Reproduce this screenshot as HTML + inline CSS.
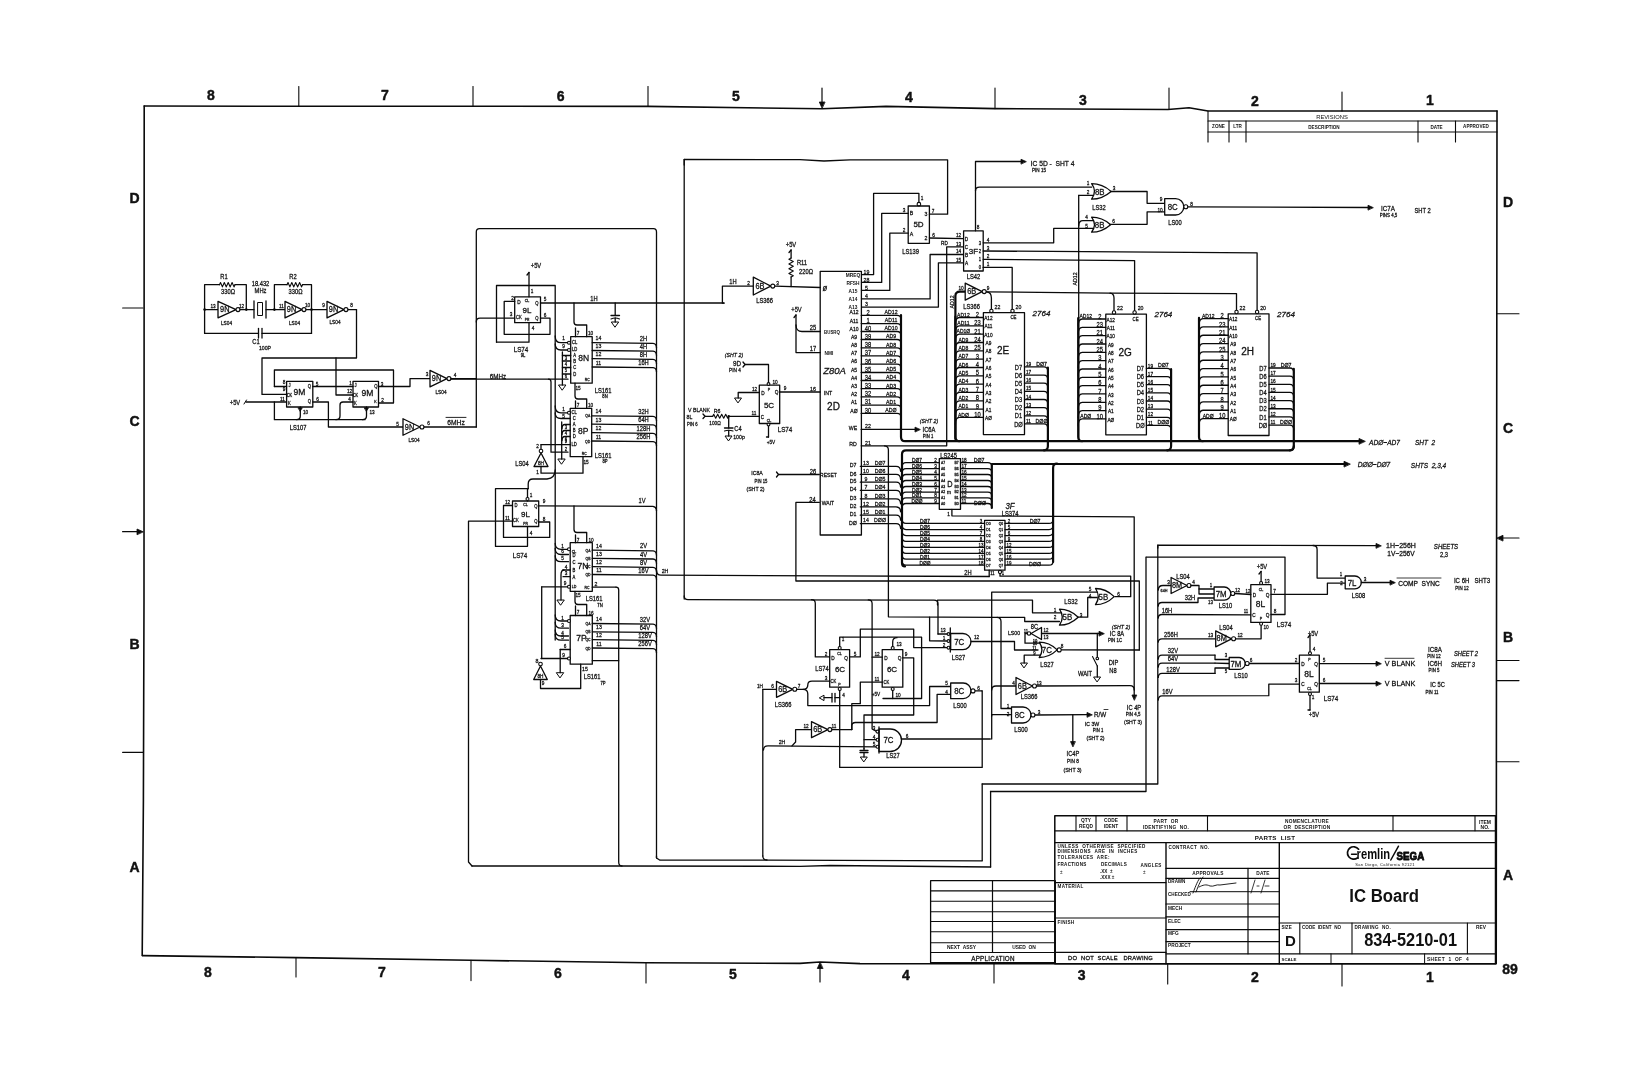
<!DOCTYPE html>
<html><head><meta charset="utf-8"><style>
html,body{margin:0;padding:0;background:#fff;}
body{width:1650px;height:1067px;overflow:hidden;}
svg{display:block;filter:grayscale(1);}
text{font-family:"Liberation Sans",sans-serif;white-space:pre;}
</style></head><body>
<svg width="1650" height="1067" viewBox="0 0 1650 1067" stroke-linecap="round" stroke-linejoin="round">
<rect x="0" y="0" width="1650" height="1067" fill="#fff"/>
<polyline points="144.2,106.0 298.8,106.3 473.0,106.2 648.0,106.4 822.0,108.8 886.0,106.4 995.0,108.6 1168.0,109.5 1189.0,107.8 1208.0,111.0 1497.0,111.0" fill="none" stroke="#0a0a0a" stroke-width="1.6"/>
<polyline points="144.2,106.0 144.0,600.0 143.4,800.0 142.2,955.6" fill="none" stroke="#0a0a0a" stroke-width="1.6"/>
<polyline points="142.5,955.6 296.0,957.6 471.0,960.3 646.0,962.7 800.0,963.4 820.0,962.0 860.0,963.6 930.6,963.8 1055.0,963.8 1495.6,963.8" fill="none" stroke="#0a0a0a" stroke-width="1.6"/>
<polyline points="1497.0,111.0 1496.2,963.8" fill="none" stroke="#0a0a0a" stroke-width="1.6"/>
<polyline points="298.8,86.5 298.8,106.3" fill="none" stroke="#0a0a0a" stroke-width="1.1"/>
<polyline points="473.0,86.5 473.0,106.2" fill="none" stroke="#0a0a0a" stroke-width="1.1"/>
<polyline points="648.0,86.5 648.0,106.4" fill="none" stroke="#0a0a0a" stroke-width="1.1"/>
<polyline points="995.0,88.0 995.0,108.6" fill="none" stroke="#0a0a0a" stroke-width="1.1"/>
<polyline points="1169.0,88.0 1169.0,109.5" fill="none" stroke="#0a0a0a" stroke-width="1.1"/>
<polyline points="1342.0,92.0 1342.0,111.0" fill="none" stroke="#0a0a0a" stroke-width="1.1"/>
<polyline points="822.0,88.0 822.0,104.0" fill="none" stroke="#0a0a0a" stroke-width="1.2"/>
<path d="M822,108 L819.3,102 L824.7,102 Z" fill="#0a0a0a" stroke="#0a0a0a" stroke-width="0.8"/>
<text x="210.8" y="95.0" font-family="Liberation Sans" font-size="14" text-anchor="middle" font-weight="bold" fill="#111" stroke="#111" stroke-width="0.45" dominant-baseline="central">8</text>
<text x="385.0" y="95.0" font-family="Liberation Sans" font-size="14" text-anchor="middle" font-weight="bold" fill="#111" stroke="#111" stroke-width="0.45" dominant-baseline="central">7</text>
<text x="560.6" y="95.5" font-family="Liberation Sans" font-size="14" text-anchor="middle" font-weight="bold" fill="#111" stroke="#111" stroke-width="0.45" dominant-baseline="central">6</text>
<text x="736.0" y="96.0" font-family="Liberation Sans" font-size="14" text-anchor="middle" font-weight="bold" fill="#111" stroke="#111" stroke-width="0.45" dominant-baseline="central">5</text>
<text x="909.0" y="96.5" font-family="Liberation Sans" font-size="14" text-anchor="middle" font-weight="bold" fill="#111" stroke="#111" stroke-width="0.45" dominant-baseline="central">4</text>
<text x="1083.0" y="100.0" font-family="Liberation Sans" font-size="14" text-anchor="middle" font-weight="bold" fill="#111" stroke="#111" stroke-width="0.45" dominant-baseline="central">3</text>
<text x="1255.0" y="100.5" font-family="Liberation Sans" font-size="14" text-anchor="middle" font-weight="bold" fill="#111" stroke="#111" stroke-width="0.45" dominant-baseline="central">2</text>
<text x="1430.0" y="99.5" font-family="Liberation Sans" font-size="14" text-anchor="middle" font-weight="bold" fill="#111" stroke="#111" stroke-width="0.45" dominant-baseline="central">1</text>
<polyline points="296.0,957.6 296.0,977.0" fill="none" stroke="#0a0a0a" stroke-width="1.1"/>
<polyline points="471.0,960.3 471.0,980.6" fill="none" stroke="#0a0a0a" stroke-width="1.1"/>
<polyline points="646.0,962.7 646.0,983.0" fill="none" stroke="#0a0a0a" stroke-width="1.1"/>
<polyline points="994.0,964.0 994.0,983.0" fill="none" stroke="#0a0a0a" stroke-width="1.1"/>
<polyline points="1167.7,964.0 1167.7,984.0" fill="none" stroke="#0a0a0a" stroke-width="1.1"/>
<polyline points="1342.0,964.0 1342.0,986.0" fill="none" stroke="#0a0a0a" stroke-width="1.1"/>
<polyline points="820.0,966.0 820.0,982.0" fill="none" stroke="#0a0a0a" stroke-width="1.2"/>
<path d="M820,962.5 L817.3,968.5 L822.7,968.5 Z" fill="#0a0a0a" stroke="#0a0a0a" stroke-width="0.8"/>
<text x="208.0" y="971.6" font-family="Liberation Sans" font-size="14" text-anchor="middle" font-weight="bold" fill="#111" stroke="#111" stroke-width="0.45" dominant-baseline="central">8</text>
<text x="382.0" y="971.5" font-family="Liberation Sans" font-size="14" text-anchor="middle" font-weight="bold" fill="#111" stroke="#111" stroke-width="0.45" dominant-baseline="central">7</text>
<text x="558.0" y="972.5" font-family="Liberation Sans" font-size="14" text-anchor="middle" font-weight="bold" fill="#111" stroke="#111" stroke-width="0.45" dominant-baseline="central">6</text>
<text x="733.0" y="974.0" font-family="Liberation Sans" font-size="14" text-anchor="middle" font-weight="bold" fill="#111" stroke="#111" stroke-width="0.45" dominant-baseline="central">5</text>
<text x="906.0" y="975.0" font-family="Liberation Sans" font-size="14" text-anchor="middle" font-weight="bold" fill="#111" stroke="#111" stroke-width="0.45" dominant-baseline="central">4</text>
<text x="1081.7" y="975.0" font-family="Liberation Sans" font-size="14" text-anchor="middle" font-weight="bold" fill="#111" stroke="#111" stroke-width="0.45" dominant-baseline="central">3</text>
<text x="1255.0" y="977.0" font-family="Liberation Sans" font-size="14" text-anchor="middle" font-weight="bold" fill="#111" stroke="#111" stroke-width="0.45" dominant-baseline="central">2</text>
<text x="1430.0" y="977.0" font-family="Liberation Sans" font-size="14" text-anchor="middle" font-weight="bold" fill="#111" stroke="#111" stroke-width="0.45" dominant-baseline="central">1</text>
<text x="1510.0" y="969.0" font-family="Liberation Sans" font-size="14" text-anchor="middle" font-weight="bold" fill="#111" stroke="#111" stroke-width="0.45" dominant-baseline="central">89</text>
<polyline points="122.6,308.0 143.0,308.0" fill="none" stroke="#0a0a0a" stroke-width="1.1"/>
<polyline points="122.6,752.4 143.0,752.4" fill="none" stroke="#0a0a0a" stroke-width="1.1"/>
<polyline points="122.6,531.7 137.0,531.7" fill="none" stroke="#0a0a0a" stroke-width="1.2"/>
<path d="M143,531.7 L137,529.0 L137,534.4000000000001 Z" fill="#0a0a0a" stroke="#0a0a0a" stroke-width="0.8"/>
<text x="134.6" y="197.8" font-family="Liberation Sans" font-size="14" text-anchor="middle" font-weight="bold" fill="#111" stroke="#111" stroke-width="0.45" dominant-baseline="central">D</text>
<text x="134.6" y="420.6" font-family="Liberation Sans" font-size="14" text-anchor="middle" font-weight="bold" fill="#111" stroke="#111" stroke-width="0.45" dominant-baseline="central">C</text>
<text x="134.6" y="644.0" font-family="Liberation Sans" font-size="14" text-anchor="middle" font-weight="bold" fill="#111" stroke="#111" stroke-width="0.45" dominant-baseline="central">B</text>
<text x="134.6" y="867.0" font-family="Liberation Sans" font-size="14" text-anchor="middle" font-weight="bold" fill="#111" stroke="#111" stroke-width="0.45" dominant-baseline="central">A</text>
<polyline points="1496.5,313.7 1519.0,313.7" fill="none" stroke="#0a0a0a" stroke-width="1.1"/>
<polyline points="1496.5,761.7 1519.0,761.7" fill="none" stroke="#0a0a0a" stroke-width="1.1"/>
<polyline points="1496.5,660.5 1519.0,660.5" fill="none" stroke="#0a0a0a" stroke-width="1.1"/>
<polyline points="1496.5,680.6 1519.0,680.6" fill="none" stroke="#0a0a0a" stroke-width="1.1"/>
<polyline points="1502.0,538.0 1519.0,538.0" fill="none" stroke="#0a0a0a" stroke-width="1.2"/>
<path d="M1497,538 L1503,535.3 L1503,540.7 Z" fill="#0a0a0a" stroke="#0a0a0a" stroke-width="0.8"/>
<text x="1508.0" y="202.0" font-family="Liberation Sans" font-size="14" text-anchor="middle" font-weight="bold" fill="#111" stroke="#111" stroke-width="0.45" dominant-baseline="central">D</text>
<text x="1508.0" y="428.0" font-family="Liberation Sans" font-size="14" text-anchor="middle" font-weight="bold" fill="#111" stroke="#111" stroke-width="0.45" dominant-baseline="central">C</text>
<text x="1508.0" y="637.0" font-family="Liberation Sans" font-size="14" text-anchor="middle" font-weight="bold" fill="#111" stroke="#111" stroke-width="0.45" dominant-baseline="central">B</text>
<text x="1508.0" y="875.0" font-family="Liberation Sans" font-size="14" text-anchor="middle" font-weight="bold" fill="#111" stroke="#111" stroke-width="0.45" dominant-baseline="central">A</text>
<polyline points="1208.0,121.0 1497.0,121.0" fill="none" stroke="#0a0a0a" stroke-width="1.1"/>
<polyline points="1208.0,132.0 1497.0,132.0" fill="none" stroke="#0a0a0a" stroke-width="1.1"/>
<polyline points="1208.0,111.0 1208.0,142.0" fill="none" stroke="#0a0a0a" stroke-width="1.1"/>
<polyline points="1229.0,121.0 1229.0,142.0" fill="none" stroke="#0a0a0a" stroke-width="1.1"/>
<polyline points="1246.0,121.0 1246.0,142.0" fill="none" stroke="#0a0a0a" stroke-width="1.1"/>
<polyline points="1418.0,121.0 1418.0,142.0" fill="none" stroke="#0a0a0a" stroke-width="1.1"/>
<polyline points="1455.5,121.0 1455.5,142.0" fill="none" stroke="#0a0a0a" stroke-width="1.1"/>
<text x="1332.0" y="116.8" font-family="Liberation Sans" font-size="5.8" text-anchor="middle" font-weight="normal" fill="#111" dominant-baseline="central">REVISIONS</text>
<text x="1218.5" y="126.5" font-family="Liberation Sans" font-size="4.6" text-anchor="middle" font-weight="bold" fill="#111" dominant-baseline="central">ZONE</text>
<text x="1237.5" y="126.5" font-family="Liberation Sans" font-size="4.6" text-anchor="middle" font-weight="bold" fill="#111" dominant-baseline="central">LTR</text>
<text x="1324.0" y="127.5" font-family="Liberation Sans" font-size="4.6" text-anchor="middle" font-weight="bold" fill="#111" dominant-baseline="central">DESCRIPTION</text>
<text x="1436.5" y="127.0" font-family="Liberation Sans" font-size="4.6" text-anchor="middle" font-weight="bold" fill="#111" dominant-baseline="central">DATE</text>
<text x="1476.0" y="126.5" font-family="Liberation Sans" font-size="4.6" text-anchor="middle" font-weight="bold" fill="#111" dominant-baseline="central">APPROVED</text>
<rect x="1054.8" y="815.7" width="440.7" height="148.1" fill="none" stroke="#0a0a0a" stroke-width="1.5"/>
<polyline points="1054.8,830.8 1495.5,830.8" fill="none" stroke="#0a0a0a" stroke-width="1.2"/>
<polyline points="1054.8,842.7 1495.5,842.7" fill="none" stroke="#0a0a0a" stroke-width="1.2"/>
<polyline points="1076.0,815.7 1076.0,830.8" fill="none" stroke="#0a0a0a" stroke-width="1.1"/>
<polyline points="1096.0,815.7 1096.0,830.8" fill="none" stroke="#0a0a0a" stroke-width="1.1"/>
<polyline points="1127.0,815.7 1127.0,830.8" fill="none" stroke="#0a0a0a" stroke-width="1.1"/>
<polyline points="1207.5,815.7 1207.5,830.8" fill="none" stroke="#0a0a0a" stroke-width="1.1"/>
<polyline points="1393.0,815.7 1393.0,830.8" fill="none" stroke="#0a0a0a" stroke-width="1.1"/>
<polyline points="1475.0,815.7 1475.0,830.8" fill="none" stroke="#0a0a0a" stroke-width="1.1"/>
<text x="1086.0" y="820.5" font-family="Liberation Sans" font-size="4.8" text-anchor="middle" font-weight="bold" fill="#111" dominant-baseline="central">QTY</text>
<text x="1086.0" y="826.0" font-family="Liberation Sans" font-size="4.8" text-anchor="middle" font-weight="bold" fill="#111" dominant-baseline="central">REQD</text>
<text x="1111.0" y="820.5" font-family="Liberation Sans" font-size="4.8" text-anchor="middle" font-weight="bold" fill="#111" dominant-baseline="central">CODE</text>
<text x="1111.0" y="826.0" font-family="Liberation Sans" font-size="4.8" text-anchor="middle" font-weight="bold" fill="#111" dominant-baseline="central">IDENT</text>
<text x="1166.0" y="821.5" font-family="Liberation Sans" font-size="4.8" text-anchor="middle" font-weight="bold" letter-spacing="0.3" fill="#111" dominant-baseline="central">PART  OR</text>
<text x="1166.0" y="827.3" font-family="Liberation Sans" font-size="4.8" text-anchor="middle" font-weight="bold" letter-spacing="0.3" fill="#111" dominant-baseline="central">IDENTIFYING  NO.</text>
<text x="1307.0" y="821.5" font-family="Liberation Sans" font-size="4.8" text-anchor="middle" font-weight="bold" letter-spacing="0.3" fill="#111" dominant-baseline="central">NOMENCLATURE</text>
<text x="1307.0" y="827.3" font-family="Liberation Sans" font-size="4.8" text-anchor="middle" font-weight="bold" letter-spacing="0.3" fill="#111" dominant-baseline="central">OR  DESCRIPTION</text>
<text x="1485.0" y="821.5" font-family="Liberation Sans" font-size="5" text-anchor="middle" font-weight="bold" fill="#111" dominant-baseline="central">ITEM</text>
<text x="1485.0" y="827.3" font-family="Liberation Sans" font-size="5" text-anchor="middle" font-weight="bold" fill="#111" dominant-baseline="central">NO.</text>
<text x="1275.0" y="837.5" font-family="Liberation Sans" font-size="6.2" text-anchor="middle" font-weight="bold" letter-spacing="0.3" fill="#111" dominant-baseline="central">PARTS  LIST</text>
<polyline points="1166.0,842.7 1166.0,963.8" fill="none" stroke="#0a0a0a" stroke-width="1.4"/>
<polyline points="1279.3,842.7 1279.3,963.8" fill="none" stroke="#0a0a0a" stroke-width="1.4"/>
<text x="1057.5" y="846.2" font-family="Liberation Sans" font-size="4.6" text-anchor="start" font-weight="bold" letter-spacing="0.45" fill="#111" dominant-baseline="central">UNLESS  OTHERWISE  SPECIFIED</text>
<text x="1057.5" y="851.8" font-family="Liberation Sans" font-size="4.6" text-anchor="start" font-weight="bold" letter-spacing="0.45" fill="#111" dominant-baseline="central">DIMENSIONS  ARE  IN  INCHES</text>
<text x="1057.5" y="857.4" font-family="Liberation Sans" font-size="4.6" text-anchor="start" font-weight="bold" letter-spacing="0.45" fill="#111" dominant-baseline="central">TOLERANCES  ARE:</text>
<text x="1057.5" y="864.5" font-family="Liberation Sans" font-size="4.6" text-anchor="start" font-weight="bold" letter-spacing="0.25" fill="#111" dominant-baseline="central">FRACTIONS</text>
<text x="1101.0" y="864.8" font-family="Liberation Sans" font-size="4.6" text-anchor="start" font-weight="bold" letter-spacing="0.25" fill="#111" dominant-baseline="central">DECIMALS</text>
<text x="1140.5" y="865.2" font-family="Liberation Sans" font-size="4.6" text-anchor="start" font-weight="bold" letter-spacing="0.35" fill="#111" dominant-baseline="central">ANGLES</text>
<text x="1060.0" y="872.0" font-family="Liberation Sans" font-size="4.6" text-anchor="start" font-weight="normal" fill="#111" dominant-baseline="central">±</text>
<text x="1100.0" y="871.0" font-family="Liberation Sans" font-size="4.6" text-anchor="start" font-weight="bold" fill="#111" dominant-baseline="central">.XX  ±</text>
<text x="1100.0" y="877.0" font-family="Liberation Sans" font-size="4.6" text-anchor="start" font-weight="bold" fill="#111" dominant-baseline="central">.XXX ±</text>
<text x="1143.0" y="872.0" font-family="Liberation Sans" font-size="4.6" text-anchor="start" font-weight="normal" fill="#111" dominant-baseline="central">±</text>
<polyline points="1054.8,882.6 1166.0,882.6" fill="none" stroke="#0a0a0a" stroke-width="1.2"/>
<text x="1057.5" y="886.5" font-family="Liberation Sans" font-size="4.6" text-anchor="start" font-weight="bold" letter-spacing="0.35" fill="#111" dominant-baseline="central">MATERIAL</text>
<polyline points="1054.8,918.0 1166.0,918.0" fill="none" stroke="#0a0a0a" stroke-width="1.2"/>
<text x="1057.5" y="922.0" font-family="Liberation Sans" font-size="4.6" text-anchor="start" font-weight="bold" letter-spacing="0.3" fill="#111" dominant-baseline="central">FINISH</text>
<polyline points="1054.8,952.4 1166.0,952.4" fill="none" stroke="#0a0a0a" stroke-width="1.2"/>
<text x="1110.5" y="957.8" font-family="Liberation Sans" font-size="5.8" text-anchor="middle" font-weight="normal" letter-spacing="0.25" fill="#111" stroke="#111" stroke-width="0.28" dominant-baseline="central">DO  NOT  SCALE   DRAWING</text>
<text x="1168.5" y="847.0" font-family="Liberation Sans" font-size="4.6" text-anchor="start" font-weight="bold" letter-spacing="0.35" fill="#111" dominant-baseline="central">CONTRACT  NO.</text>
<polyline points="1166.0,868.4 1279.3,868.4" fill="none" stroke="#0a0a0a" stroke-width="1.2"/>
<text x="1208.0" y="873.0" font-family="Liberation Sans" font-size="4.8" text-anchor="middle" font-weight="bold" letter-spacing="0.2" fill="#111" dominant-baseline="central">APPROVALS</text>
<text x="1263.0" y="873.0" font-family="Liberation Sans" font-size="4.8" text-anchor="middle" font-weight="bold" letter-spacing="0.2" fill="#111" dominant-baseline="central">DATE</text>
<polyline points="1248.0,868.4 1248.0,953.8" fill="none" stroke="#0a0a0a" stroke-width="1.2"/>
<polyline points="1166.0,878.3 1279.3,878.3" fill="none" stroke="#0a0a0a" stroke-width="1.2"/>
<polyline points="1190.0,891.7 1279.3,891.7" fill="none" stroke="#0a0a0a" stroke-width="1.0"/>
<polyline points="1166.0,904.0 1279.3,904.0" fill="none" stroke="#0a0a0a" stroke-width="1.2"/>
<polyline points="1166.0,916.8 1279.3,916.8" fill="none" stroke="#0a0a0a" stroke-width="1.2"/>
<polyline points="1166.0,929.6 1279.3,929.6" fill="none" stroke="#0a0a0a" stroke-width="1.2"/>
<polyline points="1166.0,941.6 1279.3,941.6" fill="none" stroke="#0a0a0a" stroke-width="1.2"/>
<polyline points="1166.0,953.8 1279.3,953.8" fill="none" stroke="#0a0a0a" stroke-width="1.2"/>
<text x="1168.0" y="881.5" font-family="Liberation Sans" font-size="4.6" text-anchor="start" font-weight="bold" fill="#111" dominant-baseline="central">DRAWN</text>
<text x="1168.0" y="894.5" font-family="Liberation Sans" font-size="4.6" text-anchor="start" font-weight="bold" fill="#111" dominant-baseline="central">CHECKED</text>
<text x="1168.0" y="908.5" font-family="Liberation Sans" font-size="4.8" text-anchor="start" font-weight="bold" fill="#111" dominant-baseline="central">MECH</text>
<text x="1168.0" y="921.3" font-family="Liberation Sans" font-size="4.8" text-anchor="start" font-weight="bold" fill="#111" dominant-baseline="central">ELEC</text>
<text x="1168.0" y="933.5" font-family="Liberation Sans" font-size="4.8" text-anchor="start" font-weight="bold" fill="#111" dominant-baseline="central">MFG</text>
<text x="1168.0" y="945.5" font-family="Liberation Sans" font-size="4.8" text-anchor="start" font-weight="bold" fill="#111" dominant-baseline="central">PROJECT</text>
<path d="M1193,893 C1196,885 1198,880 1200,878 M1196,892 C1199,884 1201,880 1203,877 M1199,887 C1203,885 1206,884 1210,886 C1214,887 1216,884 1220,885 L1236,883" fill="none" stroke="#0a0a0a" stroke-width="0.9"/>
<path d="M1251,893 L1255,880 M1257,886 L1259,886 M1261,893 L1265,880 M1265,886 L1269,886" fill="none" stroke="#0a0a0a" stroke-width="0.8"/>
<polyline points="1279.3,868.4 1495.5,868.4" fill="none" stroke="#0a0a0a" stroke-width="1.2"/>
<path d="M1358.6,849.2 A6.2,6.2 0 1 0 1357.5,857.8" fill="none" stroke="#0a0a0a" stroke-width="1.7"/>
<polyline points="1351.5,854.3 1356.5,854.3" fill="none" stroke="#0a0a0a" stroke-width="1.4"/>
<text transform="translate(1356.6,859.3) scale(0.8,1)" font-family="Liberation Sans" font-size="14" font-weight="bold" fill="#0a0a0a">remlin</text>
<polyline points="1398.5,846.2 1390.8,860.0" fill="none" stroke="#0a0a0a" stroke-width="1.5"/>
<text transform="translate(1396.6,859.6) scale(0.84,1)" font-family="Liberation Sans" font-size="11.6" font-weight="bold" fill="#0a0a0a" stroke="#0a0a0a" stroke-width="0.9">SEGA</text>
<text x="1385.0" y="864.5" font-family="Liberation Sans" font-size="4.0" text-anchor="middle" font-weight="normal" letter-spacing="0.35" fill="#111" dominant-baseline="central">San Diego, California 92121</text>
<text transform="translate(1384.2,896.0) scale(0.9,1)" font-family="Liberation Sans" font-size="18.6" text-anchor="middle" font-weight="bold" fill="#111" dominant-baseline="central">IC Board</text>
<polyline points="1279.3,923.0 1495.5,923.0" fill="none" stroke="#0a0a0a" stroke-width="1.2"/>
<polyline points="1299.8,923.0 1299.8,953.8" fill="none" stroke="#0a0a0a" stroke-width="1.1"/>
<polyline points="1352.0,923.0 1352.0,953.8" fill="none" stroke="#0a0a0a" stroke-width="1.1"/>
<polyline points="1467.4,923.0 1467.4,953.8" fill="none" stroke="#0a0a0a" stroke-width="1.1"/>
<text x="1281.5" y="927.5" font-family="Liberation Sans" font-size="4.6" text-anchor="start" font-weight="bold" fill="#111" dominant-baseline="central">SIZE</text>
<text x="1302.0" y="927.5" font-family="Liberation Sans" font-size="4.6" text-anchor="start" font-weight="bold" fill="#111" dominant-baseline="central">CODE  IDENT  NO</text>
<text x="1354.5" y="927.5" font-family="Liberation Sans" font-size="4.6" text-anchor="start" font-weight="bold" letter-spacing="0.3" fill="#111" dominant-baseline="central">DRAWING  NO.</text>
<text x="1481.0" y="927.5" font-family="Liberation Sans" font-size="4.8" text-anchor="middle" font-weight="bold" fill="#111" dominant-baseline="central">REV</text>
<text x="1290.5" y="940.5" font-family="Liberation Sans" font-size="15" text-anchor="middle" font-weight="bold" fill="#111" dominant-baseline="central">D</text>
<text transform="translate(1410.6,940.0) scale(0.93,1)" font-family="Liberation Sans" font-size="17.6" text-anchor="middle" font-weight="bold" fill="#111" dominant-baseline="central">834-5210-01</text>
<polyline points="1279.3,953.8 1495.5,953.8" fill="none" stroke="#0a0a0a" stroke-width="1.2"/>
<polyline points="1331.0,953.8 1331.0,963.8" fill="none" stroke="#0a0a0a" stroke-width="1.0"/>
<polyline points="1424.6,953.8 1424.6,963.8" fill="none" stroke="#0a0a0a" stroke-width="1.0"/>
<text x="1281.5" y="959.5" font-family="Liberation Sans" font-size="4.4" text-anchor="start" font-weight="bold" fill="#111" dominant-baseline="central">SCALE</text>
<text x="1427.0" y="959.5" font-family="Liberation Sans" font-size="4.8" text-anchor="start" font-weight="bold" letter-spacing="0.4" fill="#111" dominant-baseline="central">SHEET  1  OF  4</text>
<rect x="930.6" y="880.7" width="124.7" height="82.0" fill="none" stroke="#0a0a0a" stroke-width="1.3"/>
<polyline points="992.5,880.7 992.5,952.5" fill="none" stroke="#0a0a0a" stroke-width="1.2"/>
<polyline points="930.6,890.9 1055.3,890.9" fill="none" stroke="#0a0a0a" stroke-width="1.1"/>
<polyline points="930.6,901.3 1055.3,901.3" fill="none" stroke="#0a0a0a" stroke-width="1.1"/>
<polyline points="930.6,911.8 1055.3,911.8" fill="none" stroke="#0a0a0a" stroke-width="1.1"/>
<polyline points="930.6,921.5 1055.3,921.5" fill="none" stroke="#0a0a0a" stroke-width="1.1"/>
<polyline points="930.6,931.8 1055.3,931.8" fill="none" stroke="#0a0a0a" stroke-width="1.1"/>
<polyline points="930.6,942.7 1055.3,942.7" fill="none" stroke="#0a0a0a" stroke-width="1.1"/>
<polyline points="930.6,952.5 1055.3,952.5" fill="none" stroke="#0a0a0a" stroke-width="1.1"/>
<text x="961.5" y="947.5" font-family="Liberation Sans" font-size="4.9" text-anchor="middle" font-weight="bold" fill="#111" dominant-baseline="central">NEXT  ASSY</text>
<text x="1024.0" y="947.3" font-family="Liberation Sans" font-size="4.9" text-anchor="middle" font-weight="bold" fill="#111" dominant-baseline="central">USED  ON</text>
<text x="993.0" y="958.0" font-family="Liberation Sans" font-size="6.3" text-anchor="middle" font-weight="normal" letter-spacing="0.2" fill="#111" stroke="#111" stroke-width="0.28" dominant-baseline="central">APPLICATION</text>
<polyline points="204.6,309.6 218.0,309.6" fill="none" stroke="#0a0a0a" stroke-width="1.3"/>
<path d="M218,301.35 L236,309.6 L218,317.85 Z" fill="white" stroke="#0a0a0a" stroke-width="1.3"/>
<circle cx="238.0" cy="309.6" r="2.0" fill="white" stroke="#0a0a0a" stroke-width="1.1"/>
<text transform="translate(224.8,309.6) scale(0.86,1)" font-family="Liberation Sans" font-size="8.54" text-anchor="middle" font-weight="normal" fill="#111" stroke="#111" stroke-width="0.28" dominant-baseline="central">9N</text>
<polyline points="240.0,309.6 254.0,309.6" fill="none" stroke="#0a0a0a" stroke-width="1.3"/>
<text transform="translate(213.0,306.0) scale(0.86,1)" font-family="Liberation Sans" font-size="5.49" text-anchor="middle" font-weight="normal" fill="#111" stroke="#111" stroke-width="0.28" dominant-baseline="central">13</text>
<text transform="translate(241.5,305.5) scale(0.86,1)" font-family="Liberation Sans" font-size="5.49" text-anchor="middle" font-weight="normal" fill="#111" stroke="#111" stroke-width="0.28" dominant-baseline="central">12</text>
<text transform="translate(226.5,322.5) scale(0.86,1)" font-family="Liberation Sans" font-size="5.49" text-anchor="middle" font-weight="normal" fill="#111" stroke="#111" stroke-width="0.28" dominant-baseline="central">LS04</text>
<polyline points="254.0,301.0 254.0,318.0" fill="none" stroke="#0a0a0a" stroke-width="1.3"/>
<polyline points="266.0,301.0 266.0,318.0" fill="none" stroke="#0a0a0a" stroke-width="1.3"/>
<rect x="258.0" y="302.5" width="4.5" height="13.0" fill="none" stroke="#0a0a0a" stroke-width="1.0"/>
<polyline points="266.0,309.6 285.0,309.6" fill="none" stroke="#0a0a0a" stroke-width="1.3"/>
<text transform="translate(260.5,283.0) scale(0.86,1)" font-family="Liberation Sans" font-size="6.71" text-anchor="middle" font-weight="normal" fill="#111" stroke="#111" stroke-width="0.28" dominant-baseline="central">18.432</text>
<text transform="translate(260.5,290.5) scale(0.86,1)" font-family="Liberation Sans" font-size="6.71" text-anchor="middle" font-weight="normal" fill="#111" stroke="#111" stroke-width="0.28" dominant-baseline="central">MHz</text>
<path d="M285,301.35 L302,309.6 L285,317.85 Z" fill="white" stroke="#0a0a0a" stroke-width="1.3"/>
<circle cx="304.0" cy="309.6" r="2.0" fill="white" stroke="#0a0a0a" stroke-width="1.1"/>
<text transform="translate(291.5,309.6) scale(0.86,1)" font-family="Liberation Sans" font-size="8.54" text-anchor="middle" font-weight="normal" fill="#111" stroke="#111" stroke-width="0.28" dominant-baseline="central">9N</text>
<polyline points="306.0,309.6 327.0,309.6" fill="none" stroke="#0a0a0a" stroke-width="1.3"/>
<text transform="translate(281.5,305.5) scale(0.86,1)" font-family="Liberation Sans" font-size="5.49" text-anchor="middle" font-weight="normal" fill="#111" stroke="#111" stroke-width="0.28" dominant-baseline="central">11</text>
<text transform="translate(307.5,305.0) scale(0.86,1)" font-family="Liberation Sans" font-size="5.49" text-anchor="middle" font-weight="normal" fill="#111" stroke="#111" stroke-width="0.28" dominant-baseline="central">10</text>
<text transform="translate(294.5,322.5) scale(0.86,1)" font-family="Liberation Sans" font-size="5.49" text-anchor="middle" font-weight="normal" fill="#111" stroke="#111" stroke-width="0.28" dominant-baseline="central">LS04</text>
<path d="M327,301.35 L344,309.6 L327,317.85 Z" fill="white" stroke="#0a0a0a" stroke-width="1.3"/>
<circle cx="346.0" cy="309.6" r="2.0" fill="white" stroke="#0a0a0a" stroke-width="1.1"/>
<text transform="translate(333.5,309.6) scale(0.86,1)" font-family="Liberation Sans" font-size="8.54" text-anchor="middle" font-weight="normal" fill="#111" stroke="#111" stroke-width="0.28" dominant-baseline="central">9N</text>
<polyline points="348.0,309.6 356.5,309.6" fill="none" stroke="#0a0a0a" stroke-width="1.3"/>
<text transform="translate(323.5,305.0) scale(0.86,1)" font-family="Liberation Sans" font-size="5.49" text-anchor="middle" font-weight="normal" fill="#111" stroke="#111" stroke-width="0.28" dominant-baseline="central">9</text>
<text transform="translate(351.5,305.0) scale(0.86,1)" font-family="Liberation Sans" font-size="5.49" text-anchor="middle" font-weight="normal" fill="#111" stroke="#111" stroke-width="0.28" dominant-baseline="central">8</text>
<text transform="translate(335.0,321.5) scale(0.86,1)" font-family="Liberation Sans" font-size="5.49" text-anchor="middle" font-weight="normal" fill="#111" stroke="#111" stroke-width="0.28" dominant-baseline="central">LS04</text>
<polyline points="204.6,333.4 204.6,284.7 219.5,284.7" fill="none" stroke="#0a0a0a" stroke-width="1.3"/>
<polyline points="219.5,284.7 220.5,282.5 222.4,286.9 224.3,282.5 226.3,286.9 228.2,282.5 230.2,286.9 232.1,282.5 234.0,286.9 235.0,284.7" fill="none" stroke="#0a0a0a" stroke-width="1.1"/>
<polyline points="235.0,284.7 246.3,284.7 246.3,309.6" fill="none" stroke="#0a0a0a" stroke-width="1.3"/>
<text transform="translate(224.0,276.0) scale(0.86,1)" font-family="Liberation Sans" font-size="6.71" text-anchor="middle" font-weight="normal" fill="#111" stroke="#111" stroke-width="0.28" dominant-baseline="central">R1</text>
<text transform="translate(228.0,291.5) scale(0.86,1)" font-family="Liberation Sans" font-size="6.71" text-anchor="middle" font-weight="normal" fill="#111" stroke="#111" stroke-width="0.28" dominant-baseline="central">330Ω</text>
<polyline points="274.4,309.6 274.4,284.7 287.0,284.7" fill="none" stroke="#0a0a0a" stroke-width="1.3"/>
<polyline points="287.0,284.7 288.0,282.5 289.9,286.9 291.8,282.5 293.8,286.9 295.7,282.5 297.7,286.9 299.6,282.5 301.5,286.9 302.5,284.7" fill="none" stroke="#0a0a0a" stroke-width="1.1"/>
<polyline points="302.5,284.7 311.5,284.7 311.5,333.4" fill="none" stroke="#0a0a0a" stroke-width="1.3"/>
<text transform="translate(293.0,276.5) scale(0.86,1)" font-family="Liberation Sans" font-size="6.71" text-anchor="middle" font-weight="normal" fill="#111" stroke="#111" stroke-width="0.28" dominant-baseline="central">R2</text>
<text transform="translate(295.5,291.0) scale(0.86,1)" font-family="Liberation Sans" font-size="6.71" text-anchor="middle" font-weight="normal" fill="#111" stroke="#111" stroke-width="0.28" dominant-baseline="central">330Ω</text>
<polyline points="204.6,333.4 258.5,333.4" fill="none" stroke="#0a0a0a" stroke-width="1.3"/>
<polyline points="262.0,333.4 311.5,333.4" fill="none" stroke="#0a0a0a" stroke-width="1.3"/>
<polyline points="258.5,328.5 258.5,338.0" fill="none" stroke="#0a0a0a" stroke-width="1.3"/>
<polyline points="262.0,328.5 262.0,338.0" fill="none" stroke="#0a0a0a" stroke-width="1.3"/>
<text transform="translate(256.0,341.5) scale(0.86,1)" font-family="Liberation Sans" font-size="6.71" text-anchor="middle" font-weight="normal" fill="#111" stroke="#111" stroke-width="0.28" dominant-baseline="central">C1</text>
<text transform="translate(265.0,348.0) scale(0.86,1)" font-family="Liberation Sans" font-size="6.1" text-anchor="middle" font-weight="normal" fill="#111" stroke="#111" stroke-width="0.28" dominant-baseline="central">100P</text>
<circle cx="204.6" cy="309.6" r="1.3" fill="#0a0a0a"/>
<circle cx="246.3" cy="309.6" r="1.3" fill="#0a0a0a"/>
<circle cx="274.4" cy="309.6" r="1.3" fill="#0a0a0a"/>
<circle cx="311.5" cy="309.6" r="1.3" fill="#0a0a0a"/>
<polyline points="356.5,309.6 356.5,358.0 262.0,358.0 262.0,394.4 286.6,394.4" fill="none" stroke="#0a0a0a" stroke-width="1.3"/>
<polyline points="336.0,358.0 336.0,395.0 353.0,395.0" fill="none" stroke="#0a0a0a" stroke-width="1.3"/>
<rect x="286.6" y="381.3" width="26.2" height="25.7" fill="none" stroke="#0a0a0a" stroke-width="1.3"/>
<rect x="353.0" y="381.3" width="25.5" height="25.7" fill="none" stroke="#0a0a0a" stroke-width="1.3"/>
<text x="299.5" y="392.0" font-family="Liberation Sans" font-size="8.5" text-anchor="middle" font-weight="normal" fill="#111" stroke="#111" stroke-width="0.28" dominant-baseline="central">9M</text>
<text x="367.5" y="393.0" font-family="Liberation Sans" font-size="8.5" text-anchor="middle" font-weight="normal" fill="#111" stroke="#111" stroke-width="0.28" dominant-baseline="central">9M</text>
<text transform="translate(289.5,385.5) scale(0.86,1)" font-family="Liberation Sans" font-size="4.88" text-anchor="middle" font-weight="normal" fill="#111" stroke="#111" stroke-width="0.28" dominant-baseline="central">J</text>
<text transform="translate(289.5,395.5) scale(0.86,1)" font-family="Liberation Sans" font-size="4.64" text-anchor="middle" font-weight="normal" fill="#111" stroke="#111" stroke-width="0.28" dominant-baseline="central">CK</text>
<text transform="translate(289.5,403.0) scale(0.86,1)" font-family="Liberation Sans" font-size="4.88" text-anchor="middle" font-weight="normal" fill="#111" stroke="#111" stroke-width="0.28" dominant-baseline="central">K</text>
<text transform="translate(355.5,385.5) scale(0.86,1)" font-family="Liberation Sans" font-size="4.88" text-anchor="middle" font-weight="normal" fill="#111" stroke="#111" stroke-width="0.28" dominant-baseline="central">J</text>
<text transform="translate(355.5,395.5) scale(0.86,1)" font-family="Liberation Sans" font-size="4.64" text-anchor="middle" font-weight="normal" fill="#111" stroke="#111" stroke-width="0.28" dominant-baseline="central">CK</text>
<text transform="translate(355.5,403.0) scale(0.86,1)" font-family="Liberation Sans" font-size="4.88" text-anchor="middle" font-weight="normal" fill="#111" stroke="#111" stroke-width="0.28" dominant-baseline="central">K</text>
<text transform="translate(309.5,386.0) scale(0.86,1)" font-family="Liberation Sans" font-size="4.88" text-anchor="middle" font-weight="normal" fill="#111" stroke="#111" stroke-width="0.28" dominant-baseline="central">Q</text>
<text transform="translate(376.0,386.0) scale(0.86,1)" font-family="Liberation Sans" font-size="4.88" text-anchor="middle" font-weight="normal" fill="#111" stroke="#111" stroke-width="0.28" dominant-baseline="central">Q</text>
<text transform="translate(309.5,401.5) scale(0.86,1)" font-family="Liberation Sans" font-size="4.88" text-anchor="middle" font-weight="normal" fill="#111" stroke="#111" stroke-width="0.28" dominant-baseline="central">Q</text>
<text transform="translate(375.5,401.5) scale(0.86,1)" font-family="Liberation Sans" font-size="4.27" text-anchor="middle" font-weight="normal" fill="#111" stroke="#111" stroke-width="0.28" dominant-baseline="central">K</text>
<text transform="translate(284.0,382.0) scale(0.86,1)" font-family="Liberation Sans" font-size="5.49" text-anchor="middle" font-weight="normal" fill="#111" stroke="#111" stroke-width="0.28" dominant-baseline="central">8</text>
<text transform="translate(284.0,389.0) scale(0.86,1)" font-family="Liberation Sans" font-size="5.49" text-anchor="middle" font-weight="normal" fill="#111" stroke="#111" stroke-width="0.28" dominant-baseline="central">9</text>
<text transform="translate(282.5,399.0) scale(0.86,1)" font-family="Liberation Sans" font-size="5.49" text-anchor="middle" font-weight="normal" fill="#111" stroke="#111" stroke-width="0.28" dominant-baseline="central">11</text>
<text transform="translate(317.0,384.0) scale(0.86,1)" font-family="Liberation Sans" font-size="5.49" text-anchor="middle" font-weight="normal" fill="#111" stroke="#111" stroke-width="0.28" dominant-baseline="central">5</text>
<text transform="translate(317.5,399.0) scale(0.86,1)" font-family="Liberation Sans" font-size="5.49" text-anchor="middle" font-weight="normal" fill="#111" stroke="#111" stroke-width="0.28" dominant-baseline="central">6</text>
<text transform="translate(350.5,383.0) scale(0.86,1)" font-family="Liberation Sans" font-size="5.49" text-anchor="middle" font-weight="normal" fill="#111" stroke="#111" stroke-width="0.28" dominant-baseline="central">1</text>
<text transform="translate(349.5,391.0) scale(0.86,1)" font-family="Liberation Sans" font-size="5.49" text-anchor="middle" font-weight="normal" fill="#111" stroke="#111" stroke-width="0.28" dominant-baseline="central">12</text>
<text transform="translate(349.5,399.0) scale(0.86,1)" font-family="Liberation Sans" font-size="5.49" text-anchor="middle" font-weight="normal" fill="#111" stroke="#111" stroke-width="0.28" dominant-baseline="central">4</text>
<text transform="translate(382.0,383.5) scale(0.86,1)" font-family="Liberation Sans" font-size="5.49" text-anchor="middle" font-weight="normal" fill="#111" stroke="#111" stroke-width="0.28" dominant-baseline="central">3</text>
<text transform="translate(382.5,399.5) scale(0.86,1)" font-family="Liberation Sans" font-size="5.49" text-anchor="middle" font-weight="normal" fill="#111" stroke="#111" stroke-width="0.28" dominant-baseline="central">2</text>
<text transform="translate(305.5,411.5) scale(0.86,1)" font-family="Liberation Sans" font-size="5.49" text-anchor="middle" font-weight="normal" fill="#111" stroke="#111" stroke-width="0.28" dominant-baseline="central">10</text>
<text transform="translate(372.0,411.5) scale(0.86,1)" font-family="Liberation Sans" font-size="5.49" text-anchor="middle" font-weight="normal" fill="#111" stroke="#111" stroke-width="0.28" dominant-baseline="central">13</text>
<polyline points="274.4,386.5 274.4,370.0 393.5,370.0 393.5,403.0 378.5,403.0" fill="none" stroke="#0a0a0a" stroke-width="1.3"/>
<polyline points="274.4,386.5 286.6,386.5" fill="none" stroke="#0a0a0a" stroke-width="1.3"/>
<polyline points="312.8,386.5 353.0,386.5" fill="none" stroke="#0a0a0a" stroke-width="1.3"/>
<polyline points="378.5,386.5 410.0,386.5 410.0,378.6 430.0,378.6" fill="none" stroke="#0a0a0a" stroke-width="1.3"/>
<path d="M430,370.35 L447,378.6 L430,386.85 Z" fill="white" stroke="#0a0a0a" stroke-width="1.3"/>
<circle cx="449.0" cy="378.6" r="2.0" fill="white" stroke="#0a0a0a" stroke-width="1.1"/>
<text transform="translate(436.5,378.6) scale(0.86,1)" font-family="Liberation Sans" font-size="8.54" text-anchor="middle" font-weight="normal" fill="#111" stroke="#111" stroke-width="0.28" dominant-baseline="central">9N</text>
<polyline points="451.0,378.6 476.3,378.6" fill="none" stroke="#0a0a0a" stroke-width="1.3"/>
<text transform="translate(427.0,374.0) scale(0.86,1)" font-family="Liberation Sans" font-size="5.49" text-anchor="middle" font-weight="normal" fill="#111" stroke="#111" stroke-width="0.28" dominant-baseline="central">3</text>
<text transform="translate(455.0,374.5) scale(0.86,1)" font-family="Liberation Sans" font-size="5.49" text-anchor="middle" font-weight="normal" fill="#111" stroke="#111" stroke-width="0.28" dominant-baseline="central">4</text>
<text transform="translate(441.0,391.5) scale(0.86,1)" font-family="Liberation Sans" font-size="5.49" text-anchor="middle" font-weight="normal" fill="#111" stroke="#111" stroke-width="0.28" dominant-baseline="central">LS04</text>
<text transform="translate(498.0,376.0) scale(0.86,1)" font-family="Liberation Sans" font-size="7.32" text-anchor="middle" font-weight="normal" fill="#111" stroke="#111" stroke-width="0.28" dominant-baseline="central">6MHz</text>
<polyline points="246.0,402.0 286.6,402.0" fill="none" stroke="#0a0a0a" stroke-width="1.3"/>
<text transform="translate(235.0,402.0) scale(0.86,1)" font-family="Liberation Sans" font-size="6.71" text-anchor="middle" font-weight="normal" fill="#111" stroke="#111" stroke-width="0.28" dominant-baseline="central">+5V</text>
<polyline points="244.0,404.0 246.5,400.0" fill="none" stroke="#0a0a0a" stroke-width="1.0"/>
<polyline points="274.4,402.0 274.4,419.7 365.0,419.7" fill="none" stroke="#0a0a0a" stroke-width="1.3"/>
<path d="M300.3,407 L300.3,416 Q300.3,419.7 296.5,419.7" fill="none" stroke="#0a0a0a" stroke-width="1.3"/>
<path d="M366.5,407 L366.5,416 Q366.5,419.7 362.5,419.7" fill="none" stroke="#0a0a0a" stroke-width="1.3"/>
<path d="M298.3,407.8 L302.3,407.8 L300.3,411 Z" fill="#0a0a0a" stroke="#0a0a0a" stroke-width="0.8"/>
<path d="M364.5,407.8 L368.5,407.8 L366.5,411 Z" fill="#0a0a0a" stroke="#0a0a0a" stroke-width="0.8"/>
<path d="M353,402 L343,402 Q340,402 340,405 L340,416 Q340,419.7 336,419.7" fill="none" stroke="#0a0a0a" stroke-width="1.3"/>
<text transform="translate(298.0,427.5) scale(0.86,1)" font-family="Liberation Sans" font-size="6.71" text-anchor="middle" font-weight="normal" fill="#111" stroke="#111" stroke-width="0.28" dominant-baseline="central">LS107</text>
<polyline points="312.8,402.0 328.4,402.0 328.4,427.0 403.0,427.0" fill="none" stroke="#0a0a0a" stroke-width="1.3"/>
<path d="M403,418.75 L420,427 L403,435.25 Z" fill="white" stroke="#0a0a0a" stroke-width="1.3"/>
<circle cx="422.0" cy="427.0" r="2.0" fill="white" stroke="#0a0a0a" stroke-width="1.1"/>
<text transform="translate(409.5,427.0) scale(0.86,1)" font-family="Liberation Sans" font-size="8.54" text-anchor="middle" font-weight="normal" fill="#111" stroke="#111" stroke-width="0.28" dominant-baseline="central">9N</text>
<polyline points="424.0,427.0 476.3,427.0" fill="none" stroke="#0a0a0a" stroke-width="1.3"/>
<text transform="translate(397.5,423.5) scale(0.86,1)" font-family="Liberation Sans" font-size="5.49" text-anchor="middle" font-weight="normal" fill="#111" stroke="#111" stroke-width="0.28" dominant-baseline="central">5</text>
<text transform="translate(428.5,423.0) scale(0.86,1)" font-family="Liberation Sans" font-size="5.49" text-anchor="middle" font-weight="normal" fill="#111" stroke="#111" stroke-width="0.28" dominant-baseline="central">6</text>
<text transform="translate(414.0,440.0) scale(0.86,1)" font-family="Liberation Sans" font-size="5.49" text-anchor="middle" font-weight="normal" fill="#111" stroke="#111" stroke-width="0.28" dominant-baseline="central">LS04</text>
<text transform="translate(456.0,422.3) scale(0.86,1)" font-family="Liberation Sans" font-size="7.81" text-anchor="middle" font-weight="normal" fill="#111" stroke="#111" stroke-width="0.28" dominant-baseline="central">6MHz</text>
<polyline points="446.0,417.4 466.0,417.4" fill="none" stroke="#0a0a0a" stroke-width="0.9"/>
<path d="M476.3,427 L476.3,232 Q476.3,228.7 479.5,228.7 L653.5,228.7 Q656.5,228.7 656.5,232 L656.5,858" fill="none" stroke="#0a0a0a" stroke-width="1.3"/>
<polyline points="451.0,379.2 568.0,379.2" fill="none" stroke="#0a0a0a" stroke-width="1.3"/>
<path d="M548.5,379.2 Q551,379.2 551,382 L551,452.2 L568,452.2" fill="none" stroke="#0a0a0a" stroke-width="1.3"/>
<rect x="514.7" y="296.8" width="25.8" height="25.9" fill="none" stroke="#0a0a0a" stroke-width="1.3"/>
<text x="527.0" y="310.0" font-family="Liberation Sans" font-size="8" text-anchor="middle" font-weight="normal" fill="#111" stroke="#111" stroke-width="0.28" dominant-baseline="central">9L</text>
<text transform="translate(519.0,301.5) scale(0.86,1)" font-family="Liberation Sans" font-size="5.49" text-anchor="middle" font-weight="normal" fill="#111" stroke="#111" stroke-width="0.28" dominant-baseline="central">D</text>
<text transform="translate(519.0,317.5) scale(0.86,1)" font-family="Liberation Sans" font-size="4.88" text-anchor="middle" font-weight="normal" fill="#111" stroke="#111" stroke-width="0.28" dominant-baseline="central">CK</text>
<text transform="translate(537.0,303.0) scale(0.86,1)" font-family="Liberation Sans" font-size="4.88" text-anchor="middle" font-weight="normal" fill="#111" stroke="#111" stroke-width="0.28" dominant-baseline="central">Q</text>
<text transform="translate(537.0,318.0) scale(0.86,1)" font-family="Liberation Sans" font-size="4.88" text-anchor="middle" font-weight="normal" fill="#111" stroke="#111" stroke-width="0.28" dominant-baseline="central">Q</text>
<text transform="translate(527.0,300.0) scale(0.86,1)" font-family="Liberation Sans" font-size="4.27" text-anchor="middle" font-weight="normal" fill="#111" stroke="#111" stroke-width="0.28" dominant-baseline="central">CL</text>
<text transform="translate(527.0,320.0) scale(0.86,1)" font-family="Liberation Sans" font-size="3.9" text-anchor="middle" font-weight="normal" fill="#111" stroke="#111" stroke-width="0.28" dominant-baseline="central">PR</text>
<text transform="translate(512.5,298.0) scale(0.86,1)" font-family="Liberation Sans" font-size="5.49" text-anchor="middle" font-weight="normal" fill="#111" stroke="#111" stroke-width="0.28" dominant-baseline="central">2</text>
<text transform="translate(511.0,314.0) scale(0.86,1)" font-family="Liberation Sans" font-size="5.49" text-anchor="middle" font-weight="normal" fill="#111" stroke="#111" stroke-width="0.28" dominant-baseline="central">3</text>
<text transform="translate(545.0,299.0) scale(0.86,1)" font-family="Liberation Sans" font-size="5.49" text-anchor="middle" font-weight="normal" fill="#111" stroke="#111" stroke-width="0.28" dominant-baseline="central">5</text>
<text transform="translate(545.0,315.0) scale(0.86,1)" font-family="Liberation Sans" font-size="5.49" text-anchor="middle" font-weight="normal" fill="#111" stroke="#111" stroke-width="0.28" dominant-baseline="central">6</text>
<text transform="translate(532.0,290.5) scale(0.86,1)" font-family="Liberation Sans" font-size="5.49" text-anchor="middle" font-weight="normal" fill="#111" stroke="#111" stroke-width="0.28" dominant-baseline="central">1</text>
<text transform="translate(533.0,328.0) scale(0.86,1)" font-family="Liberation Sans" font-size="5.49" text-anchor="middle" font-weight="normal" fill="#111" stroke="#111" stroke-width="0.28" dominant-baseline="central">4</text>
<polyline points="496.5,342.2 496.5,285.5 555.2,285.5 555.2,640.0" fill="none" stroke="#0a0a0a" stroke-width="1.3"/>
<polyline points="529.0,322.7 529.0,342.2 496.5,342.2" fill="none" stroke="#0a0a0a" stroke-width="1.3"/>
<polyline points="529.0,272.5 529.0,296.8" fill="none" stroke="#0a0a0a" stroke-width="1.3"/>
<polyline points="527.0,275.0 529.0,272.5" fill="none" stroke="#0a0a0a" stroke-width="1.3"/>
<text transform="translate(536.0,265.5) scale(0.86,1)" font-family="Liberation Sans" font-size="6.71" text-anchor="middle" font-weight="normal" fill="#111" stroke="#111" stroke-width="0.28" dominant-baseline="central">+5V</text>
<polyline points="514.7,301.4 504.2,301.4 504.2,334.3 550.0,334.3 550.0,318.2 540.5,318.2" fill="none" stroke="#0a0a0a" stroke-width="1.3"/>
<path d="M476.3,322 Q476.3,318.2 480,318.2 L514.7,318.2" fill="none" stroke="#0a0a0a" stroke-width="1.3"/>
<text transform="translate(521.0,349.0) scale(0.86,1)" font-family="Liberation Sans" font-size="7.32" text-anchor="middle" font-weight="normal" fill="#111" stroke="#111" stroke-width="0.28" dominant-baseline="central">LS74</text>
<text transform="translate(523.0,355.5) scale(0.86,1)" font-family="Liberation Sans" font-size="4.88" text-anchor="middle" font-weight="normal" fill="#111" stroke="#111" stroke-width="0.28" dominant-baseline="central">9L</text>
<polyline points="540.5,303.0 724.0,303.0" fill="none" stroke="#0a0a0a" stroke-width="1.3"/>
<text transform="translate(594.0,298.5) scale(0.86,1)" font-family="Liberation Sans" font-size="6.71" text-anchor="middle" font-weight="normal" fill="#111" stroke="#111" stroke-width="0.28" dominant-baseline="central">1H</text>
<polyline points="615.2,303.0 615.2,315.5" fill="none" stroke="#0a0a0a" stroke-width="1.3"/>
<polyline points="611.0,315.5 619.5,315.5" fill="none" stroke="#0a0a0a" stroke-width="1.3"/>
<path d="M611,319 Q615.2,317 619.5,319" fill="none" stroke="#0a0a0a" stroke-width="1.1"/>
<polyline points="615.2,318.0 615.2,322.0" fill="none" stroke="#0a0a0a" stroke-width="1.3"/>
<path d="M611.7,322 L618.7,322 L615.2,326.9 Z" fill="none" stroke="#0a0a0a" stroke-width="1.0"/>
<polyline points="684.2,159.5 684.2,599.0" fill="none" stroke="#0a0a0a" stroke-width="1.3"/>
<rect x="570.7" y="336.7" width="21.5" height="46.5" fill="none" stroke="#0a0a0a" stroke-width="1.3"/>
<text x="583.7" y="357.9" font-family="Liberation Sans" font-size="8.5" text-anchor="middle" font-weight="normal" fill="#111" stroke="#111" stroke-width="0.28" dominant-baseline="central">8N</text>
<path d="M592.2,342.7 L653,343.3 Q656.5,343.7 656.5,347.7" fill="none" stroke="#0a0a0a" stroke-width="1.3"/>
<text transform="translate(598.5,338.2) scale(0.86,1)" font-family="Liberation Sans" font-size="6.1" text-anchor="middle" font-weight="normal" fill="#111" stroke="#111" stroke-width="0.28" dominant-baseline="central">14</text>
<text transform="translate(643.5,338.2) scale(0.86,1)" font-family="Liberation Sans" font-size="6.71" text-anchor="middle" font-weight="normal" fill="#111" stroke="#111" stroke-width="0.28" dominant-baseline="central">2H</text>
<path d="M592.2,350.5 L653,351.1 Q656.5,351.5 656.5,355.5" fill="none" stroke="#0a0a0a" stroke-width="1.3"/>
<text transform="translate(598.5,346.0) scale(0.86,1)" font-family="Liberation Sans" font-size="6.1" text-anchor="middle" font-weight="normal" fill="#111" stroke="#111" stroke-width="0.28" dominant-baseline="central">13</text>
<text transform="translate(643.5,346.0) scale(0.86,1)" font-family="Liberation Sans" font-size="6.71" text-anchor="middle" font-weight="normal" fill="#111" stroke="#111" stroke-width="0.28" dominant-baseline="central">4H</text>
<path d="M592.2,358.7 L653,359.3 Q656.5,359.7 656.5,363.7" fill="none" stroke="#0a0a0a" stroke-width="1.3"/>
<text transform="translate(598.5,354.2) scale(0.86,1)" font-family="Liberation Sans" font-size="6.1" text-anchor="middle" font-weight="normal" fill="#111" stroke="#111" stroke-width="0.28" dominant-baseline="central">12</text>
<text transform="translate(643.5,354.2) scale(0.86,1)" font-family="Liberation Sans" font-size="6.71" text-anchor="middle" font-weight="normal" fill="#111" stroke="#111" stroke-width="0.28" dominant-baseline="central">8H</text>
<path d="M592.2,367 L653,367.6 Q656.5,368 656.5,372" fill="none" stroke="#0a0a0a" stroke-width="1.3"/>
<text transform="translate(598.5,362.5) scale(0.86,1)" font-family="Liberation Sans" font-size="6.1" text-anchor="middle" font-weight="normal" fill="#111" stroke="#111" stroke-width="0.28" dominant-baseline="central">11</text>
<text transform="translate(643.5,362.5) scale(0.86,1)" font-family="Liberation Sans" font-size="6.71" text-anchor="middle" font-weight="normal" fill="#111" stroke="#111" stroke-width="0.28" dominant-baseline="central">16H</text>
<text transform="translate(574.7,342.7) scale(0.86,1)" font-family="Liberation Sans" font-size="4.88" text-anchor="middle" font-weight="normal" fill="#111" stroke="#111" stroke-width="0.28" dominant-baseline="central">CL</text>
<text transform="translate(574.7,349.5) scale(0.86,1)" font-family="Liberation Sans" font-size="4.88" text-anchor="middle" font-weight="normal" fill="#111" stroke="#111" stroke-width="0.28" dominant-baseline="central">LD</text>
<text transform="translate(574.7,355.5) scale(0.86,1)" font-family="Liberation Sans" font-size="4.88" text-anchor="middle" font-weight="normal" fill="#111" stroke="#111" stroke-width="0.28" dominant-baseline="central">A</text>
<text transform="translate(574.7,361.0) scale(0.86,1)" font-family="Liberation Sans" font-size="4.88" text-anchor="middle" font-weight="normal" fill="#111" stroke="#111" stroke-width="0.28" dominant-baseline="central">B</text>
<text transform="translate(574.7,367.5) scale(0.86,1)" font-family="Liberation Sans" font-size="4.88" text-anchor="middle" font-weight="normal" fill="#111" stroke="#111" stroke-width="0.28" dominant-baseline="central">C</text>
<text transform="translate(574.7,374.0) scale(0.86,1)" font-family="Liberation Sans" font-size="4.88" text-anchor="middle" font-weight="normal" fill="#111" stroke="#111" stroke-width="0.28" dominant-baseline="central">D</text>
<text transform="translate(587.2,380.2) scale(0.86,1)" font-family="Liberation Sans" font-size="4.03" text-anchor="middle" font-weight="normal" fill="#111" stroke="#111" stroke-width="0.28" dominant-baseline="central">RC</text>
<text transform="translate(603.0,390.0) scale(0.86,1)" font-family="Liberation Sans" font-size="6.71" text-anchor="middle" font-weight="normal" fill="#111" stroke="#111" stroke-width="0.28" dominant-baseline="central">LS161</text>
<text transform="translate(605.0,396.5) scale(0.86,1)" font-family="Liberation Sans" font-size="4.88" text-anchor="middle" font-weight="normal" fill="#111" stroke="#111" stroke-width="0.28" dominant-baseline="central">8N</text>
<path d="M574,303 L574,322 Q574,325 577,325 L586.7,325 L586.7,336.7" fill="none" stroke="#0a0a0a" stroke-width="1.3"/>
<polyline points="575.5,328.0 575.5,336.7" fill="none" stroke="#0a0a0a" stroke-width="1.3"/>
<text transform="translate(578.0,332.5) scale(0.86,1)" font-family="Liberation Sans" font-size="5.49" text-anchor="middle" font-weight="normal" fill="#111" stroke="#111" stroke-width="0.28" dominant-baseline="central">7</text>
<text transform="translate(590.5,333.0) scale(0.86,1)" font-family="Liberation Sans" font-size="5.49" text-anchor="middle" font-weight="normal" fill="#111" stroke="#111" stroke-width="0.28" dominant-baseline="central">10</text>
<path d="M555.2,336 Q555.2,342.7 561,342.7 L568.5,342.7" fill="none" stroke="#0a0a0a" stroke-width="1.3"/>
<circle cx="569.0" cy="342.7" r="1.5" fill="white" stroke="#0a0a0a" stroke-width="1.1"/>
<path d="M555.2,344 Q555.2,350 561,350 L568.5,350" fill="none" stroke="#0a0a0a" stroke-width="1.3"/>
<circle cx="569.0" cy="350.0" r="1.5" fill="white" stroke="#0a0a0a" stroke-width="1.1"/>
<text transform="translate(563.5,338.0) scale(0.86,1)" font-family="Liberation Sans" font-size="5.49" text-anchor="middle" font-weight="normal" fill="#111" stroke="#111" stroke-width="0.28" dominant-baseline="central">1</text>
<text transform="translate(563.5,346.0) scale(0.86,1)" font-family="Liberation Sans" font-size="5.49" text-anchor="middle" font-weight="normal" fill="#111" stroke="#111" stroke-width="0.28" dominant-baseline="central">9</text>
<polyline points="562.4,355.5 570.7,355.5" fill="none" stroke="#0a0a0a" stroke-width="1.3"/>
<polyline points="562.4,361.0 570.7,361.0" fill="none" stroke="#0a0a0a" stroke-width="1.3"/>
<polyline points="562.4,367.5 570.7,367.5" fill="none" stroke="#0a0a0a" stroke-width="1.3"/>
<polyline points="562.4,374.0 570.7,374.0" fill="none" stroke="#0a0a0a" stroke-width="1.3"/>
<polyline points="562.4,352.0 562.4,385.0" fill="none" stroke="#0a0a0a" stroke-width="1.3"/>
<path d="M558.9,385 L565.9,385 L562.4,389.9 Z" fill="none" stroke="#0a0a0a" stroke-width="1.0"/>
<text transform="translate(566.0,358.0) scale(0.86,1)" font-family="Liberation Sans" font-size="4.88" text-anchor="middle" font-weight="normal" fill="#111" stroke="#111" stroke-width="0.28" dominant-baseline="central">3</text>
<text transform="translate(566.0,364.0) scale(0.86,1)" font-family="Liberation Sans" font-size="4.88" text-anchor="middle" font-weight="normal" fill="#111" stroke="#111" stroke-width="0.28" dominant-baseline="central">4</text>
<text transform="translate(566.0,370.5) scale(0.86,1)" font-family="Liberation Sans" font-size="4.88" text-anchor="middle" font-weight="normal" fill="#111" stroke="#111" stroke-width="0.28" dominant-baseline="central">5</text>
<text transform="translate(566.0,376.5) scale(0.86,1)" font-family="Liberation Sans" font-size="4.88" text-anchor="middle" font-weight="normal" fill="#111" stroke="#111" stroke-width="0.28" dominant-baseline="central">6</text>
<text transform="translate(578.0,388.0) scale(0.86,1)" font-family="Liberation Sans" font-size="5.49" text-anchor="middle" font-weight="normal" fill="#111" stroke="#111" stroke-width="0.28" dominant-baseline="central">15</text>
<rect x="570.2" y="408.3" width="21.5" height="48.4" fill="none" stroke="#0a0a0a" stroke-width="1.3"/>
<text x="583.2" y="430.5" font-family="Liberation Sans" font-size="8.5" text-anchor="middle" font-weight="normal" fill="#111" stroke="#111" stroke-width="0.28" dominant-baseline="central">8P</text>
<path d="M591.7,415.8 L653,416.40000000000003 Q656.5,416.8 656.5,420.8" fill="none" stroke="#0a0a0a" stroke-width="1.3"/>
<text transform="translate(598.5,411.3) scale(0.86,1)" font-family="Liberation Sans" font-size="6.1" text-anchor="middle" font-weight="normal" fill="#111" stroke="#111" stroke-width="0.28" dominant-baseline="central">14</text>
<text transform="translate(643.5,411.3) scale(0.86,1)" font-family="Liberation Sans" font-size="6.71" text-anchor="middle" font-weight="normal" fill="#111" stroke="#111" stroke-width="0.28" dominant-baseline="central">32H</text>
<path d="M591.7,424.2 L653,424.8 Q656.5,425.2 656.5,429.2" fill="none" stroke="#0a0a0a" stroke-width="1.3"/>
<text transform="translate(598.5,419.7) scale(0.86,1)" font-family="Liberation Sans" font-size="6.1" text-anchor="middle" font-weight="normal" fill="#111" stroke="#111" stroke-width="0.28" dominant-baseline="central">13</text>
<text transform="translate(643.5,419.7) scale(0.86,1)" font-family="Liberation Sans" font-size="6.71" text-anchor="middle" font-weight="normal" fill="#111" stroke="#111" stroke-width="0.28" dominant-baseline="central">64H</text>
<path d="M591.7,432.7 L653,433.3 Q656.5,433.7 656.5,437.7" fill="none" stroke="#0a0a0a" stroke-width="1.3"/>
<text transform="translate(598.5,428.2) scale(0.86,1)" font-family="Liberation Sans" font-size="6.1" text-anchor="middle" font-weight="normal" fill="#111" stroke="#111" stroke-width="0.28" dominant-baseline="central">12</text>
<text transform="translate(643.5,428.2) scale(0.86,1)" font-family="Liberation Sans" font-size="6.71" text-anchor="middle" font-weight="normal" fill="#111" stroke="#111" stroke-width="0.28" dominant-baseline="central">128H</text>
<path d="M591.7,441 L653,441.6 Q656.5,442 656.5,446" fill="none" stroke="#0a0a0a" stroke-width="1.3"/>
<text transform="translate(598.5,436.5) scale(0.86,1)" font-family="Liberation Sans" font-size="6.1" text-anchor="middle" font-weight="normal" fill="#111" stroke="#111" stroke-width="0.28" dominant-baseline="central">11</text>
<text transform="translate(643.5,436.5) scale(0.86,1)" font-family="Liberation Sans" font-size="6.71" text-anchor="middle" font-weight="normal" fill="#111" stroke="#111" stroke-width="0.28" dominant-baseline="central">256H</text>
<text transform="translate(574.2,412.8) scale(0.86,1)" font-family="Liberation Sans" font-size="4.88" text-anchor="middle" font-weight="normal" fill="#111" stroke="#111" stroke-width="0.28" dominant-baseline="central">CL</text>
<text transform="translate(574.2,418.5) scale(0.86,1)" font-family="Liberation Sans" font-size="4.88" text-anchor="middle" font-weight="normal" fill="#111" stroke="#111" stroke-width="0.28" dominant-baseline="central">C</text>
<text transform="translate(574.2,424.5) scale(0.86,1)" font-family="Liberation Sans" font-size="4.88" text-anchor="middle" font-weight="normal" fill="#111" stroke="#111" stroke-width="0.28" dominant-baseline="central">A</text>
<text transform="translate(574.2,430.5) scale(0.86,1)" font-family="Liberation Sans" font-size="4.88" text-anchor="middle" font-weight="normal" fill="#111" stroke="#111" stroke-width="0.28" dominant-baseline="central">B</text>
<text transform="translate(574.2,436.5) scale(0.86,1)" font-family="Liberation Sans" font-size="4.88" text-anchor="middle" font-weight="normal" fill="#111" stroke="#111" stroke-width="0.28" dominant-baseline="central">D</text>
<text transform="translate(574.2,444.7) scale(0.86,1)" font-family="Liberation Sans" font-size="4.88" text-anchor="middle" font-weight="normal" fill="#111" stroke="#111" stroke-width="0.28" dominant-baseline="central">LD</text>
<text transform="translate(587.7,416.3) scale(0.86,1)" font-family="Liberation Sans" font-size="4.03" text-anchor="middle" font-weight="normal" fill="#111" stroke="#111" stroke-width="0.28" dominant-baseline="central">QA</text>
<text transform="translate(587.7,441.5) scale(0.86,1)" font-family="Liberation Sans" font-size="4.03" text-anchor="middle" font-weight="normal" fill="#111" stroke="#111" stroke-width="0.28" dominant-baseline="central">QD</text>
<text transform="translate(584.2,453.7) scale(0.86,1)" font-family="Liberation Sans" font-size="4.03" text-anchor="middle" font-weight="normal" fill="#111" stroke="#111" stroke-width="0.28" dominant-baseline="central">RC</text>
<text transform="translate(603.0,455.0) scale(0.86,1)" font-family="Liberation Sans" font-size="6.71" text-anchor="middle" font-weight="normal" fill="#111" stroke="#111" stroke-width="0.28" dominant-baseline="central">LS161</text>
<text transform="translate(605.0,461.5) scale(0.86,1)" font-family="Liberation Sans" font-size="4.88" text-anchor="middle" font-weight="normal" fill="#111" stroke="#111" stroke-width="0.28" dominant-baseline="central">8P</text>
<path d="M575,383.2 L575,396 Q575,399 578,399 L586.7,399 L586.7,408.3" fill="none" stroke="#0a0a0a" stroke-width="1.3"/>
<polyline points="575.5,401.0 575.5,408.3" fill="none" stroke="#0a0a0a" stroke-width="1.3"/>
<text transform="translate(578.0,404.5) scale(0.86,1)" font-family="Liberation Sans" font-size="5.49" text-anchor="middle" font-weight="normal" fill="#111" stroke="#111" stroke-width="0.28" dominant-baseline="central">7</text>
<text transform="translate(590.5,405.0) scale(0.86,1)" font-family="Liberation Sans" font-size="5.49" text-anchor="middle" font-weight="normal" fill="#111" stroke="#111" stroke-width="0.28" dominant-baseline="central">10</text>
<path d="M555.2,406 Q555.2,412.8 561,412.8 L568.5,412.8" fill="none" stroke="#0a0a0a" stroke-width="1.3"/>
<circle cx="569.0" cy="412.8" r="1.5" fill="white" stroke="#0a0a0a" stroke-width="1.1"/>
<path d="M555.2,413 Q555.2,418.5 561,418.5 L570.2,418.5" fill="none" stroke="#0a0a0a" stroke-width="1.3"/>
<text transform="translate(563.5,409.0) scale(0.86,1)" font-family="Liberation Sans" font-size="5.49" text-anchor="middle" font-weight="normal" fill="#111" stroke="#111" stroke-width="0.28" dominant-baseline="central">1</text>
<text transform="translate(563.5,416.0) scale(0.86,1)" font-family="Liberation Sans" font-size="5.49" text-anchor="middle" font-weight="normal" fill="#111" stroke="#111" stroke-width="0.28" dominant-baseline="central">5</text>
<path d="M562,428.5 Q562,424.5 565,424.5 L570.2,424.5" fill="none" stroke="#0a0a0a" stroke-width="1.3"/>
<path d="M562,434.5 Q562,430.5 565,430.5 L570.2,430.5" fill="none" stroke="#0a0a0a" stroke-width="1.3"/>
<path d="M562,440.5 Q562,436.5 565,436.5 L570.2,436.5" fill="none" stroke="#0a0a0a" stroke-width="1.3"/>
<polyline points="561.7,422.0 561.7,459.0" fill="none" stroke="#0a0a0a" stroke-width="1.3"/>
<path d="M558.2,459 L565.2,459 L561.7,463.9 Z" fill="none" stroke="#0a0a0a" stroke-width="1.0"/>
<text transform="translate(566.0,427.0) scale(0.86,1)" font-family="Liberation Sans" font-size="4.88" text-anchor="middle" font-weight="normal" fill="#111" stroke="#111" stroke-width="0.28" dominant-baseline="central">3</text>
<text transform="translate(566.0,433.0) scale(0.86,1)" font-family="Liberation Sans" font-size="4.88" text-anchor="middle" font-weight="normal" fill="#111" stroke="#111" stroke-width="0.28" dominant-baseline="central">4</text>
<text transform="translate(566.0,439.0) scale(0.86,1)" font-family="Liberation Sans" font-size="4.88" text-anchor="middle" font-weight="normal" fill="#111" stroke="#111" stroke-width="0.28" dominant-baseline="central">6</text>
<text transform="translate(566.0,441.5) scale(0.86,1)" font-family="Liberation Sans" font-size="4.88" text-anchor="middle" font-weight="normal" fill="#111" stroke="#111" stroke-width="0.28" dominant-baseline="central">9</text>
<text transform="translate(566.0,449.0) scale(0.86,1)" font-family="Liberation Sans" font-size="4.88" text-anchor="middle" font-weight="normal" fill="#111" stroke="#111" stroke-width="0.28" dominant-baseline="central">2</text>
<polyline points="541.0,444.7 570.2,444.7" fill="none" stroke="#0a0a0a" stroke-width="1.3"/>
<path d="M534,466.5 L541,453 L548,466.5 Z" fill="white" stroke="#0a0a0a" stroke-width="1.3"/>
<circle cx="541.0" cy="451.0" r="1.8" fill="white" stroke="#0a0a0a" stroke-width="1.1"/>
<text transform="translate(541.0,462.5) scale(0.86,1)" font-family="Liberation Sans" font-size="5.49" text-anchor="middle" font-weight="normal" fill="#111" stroke="#111" stroke-width="0.28" dominant-baseline="central">8H</text>
<polyline points="541.0,444.7 541.0,449.0" fill="none" stroke="#0a0a0a" stroke-width="1.3"/>
<text transform="translate(537.5,446.0) scale(0.86,1)" font-family="Liberation Sans" font-size="5.49" text-anchor="middle" font-weight="normal" fill="#111" stroke="#111" stroke-width="0.28" dominant-baseline="central">2</text>
<text transform="translate(537.5,471.5) scale(0.86,1)" font-family="Liberation Sans" font-size="5.49" text-anchor="middle" font-weight="normal" fill="#111" stroke="#111" stroke-width="0.28" dominant-baseline="central">1</text>
<text transform="translate(522.0,463.0) scale(0.86,1)" font-family="Liberation Sans" font-size="6.71" text-anchor="middle" font-weight="normal" fill="#111" stroke="#111" stroke-width="0.28" dominant-baseline="central">LS04</text>
<polyline points="541.0,466.5 541.0,473.2 583.0,473.2 583.0,456.7" fill="none" stroke="#0a0a0a" stroke-width="1.3"/>
<text transform="translate(586.0,462.0) scale(0.86,1)" font-family="Liberation Sans" font-size="5.49" text-anchor="middle" font-weight="normal" fill="#111" stroke="#111" stroke-width="0.28" dominant-baseline="central">15</text>
<text transform="translate(603.0,455.5) scale(0.86,1)" font-family="Liberation Sans" font-size="4.88" text-anchor="middle" font-weight="normal" fill="#111" stroke="#111" stroke-width="0.28" dominant-baseline="central"></text>
<path d="M555.2,470 Q555.2,478 547,479 L533,479 Q528.2,479 528.2,484 L528.2,488.7" fill="none" stroke="#0a0a0a" stroke-width="1.3"/>
<path d="M495.5,546.3 L495.5,488.7 L528.2,488.7" fill="none" stroke="#0a0a0a" stroke-width="1.3"/>
<rect x="512.5" y="501.0" width="26.2" height="25.5" fill="none" stroke="#0a0a0a" stroke-width="1.3"/>
<text x="525.5" y="514.5" font-family="Liberation Sans" font-size="8" text-anchor="middle" font-weight="normal" fill="#111" stroke="#111" stroke-width="0.28" dominant-baseline="central">9L</text>
<text transform="translate(516.0,505.0) scale(0.86,1)" font-family="Liberation Sans" font-size="4.88" text-anchor="middle" font-weight="normal" fill="#111" stroke="#111" stroke-width="0.28" dominant-baseline="central">D</text>
<text transform="translate(516.0,520.0) scale(0.86,1)" font-family="Liberation Sans" font-size="4.88" text-anchor="middle" font-weight="normal" fill="#111" stroke="#111" stroke-width="0.28" dominant-baseline="central">CK</text>
<text transform="translate(536.0,506.0) scale(0.86,1)" font-family="Liberation Sans" font-size="4.88" text-anchor="middle" font-weight="normal" fill="#111" stroke="#111" stroke-width="0.28" dominant-baseline="central">Q</text>
<text transform="translate(536.0,521.0) scale(0.86,1)" font-family="Liberation Sans" font-size="4.88" text-anchor="middle" font-weight="normal" fill="#111" stroke="#111" stroke-width="0.28" dominant-baseline="central">Q</text>
<text transform="translate(525.5,504.5) scale(0.86,1)" font-family="Liberation Sans" font-size="4.27" text-anchor="middle" font-weight="normal" fill="#111" stroke="#111" stroke-width="0.28" dominant-baseline="central">CL</text>
<text transform="translate(525.5,523.5) scale(0.86,1)" font-family="Liberation Sans" font-size="3.9" text-anchor="middle" font-weight="normal" fill="#111" stroke="#111" stroke-width="0.28" dominant-baseline="central">PR</text>
<polyline points="527.5,488.7 527.5,501.0" fill="none" stroke="#0a0a0a" stroke-width="1.3"/>
<circle cx="527.5" cy="499.0" r="1.5" fill="white" stroke="#0a0a0a" stroke-width="1.1"/>
<text transform="translate(507.5,502.0) scale(0.86,1)" font-family="Liberation Sans" font-size="5.49" text-anchor="middle" font-weight="normal" fill="#111" stroke="#111" stroke-width="0.28" dominant-baseline="central">12</text>
<text transform="translate(507.5,518.0) scale(0.86,1)" font-family="Liberation Sans" font-size="5.49" text-anchor="middle" font-weight="normal" fill="#111" stroke="#111" stroke-width="0.28" dominant-baseline="central">11</text>
<text transform="translate(544.0,500.5) scale(0.86,1)" font-family="Liberation Sans" font-size="5.49" text-anchor="middle" font-weight="normal" fill="#111" stroke="#111" stroke-width="0.28" dominant-baseline="central">9</text>
<text transform="translate(544.0,518.5) scale(0.86,1)" font-family="Liberation Sans" font-size="5.49" text-anchor="middle" font-weight="normal" fill="#111" stroke="#111" stroke-width="0.28" dominant-baseline="central">8</text>
<text transform="translate(531.0,495.0) scale(0.86,1)" font-family="Liberation Sans" font-size="5.49" text-anchor="middle" font-weight="normal" fill="#111" stroke="#111" stroke-width="0.28" dominant-baseline="central">1</text>
<text transform="translate(531.0,533.0) scale(0.86,1)" font-family="Liberation Sans" font-size="5.49" text-anchor="middle" font-weight="normal" fill="#111" stroke="#111" stroke-width="0.28" dominant-baseline="central">4</text>
<polyline points="527.5,526.5 527.5,546.3 495.5,546.3" fill="none" stroke="#0a0a0a" stroke-width="1.3"/>
<polyline points="512.5,505.5 503.5,505.5 503.5,537.4 549.7,537.4 549.7,522.0 538.7,522.0" fill="none" stroke="#0a0a0a" stroke-width="1.3"/>
<polyline points="512.5,521.2 468.5,521.2 468.5,862.0 472.0,866.0" fill="none" stroke="#0a0a0a" stroke-width="1.3"/>
<text transform="translate(520.0,555.5) scale(0.86,1)" font-family="Liberation Sans" font-size="7.32" text-anchor="middle" font-weight="normal" fill="#111" stroke="#111" stroke-width="0.28" dominant-baseline="central">LS74</text>
<path d="M538.7,505.8 L653,506.3 Q656.5,506.8 656.5,511" fill="none" stroke="#0a0a0a" stroke-width="1.3"/>
<text transform="translate(642.0,500.5) scale(0.86,1)" font-family="Liberation Sans" font-size="6.71" text-anchor="middle" font-weight="normal" fill="#111" stroke="#111" stroke-width="0.28" dominant-baseline="central">1V</text>
<rect x="570.2" y="542.7" width="22.1" height="48.6" fill="none" stroke="#0a0a0a" stroke-width="1.3"/>
<text x="583.0" y="566.0" font-family="Liberation Sans" font-size="8.5" text-anchor="middle" font-weight="normal" fill="#111" stroke="#111" stroke-width="0.28" dominant-baseline="central">7N</text>
<text transform="translate(588.0,550.7) scale(0.86,1)" font-family="Liberation Sans" font-size="4.03" text-anchor="middle" font-weight="normal" fill="#111" stroke="#111" stroke-width="0.28" dominant-baseline="central">QA</text>
<text transform="translate(588.0,558.9) scale(0.86,1)" font-family="Liberation Sans" font-size="4.03" text-anchor="middle" font-weight="normal" fill="#111" stroke="#111" stroke-width="0.28" dominant-baseline="central">QB</text>
<text transform="translate(588.0,567.2) scale(0.86,1)" font-family="Liberation Sans" font-size="4.03" text-anchor="middle" font-weight="normal" fill="#111" stroke="#111" stroke-width="0.28" dominant-baseline="central">QC</text>
<text transform="translate(588.0,575.0) scale(0.86,1)" font-family="Liberation Sans" font-size="4.03" text-anchor="middle" font-weight="normal" fill="#111" stroke="#111" stroke-width="0.28" dominant-baseline="central">QD</text>
<text transform="translate(587.0,588.0) scale(0.86,1)" font-family="Liberation Sans" font-size="4.03" text-anchor="middle" font-weight="normal" fill="#111" stroke="#111" stroke-width="0.28" dominant-baseline="central">RC</text>
<path d="M592.3,550.2 L653,550.8000000000001 Q656.5,551.2 656.5,555.2" fill="none" stroke="#0a0a0a" stroke-width="1.3"/>
<text transform="translate(599.0,545.7) scale(0.86,1)" font-family="Liberation Sans" font-size="6.1" text-anchor="middle" font-weight="normal" fill="#111" stroke="#111" stroke-width="0.28" dominant-baseline="central">14</text>
<text transform="translate(643.5,545.7) scale(0.86,1)" font-family="Liberation Sans" font-size="6.71" text-anchor="middle" font-weight="normal" fill="#111" stroke="#111" stroke-width="0.28" dominant-baseline="central">2V</text>
<path d="M592.3,558.4 L653,559.0 Q656.5,559.4 656.5,563.4" fill="none" stroke="#0a0a0a" stroke-width="1.3"/>
<text transform="translate(599.0,553.9) scale(0.86,1)" font-family="Liberation Sans" font-size="6.1" text-anchor="middle" font-weight="normal" fill="#111" stroke="#111" stroke-width="0.28" dominant-baseline="central">13</text>
<text transform="translate(643.5,553.9) scale(0.86,1)" font-family="Liberation Sans" font-size="6.71" text-anchor="middle" font-weight="normal" fill="#111" stroke="#111" stroke-width="0.28" dominant-baseline="central">4V</text>
<path d="M592.3,566.7 L653,567.3000000000001 Q656.5,567.7 656.5,571.7" fill="none" stroke="#0a0a0a" stroke-width="1.3"/>
<text transform="translate(599.0,562.2) scale(0.86,1)" font-family="Liberation Sans" font-size="6.1" text-anchor="middle" font-weight="normal" fill="#111" stroke="#111" stroke-width="0.28" dominant-baseline="central">12</text>
<text transform="translate(643.5,562.2) scale(0.86,1)" font-family="Liberation Sans" font-size="6.71" text-anchor="middle" font-weight="normal" fill="#111" stroke="#111" stroke-width="0.28" dominant-baseline="central">8V</text>
<path d="M592.3,574.5 L653,575.1 Q656.5,575.5 656.5,579.5" fill="none" stroke="#0a0a0a" stroke-width="1.3"/>
<text transform="translate(599.0,570.0) scale(0.86,1)" font-family="Liberation Sans" font-size="6.1" text-anchor="middle" font-weight="normal" fill="#111" stroke="#111" stroke-width="0.28" dominant-baseline="central">11</text>
<text transform="translate(643.5,570.0) scale(0.86,1)" font-family="Liberation Sans" font-size="6.71" text-anchor="middle" font-weight="normal" fill="#111" stroke="#111" stroke-width="0.28" dominant-baseline="central">16V</text>
<path d="M574,506 L574,529.5 Q574,532.5 577,532.5 L586.7,532.5 L586.7,542.7" fill="none" stroke="#0a0a0a" stroke-width="1.3"/>
<polyline points="575.5,535.0 575.5,542.7" fill="none" stroke="#0a0a0a" stroke-width="1.3"/>
<text transform="translate(578.0,539.5) scale(0.86,1)" font-family="Liberation Sans" font-size="5.49" text-anchor="middle" font-weight="normal" fill="#111" stroke="#111" stroke-width="0.28" dominant-baseline="central">7</text>
<text transform="translate(591.0,540.0) scale(0.86,1)" font-family="Liberation Sans" font-size="5.49" text-anchor="middle" font-weight="normal" fill="#111" stroke="#111" stroke-width="0.28" dominant-baseline="central">10</text>
<path d="M555.2,543.3 Q555.2,549.3 561,549.3 L568.5,549.3" fill="none" stroke="#0a0a0a" stroke-width="1.3"/>
<text transform="translate(562.5,545.8) scale(0.86,1)" font-family="Liberation Sans" font-size="5.49" text-anchor="middle" font-weight="normal" fill="#111" stroke="#111" stroke-width="0.28" dominant-baseline="central">1</text>
<path d="M555.2,548.5 Q555.2,554.5 561,554.5 L568.5,554.5" fill="none" stroke="#0a0a0a" stroke-width="1.3"/>
<text transform="translate(562.5,551.0) scale(0.86,1)" font-family="Liberation Sans" font-size="5.49" text-anchor="middle" font-weight="normal" fill="#111" stroke="#111" stroke-width="0.28" dominant-baseline="central">6</text>
<path d="M555.2,555.7 Q555.2,561.7 561,561.7 L568.5,561.7" fill="none" stroke="#0a0a0a" stroke-width="1.3"/>
<text transform="translate(562.5,558.2) scale(0.86,1)" font-family="Liberation Sans" font-size="5.49" text-anchor="middle" font-weight="normal" fill="#111" stroke="#111" stroke-width="0.28" dominant-baseline="central">5</text>
<circle cx="569.0" cy="549.3" r="1.5" fill="white" stroke="#0a0a0a" stroke-width="1.1"/>
<polyline points="563.0,570.0 570.2,570.0" fill="none" stroke="#0a0a0a" stroke-width="1.3"/>
<text transform="translate(566.0,566.5) scale(0.86,1)" font-family="Liberation Sans" font-size="5.49" text-anchor="middle" font-weight="normal" fill="#111" stroke="#111" stroke-width="0.28" dominant-baseline="central">4</text>
<polyline points="563.0,576.7 570.2,576.7" fill="none" stroke="#0a0a0a" stroke-width="1.3"/>
<text transform="translate(566.0,573.2) scale(0.86,1)" font-family="Liberation Sans" font-size="5.49" text-anchor="middle" font-weight="normal" fill="#111" stroke="#111" stroke-width="0.28" dominant-baseline="central">3</text>
<path d="M561,600 L561,575 Q561,570 564,570" fill="none" stroke="#0a0a0a" stroke-width="1.3"/>
<path d="M557.3,600 L564.3,600 L560.8,604.9 Z" fill="none" stroke="#0a0a0a" stroke-width="1.0"/>
<text transform="translate(574.0,551.0) scale(0.86,1)" font-family="Liberation Sans" font-size="4.27" text-anchor="middle" font-weight="normal" fill="#111" stroke="#111" stroke-width="0.28" dominant-baseline="central">CL</text>
<text transform="translate(574.0,555.0) scale(0.86,1)" font-family="Liberation Sans" font-size="4.88" text-anchor="middle" font-weight="normal" fill="#111" stroke="#111" stroke-width="0.28" dominant-baseline="central">D</text>
<text transform="translate(574.0,562.0) scale(0.86,1)" font-family="Liberation Sans" font-size="4.88" text-anchor="middle" font-weight="normal" fill="#111" stroke="#111" stroke-width="0.28" dominant-baseline="central">C</text>
<text transform="translate(574.0,570.0) scale(0.86,1)" font-family="Liberation Sans" font-size="4.88" text-anchor="middle" font-weight="normal" fill="#111" stroke="#111" stroke-width="0.28" dominant-baseline="central">B</text>
<text transform="translate(574.0,577.0) scale(0.86,1)" font-family="Liberation Sans" font-size="4.88" text-anchor="middle" font-weight="normal" fill="#111" stroke="#111" stroke-width="0.28" dominant-baseline="central">A</text>
<text transform="translate(574.0,586.0) scale(0.86,1)" font-family="Liberation Sans" font-size="4.27" text-anchor="middle" font-weight="normal" fill="#111" stroke="#111" stroke-width="0.28" dominant-baseline="central">LD</text>
<polyline points="541.7,586.8 570.2,586.8" fill="none" stroke="#0a0a0a" stroke-width="1.3"/>
<circle cx="569.0" cy="586.8" r="1.5" fill="white" stroke="#0a0a0a" stroke-width="1.1"/>
<text transform="translate(565.0,582.5) scale(0.86,1)" font-family="Liberation Sans" font-size="5.49" text-anchor="middle" font-weight="normal" fill="#111" stroke="#111" stroke-width="0.28" dominant-baseline="central">9</text>
<polyline points="592.3,587.2 616.0,587.2" fill="none" stroke="#0a0a0a" stroke-width="1.3"/>
<path d="M616,587.2 Q618.7,587.2 618.7,590 L618.7,862 Q618.7,866 622,866" fill="none" stroke="#0a0a0a" stroke-width="1.3"/>
<text transform="translate(596.0,583.5) scale(0.86,1)" font-family="Liberation Sans" font-size="6.1" text-anchor="middle" font-weight="normal" fill="#111" stroke="#111" stroke-width="0.28" dominant-baseline="central">2</text>
<text transform="translate(594.0,598.5) scale(0.86,1)" font-family="Liberation Sans" font-size="6.71" text-anchor="middle" font-weight="normal" fill="#111" stroke="#111" stroke-width="0.28" dominant-baseline="central">LS161</text>
<text transform="translate(600.0,605.5) scale(0.86,1)" font-family="Liberation Sans" font-size="4.88" text-anchor="middle" font-weight="normal" fill="#111" stroke="#111" stroke-width="0.28" dominant-baseline="central">7N</text>
<text transform="translate(578.0,594.5) scale(0.86,1)" font-family="Liberation Sans" font-size="5.49" text-anchor="middle" font-weight="normal" fill="#111" stroke="#111" stroke-width="0.28" dominant-baseline="central">15</text>
<path d="M575,591.3 L575,601.5 Q575,604.5 578,604.5 L586.7,604.5 L586.7,615.5" fill="none" stroke="#0a0a0a" stroke-width="1.3"/>
<polyline points="575.5,606.0 575.5,615.5" fill="none" stroke="#0a0a0a" stroke-width="1.3"/>
<text transform="translate(578.0,612.0) scale(0.86,1)" font-family="Liberation Sans" font-size="5.49" text-anchor="middle" font-weight="normal" fill="#111" stroke="#111" stroke-width="0.28" dominant-baseline="central">7</text>
<text transform="translate(591.0,612.5) scale(0.86,1)" font-family="Liberation Sans" font-size="5.49" text-anchor="middle" font-weight="normal" fill="#111" stroke="#111" stroke-width="0.28" dominant-baseline="central">16</text>
<rect x="570.2" y="615.5" width="22.1" height="48.7" fill="none" stroke="#0a0a0a" stroke-width="1.3"/>
<text x="581.5" y="638.0" font-family="Liberation Sans" font-size="8.5" text-anchor="middle" font-weight="normal" fill="#111" stroke="#111" stroke-width="0.28" dominant-baseline="central">7P</text>
<text transform="translate(588.0,624.0) scale(0.86,1)" font-family="Liberation Sans" font-size="4.03" text-anchor="middle" font-weight="normal" fill="#111" stroke="#111" stroke-width="0.28" dominant-baseline="central">QA</text>
<text transform="translate(588.0,632.3) scale(0.86,1)" font-family="Liberation Sans" font-size="4.03" text-anchor="middle" font-weight="normal" fill="#111" stroke="#111" stroke-width="0.28" dominant-baseline="central">QB</text>
<text transform="translate(588.0,640.2) scale(0.86,1)" font-family="Liberation Sans" font-size="4.03" text-anchor="middle" font-weight="normal" fill="#111" stroke="#111" stroke-width="0.28" dominant-baseline="central">QC</text>
<text transform="translate(588.0,648.5) scale(0.86,1)" font-family="Liberation Sans" font-size="4.03" text-anchor="middle" font-weight="normal" fill="#111" stroke="#111" stroke-width="0.28" dominant-baseline="central">QD</text>
<path d="M592.3,623.5 L653,624.1 Q656.5,624.5 656.5,628.5" fill="none" stroke="#0a0a0a" stroke-width="1.3"/>
<text transform="translate(599.0,619.0) scale(0.86,1)" font-family="Liberation Sans" font-size="6.1" text-anchor="middle" font-weight="normal" fill="#111" stroke="#111" stroke-width="0.28" dominant-baseline="central">14</text>
<text transform="translate(645.0,619.0) scale(0.86,1)" font-family="Liberation Sans" font-size="6.71" text-anchor="middle" font-weight="normal" fill="#111" stroke="#111" stroke-width="0.28" dominant-baseline="central">32V</text>
<path d="M592.3,631.8 L653,632.4 Q656.5,632.8 656.5,636.8" fill="none" stroke="#0a0a0a" stroke-width="1.3"/>
<text transform="translate(599.0,627.3) scale(0.86,1)" font-family="Liberation Sans" font-size="6.1" text-anchor="middle" font-weight="normal" fill="#111" stroke="#111" stroke-width="0.28" dominant-baseline="central">13</text>
<text transform="translate(645.0,627.3) scale(0.86,1)" font-family="Liberation Sans" font-size="6.71" text-anchor="middle" font-weight="normal" fill="#111" stroke="#111" stroke-width="0.28" dominant-baseline="central">64V</text>
<path d="M592.3,639.7 L653,640.3000000000001 Q656.5,640.7 656.5,644.7" fill="none" stroke="#0a0a0a" stroke-width="1.3"/>
<text transform="translate(599.0,635.2) scale(0.86,1)" font-family="Liberation Sans" font-size="6.1" text-anchor="middle" font-weight="normal" fill="#111" stroke="#111" stroke-width="0.28" dominant-baseline="central">12</text>
<text transform="translate(645.0,635.2) scale(0.86,1)" font-family="Liberation Sans" font-size="6.71" text-anchor="middle" font-weight="normal" fill="#111" stroke="#111" stroke-width="0.28" dominant-baseline="central">128V</text>
<path d="M592.3,648 L653,648.6 Q656.5,649 656.5,653" fill="none" stroke="#0a0a0a" stroke-width="1.3"/>
<text transform="translate(599.0,643.5) scale(0.86,1)" font-family="Liberation Sans" font-size="6.1" text-anchor="middle" font-weight="normal" fill="#111" stroke="#111" stroke-width="0.28" dominant-baseline="central">11</text>
<text transform="translate(645.0,643.5) scale(0.86,1)" font-family="Liberation Sans" font-size="6.71" text-anchor="middle" font-weight="normal" fill="#111" stroke="#111" stroke-width="0.28" dominant-baseline="central">256V</text>
<path d="M555.2,615 Q555.2,621 561,621 L568.5,621" fill="none" stroke="#0a0a0a" stroke-width="1.3"/>
<text transform="translate(562.5,617.5) scale(0.86,1)" font-family="Liberation Sans" font-size="5.49" text-anchor="middle" font-weight="normal" fill="#111" stroke="#111" stroke-width="0.28" dominant-baseline="central">1</text>
<path d="M555.2,622.2 Q555.2,628.2 561,628.2 L568.5,628.2" fill="none" stroke="#0a0a0a" stroke-width="1.3"/>
<text transform="translate(562.5,624.7) scale(0.86,1)" font-family="Liberation Sans" font-size="5.49" text-anchor="middle" font-weight="normal" fill="#111" stroke="#111" stroke-width="0.28" dominant-baseline="central">3</text>
<path d="M555.2,630 Q555.2,636 561,636 L568.5,636" fill="none" stroke="#0a0a0a" stroke-width="1.3"/>
<text transform="translate(562.5,632.5) scale(0.86,1)" font-family="Liberation Sans" font-size="5.49" text-anchor="middle" font-weight="normal" fill="#111" stroke="#111" stroke-width="0.28" dominant-baseline="central">4</text>
<path d="M555.2,634.2 Q555.2,640.2 561,640.2 L568.5,640.2" fill="none" stroke="#0a0a0a" stroke-width="1.3"/>
<text transform="translate(562.5,636.7) scale(0.86,1)" font-family="Liberation Sans" font-size="5.49" text-anchor="middle" font-weight="normal" fill="#111" stroke="#111" stroke-width="0.28" dominant-baseline="central">5</text>
<circle cx="569.0" cy="621.0" r="1.5" fill="white" stroke="#0a0a0a" stroke-width="1.1"/>
<polyline points="560.2,649.5 570.2,649.5" fill="none" stroke="#0a0a0a" stroke-width="1.3"/>
<text transform="translate(565.0,646.0) scale(0.86,1)" font-family="Liberation Sans" font-size="5.49" text-anchor="middle" font-weight="normal" fill="#111" stroke="#111" stroke-width="0.28" dominant-baseline="central">6</text>
<polyline points="560.2,649.5 560.2,672.7" fill="none" stroke="#0a0a0a" stroke-width="1.3"/>
<path d="M556.7,672.7 L563.7,672.7 L560.2,677.6 Z" fill="none" stroke="#0a0a0a" stroke-width="1.0"/>
<path d="M541,658.5 L568.5,658.5" fill="none" stroke="#0a0a0a" stroke-width="1.3"/>
<circle cx="569.0" cy="658.5" r="1.5" fill="white" stroke="#0a0a0a" stroke-width="1.1"/>
<text transform="translate(563.5,655.0) scale(0.86,1)" font-family="Liberation Sans" font-size="5.49" text-anchor="middle" font-weight="normal" fill="#111" stroke="#111" stroke-width="0.28" dominant-baseline="central">9</text>
<polyline points="541.7,586.8 541.7,658.5" fill="none" stroke="#0a0a0a" stroke-width="1.3"/>
<path d="M533.7,679.5 L540.5,666 L547.3,679.5 Z" fill="white" stroke="#0a0a0a" stroke-width="1.3"/>
<circle cx="540.5" cy="664.0" r="1.8" fill="white" stroke="#0a0a0a" stroke-width="1.1"/>
<text transform="translate(540.5,675.5) scale(0.86,1)" font-family="Liberation Sans" font-size="5.49" text-anchor="middle" font-weight="normal" fill="#111" stroke="#111" stroke-width="0.28" dominant-baseline="central">8H</text>
<text transform="translate(537.0,661.0) scale(0.86,1)" font-family="Liberation Sans" font-size="6.1" text-anchor="middle" font-weight="normal" fill="#111" stroke="#111" stroke-width="0.28" dominant-baseline="central">8</text>
<text transform="translate(543.0,683.0) scale(0.86,1)" font-family="Liberation Sans" font-size="5.49" text-anchor="middle" font-weight="normal" fill="#111" stroke="#111" stroke-width="0.28" dominant-baseline="central">9</text>
<polyline points="540.5,679.5 540.5,688.5 580.7,688.5 580.7,664.2" fill="none" stroke="#0a0a0a" stroke-width="1.3"/>
<text transform="translate(585.0,669.0) scale(0.86,1)" font-family="Liberation Sans" font-size="6.1" text-anchor="middle" font-weight="normal" fill="#111" stroke="#111" stroke-width="0.28" dominant-baseline="central">15</text>
<text transform="translate(592.0,676.5) scale(0.86,1)" font-family="Liberation Sans" font-size="6.71" text-anchor="middle" font-weight="normal" fill="#111" stroke="#111" stroke-width="0.28" dominant-baseline="central">LS161</text>
<text transform="translate(603.0,683.5) scale(0.86,1)" font-family="Liberation Sans" font-size="4.88" text-anchor="middle" font-weight="normal" fill="#111" stroke="#111" stroke-width="0.28" dominant-baseline="central">7P</text>
<polyline points="592.3,660.7 618.7,660.7" fill="none" stroke="#0a0a0a" stroke-width="1.3"/>
<path d="M656.5,570 Q656.5,575.2 661,575.2 L989.2,576.5" fill="none" stroke="#0a0a0a" stroke-width="1.3"/>
<text transform="translate(665.0,571.0) scale(0.86,1)" font-family="Liberation Sans" font-size="6.1" text-anchor="middle" font-weight="normal" fill="#111" stroke="#111" stroke-width="0.28" dominant-baseline="central">2H</text>
<polyline points="684.2,165.0 684.2,159.5 800.0,159.6 824.0,161.0 850.0,159.8 947.6,159.8 947.6,214.2 929.4,214.2" fill="none" stroke="#0a0a0a" stroke-width="1.3"/>
<polyline points="724.0,303.2 722.4,303.2 722.4,286.1 753.3,286.1" fill="none" stroke="#0a0a0a" stroke-width="1.3"/>
<text transform="translate(733.0,281.5) scale(0.86,1)" font-family="Liberation Sans" font-size="6.71" text-anchor="middle" font-weight="normal" fill="#111" stroke="#111" stroke-width="0.28" dominant-baseline="central">1H</text>
<text transform="translate(748.5,283.0) scale(0.86,1)" font-family="Liberation Sans" font-size="5.49" text-anchor="middle" font-weight="normal" fill="#111" stroke="#111" stroke-width="0.28" dominant-baseline="central">2</text>
<path d="M753.3,277.20000000000005 L770.8,286.1 L753.3,295.0 Z" fill="white" stroke="#0a0a0a" stroke-width="1.3"/>
<circle cx="772.8" cy="286.1" r="2.0" fill="white" stroke="#0a0a0a" stroke-width="1.1"/>
<text transform="translate(759.9,286.1) scale(0.86,1)" font-family="Liberation Sans" font-size="8.54" text-anchor="middle" font-weight="normal" fill="#111" stroke="#111" stroke-width="0.28" dominant-baseline="central">6B</text>
<text transform="translate(777.5,283.0) scale(0.86,1)" font-family="Liberation Sans" font-size="5.49" text-anchor="middle" font-weight="normal" fill="#111" stroke="#111" stroke-width="0.28" dominant-baseline="central">3</text>
<text transform="translate(764.5,300.5) scale(0.86,1)" font-family="Liberation Sans" font-size="6.71" text-anchor="middle" font-weight="normal" fill="#111" stroke="#111" stroke-width="0.28" dominant-baseline="central">LS366</text>
<polyline points="775.0,286.1 820.2,287.5" fill="none" stroke="#0a0a0a" stroke-width="1.3"/>
<polyline points="791.1,250.0 791.1,258.0" fill="none" stroke="#0a0a0a" stroke-width="1.3"/>
<polyline points="791.1,258.0 788.9,259.2 793.3,261.6 788.9,263.9 793.3,266.3 788.9,268.7 793.3,271.1 788.9,273.4 793.3,275.8 791.1,277.0" fill="none" stroke="#0a0a0a" stroke-width="1.1"/>
<polyline points="791.1,277.0 791.1,286.5" fill="none" stroke="#0a0a0a" stroke-width="1.3"/>
<polyline points="789.0,252.5 791.1,250.0" fill="none" stroke="#0a0a0a" stroke-width="1.3"/>
<text transform="translate(791.0,244.0) scale(0.86,1)" font-family="Liberation Sans" font-size="6.71" text-anchor="middle" font-weight="normal" fill="#111" stroke="#111" stroke-width="0.28" dominant-baseline="central">+5V</text>
<text transform="translate(802.0,262.5) scale(0.86,1)" font-family="Liberation Sans" font-size="6.71" text-anchor="middle" font-weight="normal" fill="#111" stroke="#111" stroke-width="0.28" dominant-baseline="central">R11</text>
<text transform="translate(806.0,271.0) scale(0.86,1)" font-family="Liberation Sans" font-size="6.71" text-anchor="middle" font-weight="normal" fill="#111" stroke="#111" stroke-width="0.28" dominant-baseline="central">220Ω</text>
<rect x="820.2" y="271.3" width="41.2" height="263.7" fill="none" stroke="#0a0a0a" stroke-width="1.3"/>
<text transform="translate(825.0,288.0) scale(0.86,1)" font-family="Liberation Sans" font-size="9.15" text-anchor="middle" font-weight="normal" font-style="italic" fill="#111" stroke="#111" stroke-width="0.28" dominant-baseline="central">ø</text>
<text x="834.5" y="370.5" font-family="Liberation Sans" font-size="9.5" text-anchor="middle" font-weight="normal" font-style="italic" fill="#111" stroke="#111" stroke-width="0.28" dominant-baseline="central">Z80A</text>
<text x="833.5" y="406.0" font-family="Liberation Sans" font-size="10" text-anchor="middle" font-weight="normal" fill="#111" stroke="#111" stroke-width="0.28" dominant-baseline="central">2D</text>
<text transform="translate(853.0,275.2) scale(0.86,1)" font-family="Liberation Sans" font-size="5.61" text-anchor="middle" font-weight="bold" fill="#111" dominant-baseline="central">MREQ</text>
<text transform="translate(866.5,272.2) scale(0.86,1)" font-family="Liberation Sans" font-size="6.1" text-anchor="middle" font-weight="normal" fill="#111" stroke="#111" stroke-width="0.28" dominant-baseline="central">19</text>
<text transform="translate(853.0,282.4) scale(0.86,1)" font-family="Liberation Sans" font-size="5.61" text-anchor="middle" font-weight="bold" fill="#111" dominant-baseline="central">RFSH</text>
<text transform="translate(866.5,279.4) scale(0.86,1)" font-family="Liberation Sans" font-size="6.1" text-anchor="middle" font-weight="normal" fill="#111" stroke="#111" stroke-width="0.28" dominant-baseline="central">28</text>
<text transform="translate(853.0,290.5) scale(0.86,1)" font-family="Liberation Sans" font-size="5.61" text-anchor="middle" font-weight="bold" fill="#111" dominant-baseline="central">A15</text>
<text transform="translate(866.5,287.5) scale(0.86,1)" font-family="Liberation Sans" font-size="6.1" text-anchor="middle" font-weight="normal" fill="#111" stroke="#111" stroke-width="0.28" dominant-baseline="central">5</text>
<text transform="translate(853.0,299.0) scale(0.86,1)" font-family="Liberation Sans" font-size="5.61" text-anchor="middle" font-weight="bold" fill="#111" dominant-baseline="central">A14</text>
<text transform="translate(866.5,296.0) scale(0.86,1)" font-family="Liberation Sans" font-size="6.1" text-anchor="middle" font-weight="normal" fill="#111" stroke="#111" stroke-width="0.28" dominant-baseline="central">4</text>
<text transform="translate(853.0,306.8) scale(0.86,1)" font-family="Liberation Sans" font-size="5.61" text-anchor="middle" font-weight="bold" fill="#111" dominant-baseline="central">A13</text>
<text transform="translate(866.5,303.8) scale(0.86,1)" font-family="Liberation Sans" font-size="6.1" text-anchor="middle" font-weight="normal" fill="#111" stroke="#111" stroke-width="0.28" dominant-baseline="central">3</text>
<polyline points="861.5,274.6 873.6,274.6 873.6,193.3 918.9,193.3 918.9,204.0" fill="none" stroke="#0a0a0a" stroke-width="1.3"/>
<circle cx="918.9" cy="204.2" r="1.8" fill="white" stroke="#0a0a0a" stroke-width="1.1"/>
<polyline points="861.5,282.4 881.7,282.4 881.7,213.3 908.2,213.3" fill="none" stroke="#0a0a0a" stroke-width="1.3"/>
<polyline points="861.5,290.4 889.8,290.4 889.8,233.2 908.2,233.2" fill="none" stroke="#0a0a0a" stroke-width="1.3"/>
<polyline points="861.5,298.9 930.1,298.9 930.1,254.5 963.4,254.5" fill="none" stroke="#0a0a0a" stroke-width="1.3"/>
<polyline points="861.5,307.1 938.4,307.1 938.4,262.8 963.4,262.8" fill="none" stroke="#0a0a0a" stroke-width="1.3"/>
<path d="M861.2,315.3 L897,315.3 Q901,315.3 901,319.3 L901,323.3" fill="none" stroke="#0a0a0a" stroke-width="1.3"/>
<text transform="translate(854.0,312.3) scale(0.86,1)" font-family="Liberation Sans" font-size="5.86" text-anchor="middle" font-weight="normal" fill="#111" stroke="#111" stroke-width="0.28" dominant-baseline="central">A12</text>
<text transform="translate(868.0,312.0) scale(0.86,1)" font-family="Liberation Sans" font-size="6.71" text-anchor="middle" font-weight="normal" fill="#111" stroke="#111" stroke-width="0.28" dominant-baseline="central">2</text>
<text transform="translate(891.0,312.0) scale(0.86,1)" font-family="Liberation Sans" font-size="6.1" text-anchor="middle" font-weight="normal" fill="#111" stroke="#111" stroke-width="0.28" dominant-baseline="central">AD12</text>
<path d="M861.2,323.6 L897,323.6 Q901,323.6 901,327.6 L901,331.6" fill="none" stroke="#0a0a0a" stroke-width="1.3"/>
<text transform="translate(854.0,320.6) scale(0.86,1)" font-family="Liberation Sans" font-size="5.86" text-anchor="middle" font-weight="normal" fill="#111" stroke="#111" stroke-width="0.28" dominant-baseline="central">A11</text>
<text transform="translate(868.0,320.3) scale(0.86,1)" font-family="Liberation Sans" font-size="6.71" text-anchor="middle" font-weight="normal" fill="#111" stroke="#111" stroke-width="0.28" dominant-baseline="central">1</text>
<text transform="translate(891.0,320.3) scale(0.86,1)" font-family="Liberation Sans" font-size="6.1" text-anchor="middle" font-weight="normal" fill="#111" stroke="#111" stroke-width="0.28" dominant-baseline="central">AD11</text>
<path d="M861.2,331.5 L897,331.5 Q901,331.5 901,335.5 L901,339.5" fill="none" stroke="#0a0a0a" stroke-width="1.3"/>
<text transform="translate(854.0,328.5) scale(0.86,1)" font-family="Liberation Sans" font-size="5.86" text-anchor="middle" font-weight="normal" fill="#111" stroke="#111" stroke-width="0.28" dominant-baseline="central">A10</text>
<text transform="translate(868.0,328.2) scale(0.86,1)" font-family="Liberation Sans" font-size="6.71" text-anchor="middle" font-weight="normal" fill="#111" stroke="#111" stroke-width="0.28" dominant-baseline="central">40</text>
<text transform="translate(891.0,328.2) scale(0.86,1)" font-family="Liberation Sans" font-size="6.1" text-anchor="middle" font-weight="normal" fill="#111" stroke="#111" stroke-width="0.28" dominant-baseline="central">AD10</text>
<path d="M861.2,339.5 L897,339.5 Q901,339.5 901,343.5 L901,347.5" fill="none" stroke="#0a0a0a" stroke-width="1.3"/>
<text transform="translate(854.0,336.5) scale(0.86,1)" font-family="Liberation Sans" font-size="5.86" text-anchor="middle" font-weight="normal" fill="#111" stroke="#111" stroke-width="0.28" dominant-baseline="central">A9</text>
<text transform="translate(868.0,336.2) scale(0.86,1)" font-family="Liberation Sans" font-size="6.71" text-anchor="middle" font-weight="normal" fill="#111" stroke="#111" stroke-width="0.28" dominant-baseline="central">39</text>
<text transform="translate(891.0,336.2) scale(0.86,1)" font-family="Liberation Sans" font-size="6.1" text-anchor="middle" font-weight="normal" fill="#111" stroke="#111" stroke-width="0.28" dominant-baseline="central">AD9</text>
<path d="M861.2,347.8 L897,347.8 Q901,347.8 901,351.8 L901,355.8" fill="none" stroke="#0a0a0a" stroke-width="1.3"/>
<text transform="translate(854.0,344.8) scale(0.86,1)" font-family="Liberation Sans" font-size="5.86" text-anchor="middle" font-weight="normal" fill="#111" stroke="#111" stroke-width="0.28" dominant-baseline="central">A8</text>
<text transform="translate(868.0,344.5) scale(0.86,1)" font-family="Liberation Sans" font-size="6.71" text-anchor="middle" font-weight="normal" fill="#111" stroke="#111" stroke-width="0.28" dominant-baseline="central">38</text>
<text transform="translate(891.0,344.5) scale(0.86,1)" font-family="Liberation Sans" font-size="6.1" text-anchor="middle" font-weight="normal" fill="#111" stroke="#111" stroke-width="0.28" dominant-baseline="central">AD8</text>
<path d="M861.2,355.8 L897,355.8 Q901,355.8 901,359.8 L901,363.8" fill="none" stroke="#0a0a0a" stroke-width="1.3"/>
<text transform="translate(854.0,352.8) scale(0.86,1)" font-family="Liberation Sans" font-size="5.86" text-anchor="middle" font-weight="normal" fill="#111" stroke="#111" stroke-width="0.28" dominant-baseline="central">A7</text>
<text transform="translate(868.0,352.5) scale(0.86,1)" font-family="Liberation Sans" font-size="6.71" text-anchor="middle" font-weight="normal" fill="#111" stroke="#111" stroke-width="0.28" dominant-baseline="central">37</text>
<text transform="translate(891.0,352.5) scale(0.86,1)" font-family="Liberation Sans" font-size="6.1" text-anchor="middle" font-weight="normal" fill="#111" stroke="#111" stroke-width="0.28" dominant-baseline="central">AD7</text>
<path d="M861.2,364.2 L897,364.2 Q901,364.2 901,368.2 L901,372.2" fill="none" stroke="#0a0a0a" stroke-width="1.3"/>
<text transform="translate(854.0,361.2) scale(0.86,1)" font-family="Liberation Sans" font-size="5.86" text-anchor="middle" font-weight="normal" fill="#111" stroke="#111" stroke-width="0.28" dominant-baseline="central">A6</text>
<text transform="translate(868.0,360.9) scale(0.86,1)" font-family="Liberation Sans" font-size="6.71" text-anchor="middle" font-weight="normal" fill="#111" stroke="#111" stroke-width="0.28" dominant-baseline="central">36</text>
<text transform="translate(891.0,360.9) scale(0.86,1)" font-family="Liberation Sans" font-size="6.1" text-anchor="middle" font-weight="normal" fill="#111" stroke="#111" stroke-width="0.28" dominant-baseline="central">AD6</text>
<path d="M861.2,372.5 L897,372.5 Q901,372.5 901,376.5 L901,380.5" fill="none" stroke="#0a0a0a" stroke-width="1.3"/>
<text transform="translate(854.0,369.5) scale(0.86,1)" font-family="Liberation Sans" font-size="5.86" text-anchor="middle" font-weight="normal" fill="#111" stroke="#111" stroke-width="0.28" dominant-baseline="central">A5</text>
<text transform="translate(868.0,369.2) scale(0.86,1)" font-family="Liberation Sans" font-size="6.71" text-anchor="middle" font-weight="normal" fill="#111" stroke="#111" stroke-width="0.28" dominant-baseline="central">35</text>
<text transform="translate(891.0,369.2) scale(0.86,1)" font-family="Liberation Sans" font-size="6.1" text-anchor="middle" font-weight="normal" fill="#111" stroke="#111" stroke-width="0.28" dominant-baseline="central">AD5</text>
<path d="M861.2,380.5 L897,380.5 Q901,380.5 901,384.5 L901,388.5" fill="none" stroke="#0a0a0a" stroke-width="1.3"/>
<text transform="translate(854.0,377.5) scale(0.86,1)" font-family="Liberation Sans" font-size="5.86" text-anchor="middle" font-weight="normal" fill="#111" stroke="#111" stroke-width="0.28" dominant-baseline="central">A4</text>
<text transform="translate(868.0,377.2) scale(0.86,1)" font-family="Liberation Sans" font-size="6.71" text-anchor="middle" font-weight="normal" fill="#111" stroke="#111" stroke-width="0.28" dominant-baseline="central">34</text>
<text transform="translate(891.0,377.2) scale(0.86,1)" font-family="Liberation Sans" font-size="6.1" text-anchor="middle" font-weight="normal" fill="#111" stroke="#111" stroke-width="0.28" dominant-baseline="central">AD4</text>
<path d="M861.2,388.7 L897,388.7 Q901,388.7 901,392.7 L901,396.7" fill="none" stroke="#0a0a0a" stroke-width="1.3"/>
<text transform="translate(854.0,385.7) scale(0.86,1)" font-family="Liberation Sans" font-size="5.86" text-anchor="middle" font-weight="normal" fill="#111" stroke="#111" stroke-width="0.28" dominant-baseline="central">A3</text>
<text transform="translate(868.0,385.4) scale(0.86,1)" font-family="Liberation Sans" font-size="6.71" text-anchor="middle" font-weight="normal" fill="#111" stroke="#111" stroke-width="0.28" dominant-baseline="central">33</text>
<text transform="translate(891.0,385.4) scale(0.86,1)" font-family="Liberation Sans" font-size="6.1" text-anchor="middle" font-weight="normal" fill="#111" stroke="#111" stroke-width="0.28" dominant-baseline="central">AD3</text>
<path d="M861.2,396.9 L897,396.9 Q901,396.9 901,400.9 L901,404.9" fill="none" stroke="#0a0a0a" stroke-width="1.3"/>
<text transform="translate(854.0,393.9) scale(0.86,1)" font-family="Liberation Sans" font-size="5.86" text-anchor="middle" font-weight="normal" fill="#111" stroke="#111" stroke-width="0.28" dominant-baseline="central">A2</text>
<text transform="translate(868.0,393.6) scale(0.86,1)" font-family="Liberation Sans" font-size="6.71" text-anchor="middle" font-weight="normal" fill="#111" stroke="#111" stroke-width="0.28" dominant-baseline="central">32</text>
<text transform="translate(891.0,393.6) scale(0.86,1)" font-family="Liberation Sans" font-size="6.1" text-anchor="middle" font-weight="normal" fill="#111" stroke="#111" stroke-width="0.28" dominant-baseline="central">AD2</text>
<path d="M861.2,405.1 L897,405.1 Q901,405.1 901,409.1 L901,413.1" fill="none" stroke="#0a0a0a" stroke-width="1.3"/>
<text transform="translate(854.0,402.1) scale(0.86,1)" font-family="Liberation Sans" font-size="5.86" text-anchor="middle" font-weight="normal" fill="#111" stroke="#111" stroke-width="0.28" dominant-baseline="central">A1</text>
<text transform="translate(868.0,401.8) scale(0.86,1)" font-family="Liberation Sans" font-size="6.71" text-anchor="middle" font-weight="normal" fill="#111" stroke="#111" stroke-width="0.28" dominant-baseline="central">31</text>
<text transform="translate(891.0,401.8) scale(0.86,1)" font-family="Liberation Sans" font-size="6.1" text-anchor="middle" font-weight="normal" fill="#111" stroke="#111" stroke-width="0.28" dominant-baseline="central">AD1</text>
<path d="M861.2,413.4 L897,413.4 Q901,413.4 901,417.4 L901,421.4" fill="none" stroke="#0a0a0a" stroke-width="1.3"/>
<text transform="translate(854.0,410.4) scale(0.86,1)" font-family="Liberation Sans" font-size="5.86" text-anchor="middle" font-weight="normal" fill="#111" stroke="#111" stroke-width="0.28" dominant-baseline="central">AØ</text>
<text transform="translate(868.0,410.1) scale(0.86,1)" font-family="Liberation Sans" font-size="6.71" text-anchor="middle" font-weight="normal" fill="#111" stroke="#111" stroke-width="0.28" dominant-baseline="central">30</text>
<text transform="translate(891.0,410.1) scale(0.86,1)" font-family="Liberation Sans" font-size="6.1" text-anchor="middle" font-weight="normal" fill="#111" stroke="#111" stroke-width="0.28" dominant-baseline="central">ADØ</text>
<path d="M901,315 L901,437 Q901,441.2 905,441.2 L1360,441.2" fill="none" stroke="#0a0a0a" stroke-width="2.2"/>
<path d="M1365,441.2 L1359,438.5 L1359,443.9 Z" fill="#0a0a0a" stroke="#0a0a0a" stroke-width="0.8"/>
<text transform="translate(1384.5,442.5) scale(0.86,1)" font-family="Liberation Sans" font-size="7.69" text-anchor="middle" font-weight="normal" font-style="italic" fill="#111" stroke="#111" stroke-width="0.28" dominant-baseline="central">ADØ~AD7</text>
<text transform="translate(1425.0,442.5) scale(0.86,1)" font-family="Liberation Sans" font-size="7.56" text-anchor="middle" font-weight="normal" font-style="italic" fill="#111" stroke="#111" stroke-width="0.28" dominant-baseline="central">SHT  2</text>
<polyline points="796.0,315.0 796.0,352.6 820.3,352.6" fill="none" stroke="#0a0a0a" stroke-width="1.3"/>
<path d="M796,325 Q796,331.5 802,331.5 L820.3,331.5" fill="none" stroke="#0a0a0a" stroke-width="1.3"/>
<polyline points="794.0,317.5 796.0,315.0" fill="none" stroke="#0a0a0a" stroke-width="1.3"/>
<text transform="translate(796.5,309.5) scale(0.86,1)" font-family="Liberation Sans" font-size="6.71" text-anchor="middle" font-weight="normal" fill="#111" stroke="#111" stroke-width="0.28" dominant-baseline="central">+5V</text>
<text transform="translate(813.0,327.5) scale(0.86,1)" font-family="Liberation Sans" font-size="6.71" text-anchor="middle" font-weight="normal" fill="#111" stroke="#111" stroke-width="0.28" dominant-baseline="central">25</text>
<text transform="translate(813.0,348.5) scale(0.86,1)" font-family="Liberation Sans" font-size="6.71" text-anchor="middle" font-weight="normal" fill="#111" stroke="#111" stroke-width="0.28" dominant-baseline="central">17</text>
<text transform="translate(832.0,332.0) scale(0.86,1)" font-family="Liberation Sans" font-size="5.12" text-anchor="middle" font-weight="bold" fill="#111" dominant-baseline="central">BUSRQ</text>
<text transform="translate(829.0,353.0) scale(0.86,1)" font-family="Liberation Sans" font-size="5.61" text-anchor="middle" font-weight="bold" fill="#111" dominant-baseline="central">NMI</text>
<polyline points="861.2,429.4 915.0,429.4" fill="none" stroke="#0a0a0a" stroke-width="1.3"/>
<path d="M920,429.4 L915,427.15 L915,431.65 Z" fill="#0a0a0a" stroke="#0a0a0a" stroke-width="0.8"/>
<text transform="translate(853.0,428.0) scale(0.86,1)" font-family="Liberation Sans" font-size="6.1" text-anchor="middle" font-weight="normal" fill="#111" stroke="#111" stroke-width="0.28" dominant-baseline="central">WE</text>
<text transform="translate(868.0,426.0) scale(0.86,1)" font-family="Liberation Sans" font-size="6.1" text-anchor="middle" font-weight="normal" fill="#111" stroke="#111" stroke-width="0.28" dominant-baseline="central">22</text>
<text transform="translate(929.0,421.0) scale(0.86,1)" font-family="Liberation Sans" font-size="6.1" text-anchor="middle" font-weight="normal" font-style="italic" fill="#111" stroke="#111" stroke-width="0.28" dominant-baseline="central">(SHT 2)</text>
<text transform="translate(929.0,429.5) scale(0.86,1)" font-family="Liberation Sans" font-size="6.71" text-anchor="middle" font-weight="normal" fill="#111" stroke="#111" stroke-width="0.28" dominant-baseline="central">IC6A</text>
<text transform="translate(928.0,436.0) scale(0.86,1)" font-family="Liberation Sans" font-size="4.88" text-anchor="middle" font-weight="normal" fill="#111" stroke="#111" stroke-width="0.28" dominant-baseline="central">PIN 1</text>
<polyline points="861.2,445.8 946.7,445.8 946.7,246.8 963.4,246.8" fill="none" stroke="#0a0a0a" stroke-width="1.3"/>
<text transform="translate(853.0,444.0) scale(0.86,1)" font-family="Liberation Sans" font-size="6.1" text-anchor="middle" font-weight="normal" fill="#111" stroke="#111" stroke-width="0.28" dominant-baseline="central">RD</text>
<text transform="translate(868.0,443.0) scale(0.86,1)" font-family="Liberation Sans" font-size="6.1" text-anchor="middle" font-weight="normal" fill="#111" stroke="#111" stroke-width="0.28" dominant-baseline="central">21</text>
<polyline points="779.7,392.0 820.3,392.0" fill="none" stroke="#0a0a0a" stroke-width="1.3"/>
<text transform="translate(785.0,388.0) scale(0.86,1)" font-family="Liberation Sans" font-size="5.49" text-anchor="middle" font-weight="normal" fill="#111" stroke="#111" stroke-width="0.28" dominant-baseline="central">9</text>
<text transform="translate(813.0,389.0) scale(0.86,1)" font-family="Liberation Sans" font-size="6.1" text-anchor="middle" font-weight="normal" fill="#111" stroke="#111" stroke-width="0.28" dominant-baseline="central">16</text>
<text transform="translate(828.0,392.5) scale(0.86,1)" font-family="Liberation Sans" font-size="6.1" text-anchor="middle" font-weight="normal" fill="#111" stroke="#111" stroke-width="0.28" dominant-baseline="central">INT</text>
<polyline points="778.4,474.5 819.3,474.5" fill="none" stroke="#0a0a0a" stroke-width="1.3"/>
<polyline points="776.5,472.0 778.4,474.5 776.5,477.0" fill="none" stroke="#0a0a0a" stroke-width="1.3"/>
<text transform="translate(813.0,471.0) scale(0.86,1)" font-family="Liberation Sans" font-size="6.71" text-anchor="middle" font-weight="normal" fill="#111" stroke="#111" stroke-width="0.28" dominant-baseline="central">26</text>
<text transform="translate(828.5,475.0) scale(0.86,1)" font-family="Liberation Sans" font-size="5.86" text-anchor="middle" font-weight="normal" fill="#111" stroke="#111" stroke-width="0.28" dominant-baseline="central">RESET</text>
<text transform="translate(757.0,473.0) scale(0.86,1)" font-family="Liberation Sans" font-size="6.1" text-anchor="middle" font-weight="normal" fill="#111" stroke="#111" stroke-width="0.28" dominant-baseline="central">IC8A</text>
<text transform="translate(761.0,481.0) scale(0.86,1)" font-family="Liberation Sans" font-size="4.88" text-anchor="middle" font-weight="normal" fill="#111" stroke="#111" stroke-width="0.28" dominant-baseline="central">PIN 15</text>
<text transform="translate(755.5,488.5) scale(0.86,1)" font-family="Liberation Sans" font-size="6.1" text-anchor="middle" font-weight="normal" fill="#111" stroke="#111" stroke-width="0.28" dominant-baseline="central">(SHT 2)</text>
<polyline points="819.3,502.4 795.9,502.4 795.9,581.0 1139.3,581.0 1139.3,650.0" fill="none" stroke="#0a0a0a" stroke-width="1.3"/>
<text transform="translate(812.5,499.0) scale(0.86,1)" font-family="Liberation Sans" font-size="6.71" text-anchor="middle" font-weight="normal" fill="#111" stroke="#111" stroke-width="0.28" dominant-baseline="central">24</text>
<text transform="translate(828.0,503.0) scale(0.86,1)" font-family="Liberation Sans" font-size="5.86" text-anchor="middle" font-weight="normal" fill="#111" stroke="#111" stroke-width="0.28" dominant-baseline="central">WAIT</text>
<path d="M860.3,466.3 L896,466.3 Q900.6,466.3 900.6,471.3" fill="none" stroke="#0a0a0a" stroke-width="1.3"/>
<text transform="translate(853.0,465.3) scale(0.86,1)" font-family="Liberation Sans" font-size="6.1" text-anchor="middle" font-weight="normal" fill="#111" stroke="#111" stroke-width="0.28" dominant-baseline="central">D7</text>
<text transform="translate(866.0,463.0) scale(0.86,1)" font-family="Liberation Sans" font-size="6.1" text-anchor="middle" font-weight="normal" fill="#111" stroke="#111" stroke-width="0.28" dominant-baseline="central">13</text>
<text transform="translate(880.0,463.0) scale(0.86,1)" font-family="Liberation Sans" font-size="6.1" text-anchor="middle" font-weight="normal" fill="#111" stroke="#111" stroke-width="0.28" dominant-baseline="central">DØ7</text>
<path d="M860.3,474.4 L896,474.4 Q900.6,474.4 900.6,479.4" fill="none" stroke="#0a0a0a" stroke-width="1.3"/>
<text transform="translate(853.0,473.4) scale(0.86,1)" font-family="Liberation Sans" font-size="6.1" text-anchor="middle" font-weight="normal" fill="#111" stroke="#111" stroke-width="0.28" dominant-baseline="central">D6</text>
<text transform="translate(866.0,471.1) scale(0.86,1)" font-family="Liberation Sans" font-size="6.1" text-anchor="middle" font-weight="normal" fill="#111" stroke="#111" stroke-width="0.28" dominant-baseline="central">10</text>
<text transform="translate(880.0,471.1) scale(0.86,1)" font-family="Liberation Sans" font-size="6.1" text-anchor="middle" font-weight="normal" fill="#111" stroke="#111" stroke-width="0.28" dominant-baseline="central">DØ6</text>
<path d="M860.3,482.2 L896,482.2 Q900.6,482.2 900.6,487.2" fill="none" stroke="#0a0a0a" stroke-width="1.3"/>
<text transform="translate(853.0,481.2) scale(0.86,1)" font-family="Liberation Sans" font-size="6.1" text-anchor="middle" font-weight="normal" fill="#111" stroke="#111" stroke-width="0.28" dominant-baseline="central">D5</text>
<text transform="translate(866.0,478.9) scale(0.86,1)" font-family="Liberation Sans" font-size="6.1" text-anchor="middle" font-weight="normal" fill="#111" stroke="#111" stroke-width="0.28" dominant-baseline="central">9</text>
<text transform="translate(880.0,478.9) scale(0.86,1)" font-family="Liberation Sans" font-size="6.1" text-anchor="middle" font-weight="normal" fill="#111" stroke="#111" stroke-width="0.28" dominant-baseline="central">DØ5</text>
<path d="M860.3,490.3 L896,490.3 Q900.6,490.3 900.6,495.3" fill="none" stroke="#0a0a0a" stroke-width="1.3"/>
<text transform="translate(853.0,489.3) scale(0.86,1)" font-family="Liberation Sans" font-size="6.1" text-anchor="middle" font-weight="normal" fill="#111" stroke="#111" stroke-width="0.28" dominant-baseline="central">D4</text>
<text transform="translate(866.0,487.0) scale(0.86,1)" font-family="Liberation Sans" font-size="6.1" text-anchor="middle" font-weight="normal" fill="#111" stroke="#111" stroke-width="0.28" dominant-baseline="central">7</text>
<text transform="translate(880.0,487.0) scale(0.86,1)" font-family="Liberation Sans" font-size="6.1" text-anchor="middle" font-weight="normal" fill="#111" stroke="#111" stroke-width="0.28" dominant-baseline="central">DØ4</text>
<path d="M860.3,498.8 L896,498.8 Q900.6,498.8 900.6,503.8" fill="none" stroke="#0a0a0a" stroke-width="1.3"/>
<text transform="translate(853.0,497.8) scale(0.86,1)" font-family="Liberation Sans" font-size="6.1" text-anchor="middle" font-weight="normal" fill="#111" stroke="#111" stroke-width="0.28" dominant-baseline="central">D3</text>
<text transform="translate(866.0,495.5) scale(0.86,1)" font-family="Liberation Sans" font-size="6.1" text-anchor="middle" font-weight="normal" fill="#111" stroke="#111" stroke-width="0.28" dominant-baseline="central">8</text>
<text transform="translate(880.0,495.5) scale(0.86,1)" font-family="Liberation Sans" font-size="6.1" text-anchor="middle" font-weight="normal" fill="#111" stroke="#111" stroke-width="0.28" dominant-baseline="central">DØ3</text>
<path d="M860.3,506.8 L896,506.8 Q900.6,506.8 900.6,511.8" fill="none" stroke="#0a0a0a" stroke-width="1.3"/>
<text transform="translate(853.0,505.8) scale(0.86,1)" font-family="Liberation Sans" font-size="6.1" text-anchor="middle" font-weight="normal" fill="#111" stroke="#111" stroke-width="0.28" dominant-baseline="central">D2</text>
<text transform="translate(866.0,503.5) scale(0.86,1)" font-family="Liberation Sans" font-size="6.1" text-anchor="middle" font-weight="normal" fill="#111" stroke="#111" stroke-width="0.28" dominant-baseline="central">12</text>
<text transform="translate(880.0,503.5) scale(0.86,1)" font-family="Liberation Sans" font-size="6.1" text-anchor="middle" font-weight="normal" fill="#111" stroke="#111" stroke-width="0.28" dominant-baseline="central">DØ2</text>
<path d="M860.3,515.2 L896,515.2 Q900.6,515.2 900.6,520.2" fill="none" stroke="#0a0a0a" stroke-width="1.3"/>
<text transform="translate(853.0,514.2) scale(0.86,1)" font-family="Liberation Sans" font-size="6.1" text-anchor="middle" font-weight="normal" fill="#111" stroke="#111" stroke-width="0.28" dominant-baseline="central">D1</text>
<text transform="translate(866.0,511.9) scale(0.86,1)" font-family="Liberation Sans" font-size="6.1" text-anchor="middle" font-weight="normal" fill="#111" stroke="#111" stroke-width="0.28" dominant-baseline="central">15</text>
<text transform="translate(880.0,511.9) scale(0.86,1)" font-family="Liberation Sans" font-size="6.1" text-anchor="middle" font-weight="normal" fill="#111" stroke="#111" stroke-width="0.28" dominant-baseline="central">DØ1</text>
<path d="M860.3,523.6 L896,523.6 Q900.6,523.6 900.6,528.6" fill="none" stroke="#0a0a0a" stroke-width="1.3"/>
<text transform="translate(853.0,522.6) scale(0.86,1)" font-family="Liberation Sans" font-size="6.1" text-anchor="middle" font-weight="normal" fill="#111" stroke="#111" stroke-width="0.28" dominant-baseline="central">DØ</text>
<text transform="translate(866.0,520.3) scale(0.86,1)" font-family="Liberation Sans" font-size="6.1" text-anchor="middle" font-weight="normal" fill="#111" stroke="#111" stroke-width="0.28" dominant-baseline="central">14</text>
<text transform="translate(880.0,520.3) scale(0.86,1)" font-family="Liberation Sans" font-size="6.1" text-anchor="middle" font-weight="normal" fill="#111" stroke="#111" stroke-width="0.28" dominant-baseline="central">DØØ</text>
<rect x="759.3" y="385.2" width="20.4" height="38.3" fill="none" stroke="#0a0a0a" stroke-width="1.3"/>
<text x="769.0" y="405.0" font-family="Liberation Sans" font-size="8" text-anchor="middle" font-weight="normal" fill="#111" stroke="#111" stroke-width="0.28" dominant-baseline="central">5C</text>
<text transform="translate(763.0,392.5) scale(0.86,1)" font-family="Liberation Sans" font-size="5.49" text-anchor="middle" font-weight="normal" fill="#111" stroke="#111" stroke-width="0.28" dominant-baseline="central">D</text>
<text transform="translate(776.5,392.0) scale(0.86,1)" font-family="Liberation Sans" font-size="5.49" text-anchor="middle" font-weight="normal" fill="#111" stroke="#111" stroke-width="0.28" dominant-baseline="central">Q</text>
<text transform="translate(762.5,416.5) scale(0.86,1)" font-family="Liberation Sans" font-size="5.49" text-anchor="middle" font-weight="normal" fill="#111" stroke="#111" stroke-width="0.28" dominant-baseline="central">C</text>
<text transform="translate(769.0,420.0) scale(0.86,1)" font-family="Liberation Sans" font-size="4.27" text-anchor="middle" font-weight="normal" fill="#111" stroke="#111" stroke-width="0.28" dominant-baseline="central">CL</text>
<text transform="translate(769.0,389.0) scale(0.86,1)" font-family="Liberation Sans" font-size="4.27" text-anchor="middle" font-weight="normal" fill="#111" stroke="#111" stroke-width="0.28" dominant-baseline="central">P</text>
<polyline points="759.3,392.5 738.2,392.5 738.2,398.0" fill="none" stroke="#0a0a0a" stroke-width="1.3"/>
<path d="M734.9000000000001,398 L741.5,398 L738.2,402.62 Z" fill="none" stroke="#0a0a0a" stroke-width="1.0"/>
<text transform="translate(754.5,388.5) scale(0.86,1)" font-family="Liberation Sans" font-size="5.49" text-anchor="middle" font-weight="normal" fill="#111" stroke="#111" stroke-width="0.28" dominant-baseline="central">12</text>
<text transform="translate(775.0,381.5) scale(0.86,1)" font-family="Liberation Sans" font-size="5.49" text-anchor="middle" font-weight="normal" fill="#111" stroke="#111" stroke-width="0.28" dominant-baseline="central">10</text>
<polyline points="745.0,364.5 768.5,364.5 768.5,383.5" fill="none" stroke="#0a0a0a" stroke-width="1.3"/>
<circle cx="768.5" cy="384.0" r="1.4" fill="white" stroke="#0a0a0a" stroke-width="1.1"/>
<polyline points="743.0,362.0 745.0,364.5 743.0,367.0" fill="none" stroke="#0a0a0a" stroke-width="1.3"/>
<text transform="translate(734.0,355.0) scale(0.86,1)" font-family="Liberation Sans" font-size="6.1" text-anchor="middle" font-weight="normal" font-style="italic" fill="#111" stroke="#111" stroke-width="0.28" dominant-baseline="central">(SHT 2)</text>
<text transform="translate(737.0,363.5) scale(0.86,1)" font-family="Liberation Sans" font-size="7.32" text-anchor="middle" font-weight="normal" fill="#111" stroke="#111" stroke-width="0.28" dominant-baseline="central">9D</text>
<text transform="translate(735.0,370.0) scale(0.86,1)" font-family="Liberation Sans" font-size="5.49" text-anchor="middle" font-weight="normal" fill="#111" stroke="#111" stroke-width="0.28" dominant-baseline="central">PIN 4</text>
<polyline points="768.5,424.0 768.5,437.0" fill="none" stroke="#0a0a0a" stroke-width="1.3"/>
<circle cx="768.5" cy="424.5" r="1.4" fill="white" stroke="#0a0a0a" stroke-width="1.1"/>
<polyline points="766.5,437.0 768.5,437.0" fill="none" stroke="#0a0a0a" stroke-width="1.3"/>
<text transform="translate(771.0,442.0) scale(0.86,1)" font-family="Liberation Sans" font-size="5.49" text-anchor="middle" font-weight="normal" fill="#111" stroke="#111" stroke-width="0.28" dominant-baseline="central">+5V</text>
<text transform="translate(785.0,429.0) scale(0.86,1)" font-family="Liberation Sans" font-size="7.32" text-anchor="middle" font-weight="normal" fill="#111" stroke="#111" stroke-width="0.28" dominant-baseline="central">LS74</text>
<polyline points="728.7,416.3 759.3,416.3" fill="none" stroke="#0a0a0a" stroke-width="1.3"/>
<text transform="translate(754.0,412.5) scale(0.86,1)" font-family="Liberation Sans" font-size="5.49" text-anchor="middle" font-weight="normal" fill="#111" stroke="#111" stroke-width="0.28" dominant-baseline="central">11</text>
<polyline points="712.7,416.3 713.7,414.3 715.7,418.3 717.7,414.3 719.7,418.3 721.7,414.3 723.7,418.3 725.7,414.3 727.7,418.3 728.7,416.3" fill="none" stroke="#0a0a0a" stroke-width="1.1"/>
<polyline points="705.0,416.3 712.7,416.3" fill="none" stroke="#0a0a0a" stroke-width="1.3"/>
<polyline points="703.0,414.0 705.0,416.3 703.0,418.5" fill="none" stroke="#0a0a0a" stroke-width="1.3"/>
<circle cx="728.7" cy="416.3" r="1.2" fill="#0a0a0a"/>
<polyline points="728.7,416.3 728.7,428.0" fill="none" stroke="#0a0a0a" stroke-width="1.3"/>
<polyline points="724.5,428.0 733.0,428.0" fill="none" stroke="#0a0a0a" stroke-width="1.3"/>
<path d="M724.5,431 Q728.7,429.5 733,431" fill="none" stroke="#0a0a0a" stroke-width="1.1"/>
<polyline points="728.7,430.5 728.7,436.0" fill="none" stroke="#0a0a0a" stroke-width="1.3"/>
<path d="M725.4000000000001,436 L732.0,436 L728.7,440.62 Z" fill="none" stroke="#0a0a0a" stroke-width="1.0"/>
<text transform="translate(738.0,428.0) scale(0.86,1)" font-family="Liberation Sans" font-size="6.71" text-anchor="middle" font-weight="normal" fill="#111" stroke="#111" stroke-width="0.28" dominant-baseline="central">C4</text>
<text transform="translate(739.0,436.5) scale(0.86,1)" font-family="Liberation Sans" font-size="6.1" text-anchor="middle" font-weight="normal" fill="#111" stroke="#111" stroke-width="0.28" dominant-baseline="central">100p</text>
<text transform="translate(715.0,423.0) scale(0.86,1)" font-family="Liberation Sans" font-size="5.49" text-anchor="middle" font-weight="normal" fill="#111" stroke="#111" stroke-width="0.28" dominant-baseline="central">100Ω</text>
<text transform="translate(717.0,410.5) scale(0.86,1)" font-family="Liberation Sans" font-size="6.1" text-anchor="middle" font-weight="normal" fill="#111" stroke="#111" stroke-width="0.28" dominant-baseline="central">R6</text>
<text transform="translate(688.0,410.0) scale(0.86,1)" font-family="Liberation Sans" font-size="6.1" text-anchor="start" font-weight="normal" fill="#111" stroke="#111" stroke-width="0.28" dominant-baseline="central">V BLANK</text>
<text transform="translate(686.5,417.0) scale(0.86,1)" font-family="Liberation Sans" font-size="6.1" text-anchor="start" font-weight="normal" fill="#111" stroke="#111" stroke-width="0.28" dominant-baseline="central">8L</text>
<text transform="translate(687.0,424.0) scale(0.86,1)" font-family="Liberation Sans" font-size="4.88" text-anchor="start" font-weight="normal" fill="#111" stroke="#111" stroke-width="0.28" dominant-baseline="central">PIN 6</text>
<rect x="908.2" y="206.0" width="21.2" height="37.3" fill="none" stroke="#0a0a0a" stroke-width="1.3"/>
<text x="918.5" y="224.5" font-family="Liberation Sans" font-size="8" text-anchor="middle" font-weight="normal" fill="#111" stroke="#111" stroke-width="0.28" dominant-baseline="central">5D</text>
<text transform="translate(911.5,213.0) scale(0.86,1)" font-family="Liberation Sans" font-size="6.1" text-anchor="middle" font-weight="normal" fill="#111" stroke="#111" stroke-width="0.28" dominant-baseline="central">B</text>
<text transform="translate(911.5,233.5) scale(0.86,1)" font-family="Liberation Sans" font-size="6.1" text-anchor="middle" font-weight="normal" fill="#111" stroke="#111" stroke-width="0.28" dominant-baseline="central">A</text>
<text transform="translate(926.0,214.0) scale(0.86,1)" font-family="Liberation Sans" font-size="6.1" text-anchor="middle" font-weight="normal" fill="#111" stroke="#111" stroke-width="0.28" dominant-baseline="central">3</text>
<text transform="translate(926.0,238.0) scale(0.86,1)" font-family="Liberation Sans" font-size="6.1" text-anchor="middle" font-weight="normal" fill="#111" stroke="#111" stroke-width="0.28" dominant-baseline="central">2</text>
<text transform="translate(904.0,210.0) scale(0.86,1)" font-family="Liberation Sans" font-size="5.49" text-anchor="middle" font-weight="normal" fill="#111" stroke="#111" stroke-width="0.28" dominant-baseline="central">3</text>
<text transform="translate(904.0,229.5) scale(0.86,1)" font-family="Liberation Sans" font-size="5.49" text-anchor="middle" font-weight="normal" fill="#111" stroke="#111" stroke-width="0.28" dominant-baseline="central">2</text>
<text transform="translate(922.0,198.0) scale(0.86,1)" font-family="Liberation Sans" font-size="5.49" text-anchor="middle" font-weight="normal" fill="#111" stroke="#111" stroke-width="0.28" dominant-baseline="central">1</text>
<text transform="translate(933.0,210.5) scale(0.86,1)" font-family="Liberation Sans" font-size="5.49" text-anchor="middle" font-weight="normal" fill="#111" stroke="#111" stroke-width="0.28" dominant-baseline="central">7</text>
<text transform="translate(910.5,251.5) scale(0.86,1)" font-family="Liberation Sans" font-size="6.71" text-anchor="middle" font-weight="normal" fill="#111" stroke="#111" stroke-width="0.28" dominant-baseline="central">LS139</text>
<polyline points="929.4,238.0 963.4,238.6" fill="none" stroke="#0a0a0a" stroke-width="1.3"/>
<text transform="translate(933.5,234.5) scale(0.86,1)" font-family="Liberation Sans" font-size="5.49" text-anchor="middle" font-weight="normal" fill="#111" stroke="#111" stroke-width="0.28" dominant-baseline="central">6</text>
<text transform="translate(944.5,242.5) scale(0.86,1)" font-family="Liberation Sans" font-size="5.49" text-anchor="middle" font-weight="normal" fill="#111" stroke="#111" stroke-width="0.28" dominant-baseline="central">RD</text>
<rect x="963.6" y="230.8" width="19.6" height="40.2" fill="none" stroke="#0a0a0a" stroke-width="1.3"/>
<text x="973.5" y="251.5" font-family="Liberation Sans" font-size="8" text-anchor="middle" font-weight="normal" fill="#111" stroke="#111" stroke-width="0.28" dominant-baseline="central">3F</text>
<text transform="translate(966.5,238.5) scale(0.86,1)" font-family="Liberation Sans" font-size="5.49" text-anchor="middle" font-weight="normal" fill="#111" stroke="#111" stroke-width="0.28" dominant-baseline="central">D</text>
<text transform="translate(966.5,246.5) scale(0.86,1)" font-family="Liberation Sans" font-size="5.49" text-anchor="middle" font-weight="normal" fill="#111" stroke="#111" stroke-width="0.28" dominant-baseline="central">C</text>
<text transform="translate(966.5,254.5) scale(0.86,1)" font-family="Liberation Sans" font-size="5.49" text-anchor="middle" font-weight="normal" fill="#111" stroke="#111" stroke-width="0.28" dominant-baseline="central">B</text>
<text transform="translate(966.5,262.5) scale(0.86,1)" font-family="Liberation Sans" font-size="5.49" text-anchor="middle" font-weight="normal" fill="#111" stroke="#111" stroke-width="0.28" dominant-baseline="central">A</text>
<text transform="translate(958.5,235.0) scale(0.86,1)" font-family="Liberation Sans" font-size="5.49" text-anchor="middle" font-weight="normal" fill="#111" stroke="#111" stroke-width="0.28" dominant-baseline="central">12</text>
<text transform="translate(958.5,243.5) scale(0.86,1)" font-family="Liberation Sans" font-size="5.49" text-anchor="middle" font-weight="normal" fill="#111" stroke="#111" stroke-width="0.28" dominant-baseline="central">13</text>
<text transform="translate(958.5,251.0) scale(0.86,1)" font-family="Liberation Sans" font-size="5.49" text-anchor="middle" font-weight="normal" fill="#111" stroke="#111" stroke-width="0.28" dominant-baseline="central">14</text>
<text transform="translate(958.5,259.5) scale(0.86,1)" font-family="Liberation Sans" font-size="5.49" text-anchor="middle" font-weight="normal" fill="#111" stroke="#111" stroke-width="0.28" dominant-baseline="central">15</text>
<text transform="translate(980.0,243.2) scale(0.86,1)" font-family="Liberation Sans" font-size="4.88" text-anchor="middle" font-weight="normal" fill="#111" stroke="#111" stroke-width="0.28" dominant-baseline="central">3</text>
<text transform="translate(980.0,251.0) scale(0.86,1)" font-family="Liberation Sans" font-size="4.88" text-anchor="middle" font-weight="normal" fill="#111" stroke="#111" stroke-width="0.28" dominant-baseline="central">2</text>
<text transform="translate(980.0,259.5) scale(0.86,1)" font-family="Liberation Sans" font-size="4.88" text-anchor="middle" font-weight="normal" fill="#111" stroke="#111" stroke-width="0.28" dominant-baseline="central">1</text>
<text transform="translate(980.0,267.4) scale(0.86,1)" font-family="Liberation Sans" font-size="4.88" text-anchor="middle" font-weight="normal" fill="#111" stroke="#111" stroke-width="0.28" dominant-baseline="central">0</text>
<text transform="translate(973.5,276.5) scale(0.86,1)" font-family="Liberation Sans" font-size="6.71" text-anchor="middle" font-weight="normal" fill="#111" stroke="#111" stroke-width="0.28" dominant-baseline="central">LS42</text>
<text transform="translate(978.0,227.0) scale(0.86,1)" font-family="Liberation Sans" font-size="5.49" text-anchor="middle" font-weight="normal" fill="#111" stroke="#111" stroke-width="0.28" dominant-baseline="central">8</text>
<text transform="translate(988.0,239.5) scale(0.86,1)" font-family="Liberation Sans" font-size="5.49" text-anchor="middle" font-weight="normal" fill="#111" stroke="#111" stroke-width="0.28" dominant-baseline="central">4</text>
<text transform="translate(988.0,247.5) scale(0.86,1)" font-family="Liberation Sans" font-size="5.49" text-anchor="middle" font-weight="normal" fill="#111" stroke="#111" stroke-width="0.28" dominant-baseline="central">3</text>
<text transform="translate(988.0,255.5) scale(0.86,1)" font-family="Liberation Sans" font-size="5.49" text-anchor="middle" font-weight="normal" fill="#111" stroke="#111" stroke-width="0.28" dominant-baseline="central">2</text>
<text transform="translate(988.0,263.5) scale(0.86,1)" font-family="Liberation Sans" font-size="5.49" text-anchor="middle" font-weight="normal" fill="#111" stroke="#111" stroke-width="0.28" dominant-baseline="central">1</text>
<polyline points="975.5,230.8 975.5,161.5 1021.0,161.5" fill="none" stroke="#0a0a0a" stroke-width="1.3"/>
<path d="M1026,161.5 L1021,159.25 L1021,163.75 Z" fill="#0a0a0a" stroke="#0a0a0a" stroke-width="0.8"/>
<text transform="translate(1052.5,163.0) scale(0.86,1)" font-family="Liberation Sans" font-size="7.81" text-anchor="middle" font-weight="normal" fill="#111" stroke="#111" stroke-width="0.28" dominant-baseline="central">IC 5D -  SHT 4</text>
<text transform="translate(1039.0,169.5) scale(0.86,1)" font-family="Liberation Sans" font-size="5.37" text-anchor="middle" font-weight="normal" fill="#111" stroke="#111" stroke-width="0.28" dominant-baseline="central">PIN 15</text>
<path d="M975.5,191 Q975.5,187.2 979.5,187.2 L1091.6,187.2" fill="none" stroke="#0a0a0a" stroke-width="1.3"/>
<path d="M1091.6,183.7 Q1102.3249999999998,183.7 1111.1,191.45 Q1102.3249999999998,199.2 1091.6,199.2 Q1097.4499999999998,191.45 1091.6,183.7 Z" fill="white" stroke="#0a0a0a" stroke-width="1.3"/>
<text transform="translate(1099.8,191.4) scale(0.86,1)" font-family="Liberation Sans" font-size="9.15" text-anchor="middle" font-weight="normal" fill="#111" stroke="#111" stroke-width="0.28" dominant-baseline="central">8B</text>
<path d="M1091.6,217.2 Q1102.05,217.2 1110.6,224.7 Q1102.05,232.2 1091.6,232.2 Q1097.3,224.7 1091.6,217.2 Z" fill="white" stroke="#0a0a0a" stroke-width="1.3"/>
<text transform="translate(1099.6,224.7) scale(0.86,1)" font-family="Liberation Sans" font-size="9.15" text-anchor="middle" font-weight="normal" fill="#111" stroke="#111" stroke-width="0.28" dominant-baseline="central">8B</text>
<text transform="translate(1088.0,183.0) scale(0.86,1)" font-family="Liberation Sans" font-size="5.49" text-anchor="middle" font-weight="normal" fill="#111" stroke="#111" stroke-width="0.28" dominant-baseline="central">1</text>
<text transform="translate(1088.0,192.0) scale(0.86,1)" font-family="Liberation Sans" font-size="5.49" text-anchor="middle" font-weight="normal" fill="#111" stroke="#111" stroke-width="0.28" dominant-baseline="central">2</text>
<text transform="translate(1114.0,188.0) scale(0.86,1)" font-family="Liberation Sans" font-size="5.49" text-anchor="middle" font-weight="normal" fill="#111" stroke="#111" stroke-width="0.28" dominant-baseline="central">3</text>
<text transform="translate(1099.0,207.5) scale(0.86,1)" font-family="Liberation Sans" font-size="6.71" text-anchor="middle" font-weight="normal" fill="#111" stroke="#111" stroke-width="0.28" dominant-baseline="central">LS32</text>
<text transform="translate(1086.5,216.5) scale(0.86,1)" font-family="Liberation Sans" font-size="5.49" text-anchor="middle" font-weight="normal" fill="#111" stroke="#111" stroke-width="0.28" dominant-baseline="central">4</text>
<text transform="translate(1086.5,226.0) scale(0.86,1)" font-family="Liberation Sans" font-size="5.49" text-anchor="middle" font-weight="normal" fill="#111" stroke="#111" stroke-width="0.28" dominant-baseline="central">5</text>
<text transform="translate(1113.5,221.0) scale(0.86,1)" font-family="Liberation Sans" font-size="5.49" text-anchor="middle" font-weight="normal" fill="#111" stroke="#111" stroke-width="0.28" dominant-baseline="central">6</text>
<polyline points="1078.7,195.3 1093.0,195.3" fill="none" stroke="#0a0a0a" stroke-width="1.3"/>
<polyline points="1078.7,195.3 1078.7,441.0" fill="none" stroke="#0a0a0a" stroke-width="1.3"/>
<path d="M1078.7,226 Q1078.7,220.7 1083,220.7 L1093,220.7" fill="none" stroke="#0a0a0a" stroke-width="1.3"/>
<text transform="translate(1075.0,279.0) rotate(-90) scale(0.86,1)" font-family="Liberation Sans" font-size="6.1" text-anchor="middle" font-weight="normal" fill="#111" stroke="#111" stroke-width="0.28" dominant-baseline="central">AD12</text>
<polyline points="983.2,242.8 1053.7,242.8 1053.7,228.4 1093.0,228.4" fill="none" stroke="#0a0a0a" stroke-width="1.3"/>
<polyline points="1111.0,191.5 1147.1,191.5 1147.1,203.3 1164.7,203.3" fill="none" stroke="#0a0a0a" stroke-width="1.3"/>
<polyline points="1110.0,224.3 1147.1,224.3 1147.1,211.8 1164.7,211.8" fill="none" stroke="#0a0a0a" stroke-width="1.3"/>
<path d="M1164.7,198.6 L1175.6,198.6 A8.2,8.2 0 0 1 1175.6,215.0 L1164.7,215.0 Z" fill="white" stroke="#0a0a0a" stroke-width="1.3"/>
<circle cx="1185.8" cy="206.8" r="2.0" fill="white" stroke="#0a0a0a" stroke-width="1.1"/>
<text transform="translate(1172.7,206.8) scale(0.86,1)" font-family="Liberation Sans" font-size="9.15" text-anchor="middle" font-weight="normal" fill="#111" stroke="#111" stroke-width="0.28" dominant-baseline="central">8C</text>
<polyline points="1188.0,206.8 1368.0,207.5" fill="none" stroke="#0a0a0a" stroke-width="1.3"/>
<path d="M1373,207.5 L1368,205.25 L1368,209.75 Z" fill="#0a0a0a" stroke="#0a0a0a" stroke-width="0.8"/>
<text transform="translate(1161.0,199.0) scale(0.86,1)" font-family="Liberation Sans" font-size="5.49" text-anchor="middle" font-weight="normal" fill="#111" stroke="#111" stroke-width="0.28" dominant-baseline="central">9</text>
<text transform="translate(1160.0,209.5) scale(0.86,1)" font-family="Liberation Sans" font-size="5.49" text-anchor="middle" font-weight="normal" fill="#111" stroke="#111" stroke-width="0.28" dominant-baseline="central">10</text>
<text transform="translate(1191.5,203.5) scale(0.86,1)" font-family="Liberation Sans" font-size="5.49" text-anchor="middle" font-weight="normal" fill="#111" stroke="#111" stroke-width="0.28" dominant-baseline="central">8</text>
<text transform="translate(1175.0,222.0) scale(0.86,1)" font-family="Liberation Sans" font-size="6.71" text-anchor="middle" font-weight="normal" fill="#111" stroke="#111" stroke-width="0.28" dominant-baseline="central">LS00</text>
<text transform="translate(1388.0,208.0) scale(0.86,1)" font-family="Liberation Sans" font-size="7.32" text-anchor="middle" font-weight="normal" fill="#111" stroke="#111" stroke-width="0.28" dominant-baseline="central">IC7A</text>
<text transform="translate(1388.5,215.5) scale(0.86,1)" font-family="Liberation Sans" font-size="5.12" text-anchor="middle" font-weight="normal" fill="#111" stroke="#111" stroke-width="0.28" dominant-baseline="central">PINS 4,5</text>
<text transform="translate(1422.5,210.0) scale(0.86,1)" font-family="Liberation Sans" font-size="6.71" text-anchor="middle" font-weight="normal" fill="#111" stroke="#111" stroke-width="0.28" dominant-baseline="central">SHT 2</text>
<polyline points="983.2,251.0 1257.1,252.8 1257.1,311.5" fill="none" stroke="#0a0a0a" stroke-width="1.3"/>
<polyline points="983.2,259.3 1134.6,260.6 1134.6,311.5" fill="none" stroke="#0a0a0a" stroke-width="1.3"/>
<polyline points="983.2,267.4 1012.2,267.4 1012.2,310.5" fill="none" stroke="#0a0a0a" stroke-width="1.3"/>
<path d="M955.4,439 L955.4,296 Q955.4,291.6 960,291.6 L965.2,291.6" fill="none" stroke="#0a0a0a" stroke-width="2.2"/>
<path d="M965.2,283.1 L982.2,291.6 L965.2,300.1 Z" fill="white" stroke="#0a0a0a" stroke-width="1.3"/>
<circle cx="984.2" cy="291.6" r="2.0" fill="white" stroke="#0a0a0a" stroke-width="1.1"/>
<text transform="translate(971.7,291.6) scale(0.86,1)" font-family="Liberation Sans" font-size="8.54" text-anchor="middle" font-weight="normal" fill="#111" stroke="#111" stroke-width="0.28" dominant-baseline="central">6B</text>
<text transform="translate(961.0,288.0) scale(0.86,1)" font-family="Liberation Sans" font-size="5.49" text-anchor="middle" font-weight="normal" fill="#111" stroke="#111" stroke-width="0.28" dominant-baseline="central">10</text>
<text transform="translate(988.0,288.0) scale(0.86,1)" font-family="Liberation Sans" font-size="5.49" text-anchor="middle" font-weight="normal" fill="#111" stroke="#111" stroke-width="0.28" dominant-baseline="central">9</text>
<text transform="translate(971.5,306.0) scale(0.86,1)" font-family="Liberation Sans" font-size="6.71" text-anchor="middle" font-weight="normal" fill="#111" stroke="#111" stroke-width="0.28" dominant-baseline="central">LS366</text>
<polyline points="986.5,291.8 1110.0,293.2 1236.5,293.6 1236.5,310.5" fill="none" stroke="#0a0a0a" stroke-width="1.3"/>
<path d="M986.5,291.8 Q991.4,292 991.4,298 L991.4,309" fill="none" stroke="#0a0a0a" stroke-width="1.3"/>
<path d="M1110,293.2 Q1114,293.5 1114,298 L1114,310.5" fill="none" stroke="#0a0a0a" stroke-width="1.3"/>
<text transform="translate(951.5,302.0) rotate(-90) scale(0.86,1)" font-family="Liberation Sans" font-size="6.1" text-anchor="middle" font-weight="normal" fill="#111" stroke="#111" stroke-width="0.28" dominant-baseline="central">AD12</text>
<rect x="983.4" y="312.7" width="41.1" height="121.9" fill="none" stroke="#0a0a0a" stroke-width="1.3"/>
<text x="1003.0" y="350.7" font-family="Liberation Sans" font-size="10" text-anchor="middle" font-weight="normal" fill="#111" stroke="#111" stroke-width="0.28" dominant-baseline="central">2E</text>
<text x="1041.5" y="313.2" font-family="Liberation Sans" font-size="8" text-anchor="middle" font-weight="normal" font-style="italic" fill="#111" stroke="#111" stroke-width="0.28" dominant-baseline="central">2764</text>
<circle cx="991.4" cy="310.9" r="1.7" fill="white" stroke="#0a0a0a" stroke-width="1.1"/>
<circle cx="1012.5" cy="310.9" r="1.7" fill="white" stroke="#0a0a0a" stroke-width="1.1"/>
<text transform="translate(997.4,306.7) scale(0.86,1)" font-family="Liberation Sans" font-size="6.1" text-anchor="middle" font-weight="normal" fill="#111" stroke="#111" stroke-width="0.28" dominant-baseline="central">22</text>
<text transform="translate(1018.5,306.7) scale(0.86,1)" font-family="Liberation Sans" font-size="6.1" text-anchor="middle" font-weight="normal" fill="#111" stroke="#111" stroke-width="0.28" dominant-baseline="central">20</text>
<text transform="translate(1013.5,317.7) scale(0.86,1)" font-family="Liberation Sans" font-size="5.12" text-anchor="middle" font-weight="normal" fill="#111" stroke="#111" stroke-width="0.28" dominant-baseline="central">CE</text>
<path d="M955.4,324.5 Q955.4,317.5 959.4,317.5 L983.4,317.5" fill="none" stroke="#0a0a0a" stroke-width="1.3"/>
<text transform="translate(977.4,314.5) scale(0.86,1)" font-family="Liberation Sans" font-size="6.71" text-anchor="middle" font-weight="normal" fill="#111" stroke="#111" stroke-width="0.28" dominant-baseline="central">2</text>
<text transform="translate(988.4,318.0) scale(0.86,1)" font-family="Liberation Sans" font-size="5.49" text-anchor="middle" font-weight="normal" fill="#111" stroke="#111" stroke-width="0.28" dominant-baseline="central">A12</text>
<text transform="translate(963.4,314.5) scale(0.86,1)" font-family="Liberation Sans" font-size="5.86" text-anchor="middle" font-weight="normal" fill="#111" stroke="#111" stroke-width="0.28" dominant-baseline="central">AD12</text>
<path d="M955.4,332.83 Q955.4,325.83 959.4,325.83 L983.4,325.83" fill="none" stroke="#0a0a0a" stroke-width="1.3"/>
<text transform="translate(977.4,322.8) scale(0.86,1)" font-family="Liberation Sans" font-size="6.71" text-anchor="middle" font-weight="normal" fill="#111" stroke="#111" stroke-width="0.28" dominant-baseline="central">23</text>
<text transform="translate(988.4,326.3) scale(0.86,1)" font-family="Liberation Sans" font-size="5.49" text-anchor="middle" font-weight="normal" fill="#111" stroke="#111" stroke-width="0.28" dominant-baseline="central">A11</text>
<text transform="translate(963.4,322.8) scale(0.86,1)" font-family="Liberation Sans" font-size="5.86" text-anchor="middle" font-weight="normal" fill="#111" stroke="#111" stroke-width="0.28" dominant-baseline="central">AD11</text>
<path d="M955.4,341.16 Q955.4,334.16 959.4,334.16 L983.4,334.16" fill="none" stroke="#0a0a0a" stroke-width="1.3"/>
<text transform="translate(977.4,331.2) scale(0.86,1)" font-family="Liberation Sans" font-size="6.71" text-anchor="middle" font-weight="normal" fill="#111" stroke="#111" stroke-width="0.28" dominant-baseline="central">21</text>
<text transform="translate(988.4,334.7) scale(0.86,1)" font-family="Liberation Sans" font-size="5.49" text-anchor="middle" font-weight="normal" fill="#111" stroke="#111" stroke-width="0.28" dominant-baseline="central">A10</text>
<text transform="translate(963.4,331.2) scale(0.86,1)" font-family="Liberation Sans" font-size="5.86" text-anchor="middle" font-weight="normal" fill="#111" stroke="#111" stroke-width="0.28" dominant-baseline="central">AD1Ø</text>
<path d="M955.4,349.49 Q955.4,342.49 959.4,342.49 L983.4,342.49" fill="none" stroke="#0a0a0a" stroke-width="1.3"/>
<text transform="translate(977.4,339.5) scale(0.86,1)" font-family="Liberation Sans" font-size="6.71" text-anchor="middle" font-weight="normal" fill="#111" stroke="#111" stroke-width="0.28" dominant-baseline="central">24</text>
<text transform="translate(988.4,343.0) scale(0.86,1)" font-family="Liberation Sans" font-size="5.49" text-anchor="middle" font-weight="normal" fill="#111" stroke="#111" stroke-width="0.28" dominant-baseline="central">A9</text>
<text transform="translate(963.4,339.5) scale(0.86,1)" font-family="Liberation Sans" font-size="5.86" text-anchor="middle" font-weight="normal" fill="#111" stroke="#111" stroke-width="0.28" dominant-baseline="central">AD9</text>
<path d="M955.4,357.82 Q955.4,350.82 959.4,350.82 L983.4,350.82" fill="none" stroke="#0a0a0a" stroke-width="1.3"/>
<text transform="translate(977.4,347.8) scale(0.86,1)" font-family="Liberation Sans" font-size="6.71" text-anchor="middle" font-weight="normal" fill="#111" stroke="#111" stroke-width="0.28" dominant-baseline="central">25</text>
<text transform="translate(988.4,351.3) scale(0.86,1)" font-family="Liberation Sans" font-size="5.49" text-anchor="middle" font-weight="normal" fill="#111" stroke="#111" stroke-width="0.28" dominant-baseline="central">A8</text>
<text transform="translate(963.4,347.8) scale(0.86,1)" font-family="Liberation Sans" font-size="5.86" text-anchor="middle" font-weight="normal" fill="#111" stroke="#111" stroke-width="0.28" dominant-baseline="central">AD8</text>
<path d="M955.4,366.15 Q955.4,359.15 959.4,359.15 L983.4,359.15" fill="none" stroke="#0a0a0a" stroke-width="1.3"/>
<text transform="translate(977.4,356.1) scale(0.86,1)" font-family="Liberation Sans" font-size="6.71" text-anchor="middle" font-weight="normal" fill="#111" stroke="#111" stroke-width="0.28" dominant-baseline="central">3</text>
<text transform="translate(988.4,359.6) scale(0.86,1)" font-family="Liberation Sans" font-size="5.49" text-anchor="middle" font-weight="normal" fill="#111" stroke="#111" stroke-width="0.28" dominant-baseline="central">A7</text>
<text transform="translate(963.4,356.1) scale(0.86,1)" font-family="Liberation Sans" font-size="5.86" text-anchor="middle" font-weight="normal" fill="#111" stroke="#111" stroke-width="0.28" dominant-baseline="central">AD7</text>
<path d="M955.4,374.48 Q955.4,367.48 959.4,367.48 L983.4,367.48" fill="none" stroke="#0a0a0a" stroke-width="1.3"/>
<text transform="translate(977.4,364.5) scale(0.86,1)" font-family="Liberation Sans" font-size="6.71" text-anchor="middle" font-weight="normal" fill="#111" stroke="#111" stroke-width="0.28" dominant-baseline="central">4</text>
<text transform="translate(988.4,368.0) scale(0.86,1)" font-family="Liberation Sans" font-size="5.49" text-anchor="middle" font-weight="normal" fill="#111" stroke="#111" stroke-width="0.28" dominant-baseline="central">A6</text>
<text transform="translate(963.4,364.5) scale(0.86,1)" font-family="Liberation Sans" font-size="5.86" text-anchor="middle" font-weight="normal" fill="#111" stroke="#111" stroke-width="0.28" dominant-baseline="central">AD6</text>
<path d="M955.4,382.81 Q955.4,375.81 959.4,375.81 L983.4,375.81" fill="none" stroke="#0a0a0a" stroke-width="1.3"/>
<text transform="translate(977.4,372.8) scale(0.86,1)" font-family="Liberation Sans" font-size="6.71" text-anchor="middle" font-weight="normal" fill="#111" stroke="#111" stroke-width="0.28" dominant-baseline="central">5</text>
<text transform="translate(988.4,376.3) scale(0.86,1)" font-family="Liberation Sans" font-size="5.49" text-anchor="middle" font-weight="normal" fill="#111" stroke="#111" stroke-width="0.28" dominant-baseline="central">A5</text>
<text transform="translate(963.4,372.8) scale(0.86,1)" font-family="Liberation Sans" font-size="5.86" text-anchor="middle" font-weight="normal" fill="#111" stroke="#111" stroke-width="0.28" dominant-baseline="central">AD5</text>
<path d="M955.4,391.14 Q955.4,384.14 959.4,384.14 L983.4,384.14" fill="none" stroke="#0a0a0a" stroke-width="1.3"/>
<text transform="translate(977.4,381.1) scale(0.86,1)" font-family="Liberation Sans" font-size="6.71" text-anchor="middle" font-weight="normal" fill="#111" stroke="#111" stroke-width="0.28" dominant-baseline="central">6</text>
<text transform="translate(988.4,384.6) scale(0.86,1)" font-family="Liberation Sans" font-size="5.49" text-anchor="middle" font-weight="normal" fill="#111" stroke="#111" stroke-width="0.28" dominant-baseline="central">A4</text>
<text transform="translate(963.4,381.1) scale(0.86,1)" font-family="Liberation Sans" font-size="5.86" text-anchor="middle" font-weight="normal" fill="#111" stroke="#111" stroke-width="0.28" dominant-baseline="central">AD4</text>
<path d="M955.4,399.47 Q955.4,392.47 959.4,392.47 L983.4,392.47" fill="none" stroke="#0a0a0a" stroke-width="1.3"/>
<text transform="translate(977.4,389.5) scale(0.86,1)" font-family="Liberation Sans" font-size="6.71" text-anchor="middle" font-weight="normal" fill="#111" stroke="#111" stroke-width="0.28" dominant-baseline="central">7</text>
<text transform="translate(988.4,393.0) scale(0.86,1)" font-family="Liberation Sans" font-size="5.49" text-anchor="middle" font-weight="normal" fill="#111" stroke="#111" stroke-width="0.28" dominant-baseline="central">A3</text>
<text transform="translate(963.4,389.5) scale(0.86,1)" font-family="Liberation Sans" font-size="5.86" text-anchor="middle" font-weight="normal" fill="#111" stroke="#111" stroke-width="0.28" dominant-baseline="central">AD3</text>
<path d="M955.4,407.8 Q955.4,400.8 959.4,400.8 L983.4,400.8" fill="none" stroke="#0a0a0a" stroke-width="1.3"/>
<text transform="translate(977.4,397.8) scale(0.86,1)" font-family="Liberation Sans" font-size="6.71" text-anchor="middle" font-weight="normal" fill="#111" stroke="#111" stroke-width="0.28" dominant-baseline="central">8</text>
<text transform="translate(988.4,401.3) scale(0.86,1)" font-family="Liberation Sans" font-size="5.49" text-anchor="middle" font-weight="normal" fill="#111" stroke="#111" stroke-width="0.28" dominant-baseline="central">A2</text>
<text transform="translate(963.4,397.8) scale(0.86,1)" font-family="Liberation Sans" font-size="5.86" text-anchor="middle" font-weight="normal" fill="#111" stroke="#111" stroke-width="0.28" dominant-baseline="central">AD2</text>
<path d="M955.4,416.13 Q955.4,409.13 959.4,409.13 L983.4,409.13" fill="none" stroke="#0a0a0a" stroke-width="1.3"/>
<text transform="translate(977.4,406.1) scale(0.86,1)" font-family="Liberation Sans" font-size="6.71" text-anchor="middle" font-weight="normal" fill="#111" stroke="#111" stroke-width="0.28" dominant-baseline="central">9</text>
<text transform="translate(988.4,409.6) scale(0.86,1)" font-family="Liberation Sans" font-size="5.49" text-anchor="middle" font-weight="normal" fill="#111" stroke="#111" stroke-width="0.28" dominant-baseline="central">A1</text>
<text transform="translate(963.4,406.1) scale(0.86,1)" font-family="Liberation Sans" font-size="5.86" text-anchor="middle" font-weight="normal" fill="#111" stroke="#111" stroke-width="0.28" dominant-baseline="central">AD1</text>
<path d="M955.4,424.46000000000004 Q955.4,417.46000000000004 959.4,417.46000000000004 L983.4,417.46000000000004" fill="none" stroke="#0a0a0a" stroke-width="1.3"/>
<text transform="translate(977.4,414.5) scale(0.86,1)" font-family="Liberation Sans" font-size="6.71" text-anchor="middle" font-weight="normal" fill="#111" stroke="#111" stroke-width="0.28" dominant-baseline="central">10</text>
<text transform="translate(988.4,418.0) scale(0.86,1)" font-family="Liberation Sans" font-size="5.49" text-anchor="middle" font-weight="normal" fill="#111" stroke="#111" stroke-width="0.28" dominant-baseline="central">AØ</text>
<text transform="translate(963.4,414.5) scale(0.86,1)" font-family="Liberation Sans" font-size="5.86" text-anchor="middle" font-weight="normal" fill="#111" stroke="#111" stroke-width="0.28" dominant-baseline="central">ADØ</text>
<path d="M955.4,316.7 L955.4,437 Q955.4,441.2 959.4,441.2" fill="none" stroke="#0a0a0a" stroke-width="2.2"/>
<path d="M1024.5,366.9 L1043.9,366.9 Q1047.9,366.9 1047.9,371.9" fill="none" stroke="#0a0a0a" stroke-width="1.3"/>
<text transform="translate(1018.5,366.9) scale(0.86,1)" font-family="Liberation Sans" font-size="6.71" text-anchor="middle" font-weight="normal" fill="#111" stroke="#111" stroke-width="0.28" dominant-baseline="central">D7</text>
<text transform="translate(1028.5,363.9) scale(0.86,1)" font-family="Liberation Sans" font-size="5.49" text-anchor="middle" font-weight="normal" fill="#111" stroke="#111" stroke-width="0.28" dominant-baseline="central">19</text>
<path d="M1024.5,375.04999999999995 L1043.9,375.04999999999995 Q1047.9,375.04999999999995 1047.9,380.04999999999995" fill="none" stroke="#0a0a0a" stroke-width="1.3"/>
<text transform="translate(1018.5,375.0) scale(0.86,1)" font-family="Liberation Sans" font-size="6.71" text-anchor="middle" font-weight="normal" fill="#111" stroke="#111" stroke-width="0.28" dominant-baseline="central">D6</text>
<text transform="translate(1028.5,372.0) scale(0.86,1)" font-family="Liberation Sans" font-size="5.49" text-anchor="middle" font-weight="normal" fill="#111" stroke="#111" stroke-width="0.28" dominant-baseline="central">17</text>
<path d="M1024.5,383.2 L1043.9,383.2 Q1047.9,383.2 1047.9,388.2" fill="none" stroke="#0a0a0a" stroke-width="1.3"/>
<text transform="translate(1018.5,383.2) scale(0.86,1)" font-family="Liberation Sans" font-size="6.71" text-anchor="middle" font-weight="normal" fill="#111" stroke="#111" stroke-width="0.28" dominant-baseline="central">D5</text>
<text transform="translate(1028.5,380.2) scale(0.86,1)" font-family="Liberation Sans" font-size="5.49" text-anchor="middle" font-weight="normal" fill="#111" stroke="#111" stroke-width="0.28" dominant-baseline="central">16</text>
<path d="M1024.5,391.34999999999997 L1043.9,391.34999999999997 Q1047.9,391.34999999999997 1047.9,396.34999999999997" fill="none" stroke="#0a0a0a" stroke-width="1.3"/>
<text transform="translate(1018.5,391.3) scale(0.86,1)" font-family="Liberation Sans" font-size="6.71" text-anchor="middle" font-weight="normal" fill="#111" stroke="#111" stroke-width="0.28" dominant-baseline="central">D4</text>
<text transform="translate(1028.5,388.3) scale(0.86,1)" font-family="Liberation Sans" font-size="5.49" text-anchor="middle" font-weight="normal" fill="#111" stroke="#111" stroke-width="0.28" dominant-baseline="central">15</text>
<path d="M1024.5,399.5 L1043.9,399.5 Q1047.9,399.5 1047.9,404.5" fill="none" stroke="#0a0a0a" stroke-width="1.3"/>
<text transform="translate(1018.5,399.5) scale(0.86,1)" font-family="Liberation Sans" font-size="6.71" text-anchor="middle" font-weight="normal" fill="#111" stroke="#111" stroke-width="0.28" dominant-baseline="central">D3</text>
<text transform="translate(1028.5,396.5) scale(0.86,1)" font-family="Liberation Sans" font-size="5.49" text-anchor="middle" font-weight="normal" fill="#111" stroke="#111" stroke-width="0.28" dominant-baseline="central">14</text>
<path d="M1024.5,407.65 L1043.9,407.65 Q1047.9,407.65 1047.9,412.65" fill="none" stroke="#0a0a0a" stroke-width="1.3"/>
<text transform="translate(1018.5,407.6) scale(0.86,1)" font-family="Liberation Sans" font-size="6.71" text-anchor="middle" font-weight="normal" fill="#111" stroke="#111" stroke-width="0.28" dominant-baseline="central">D2</text>
<text transform="translate(1028.5,404.6) scale(0.86,1)" font-family="Liberation Sans" font-size="5.49" text-anchor="middle" font-weight="normal" fill="#111" stroke="#111" stroke-width="0.28" dominant-baseline="central">13</text>
<path d="M1024.5,415.79999999999995 L1043.9,415.79999999999995 Q1047.9,415.79999999999995 1047.9,420.79999999999995" fill="none" stroke="#0a0a0a" stroke-width="1.3"/>
<text transform="translate(1018.5,415.8) scale(0.86,1)" font-family="Liberation Sans" font-size="6.71" text-anchor="middle" font-weight="normal" fill="#111" stroke="#111" stroke-width="0.28" dominant-baseline="central">D1</text>
<text transform="translate(1028.5,412.8) scale(0.86,1)" font-family="Liberation Sans" font-size="5.49" text-anchor="middle" font-weight="normal" fill="#111" stroke="#111" stroke-width="0.28" dominant-baseline="central">12</text>
<path d="M1024.5,423.95 L1043.9,423.95 Q1047.9,423.95 1047.9,428.95" fill="none" stroke="#0a0a0a" stroke-width="1.3"/>
<text transform="translate(1018.5,423.9) scale(0.86,1)" font-family="Liberation Sans" font-size="6.71" text-anchor="middle" font-weight="normal" fill="#111" stroke="#111" stroke-width="0.28" dominant-baseline="central">DØ</text>
<text transform="translate(1028.5,420.9) scale(0.86,1)" font-family="Liberation Sans" font-size="5.49" text-anchor="middle" font-weight="normal" fill="#111" stroke="#111" stroke-width="0.28" dominant-baseline="central">11</text>
<text transform="translate(1041.5,363.7) scale(0.86,1)" font-family="Liberation Sans" font-size="6.1" text-anchor="middle" font-weight="normal" fill="#111" stroke="#111" stroke-width="0.28" dominant-baseline="central">DØ7</text>
<text transform="translate(1041.5,420.7) scale(0.86,1)" font-family="Liberation Sans" font-size="6.1" text-anchor="middle" font-weight="normal" fill="#111" stroke="#111" stroke-width="0.28" dominant-baseline="central">DØØ</text>
<path d="M1047.9,367.7 L1047.9,446 Q1047.9,450.3 1043.9,450.3" fill="none" stroke="#0a0a0a" stroke-width="2.2"/>
<rect x="1105.8" y="314.2" width="40.6" height="120.6" fill="none" stroke="#0a0a0a" stroke-width="1.3"/>
<text x="1125.1" y="352.2" font-family="Liberation Sans" font-size="10" text-anchor="middle" font-weight="normal" fill="#111" stroke="#111" stroke-width="0.28" dominant-baseline="central">2G</text>
<text x="1163.4" y="314.7" font-family="Liberation Sans" font-size="8" text-anchor="middle" font-weight="normal" font-style="italic" fill="#111" stroke="#111" stroke-width="0.28" dominant-baseline="central">2764</text>
<circle cx="1114.0" cy="312.4" r="1.7" fill="white" stroke="#0a0a0a" stroke-width="1.1"/>
<circle cx="1134.6" cy="312.4" r="1.7" fill="white" stroke="#0a0a0a" stroke-width="1.1"/>
<text transform="translate(1120.0,308.2) scale(0.86,1)" font-family="Liberation Sans" font-size="6.1" text-anchor="middle" font-weight="normal" fill="#111" stroke="#111" stroke-width="0.28" dominant-baseline="central">22</text>
<text transform="translate(1140.6,308.2) scale(0.86,1)" font-family="Liberation Sans" font-size="6.1" text-anchor="middle" font-weight="normal" fill="#111" stroke="#111" stroke-width="0.28" dominant-baseline="central">20</text>
<text transform="translate(1135.6,319.2) scale(0.86,1)" font-family="Liberation Sans" font-size="5.12" text-anchor="middle" font-weight="normal" fill="#111" stroke="#111" stroke-width="0.28" dominant-baseline="central">CE</text>
<path d="M1078.2,326.0 Q1078.2,319.0 1082.2,319.0 L1105.8,319.0" fill="none" stroke="#0a0a0a" stroke-width="1.3"/>
<text transform="translate(1099.8,316.0) scale(0.86,1)" font-family="Liberation Sans" font-size="6.71" text-anchor="middle" font-weight="normal" fill="#111" stroke="#111" stroke-width="0.28" dominant-baseline="central">2</text>
<text transform="translate(1110.8,319.5) scale(0.86,1)" font-family="Liberation Sans" font-size="5.49" text-anchor="middle" font-weight="normal" fill="#111" stroke="#111" stroke-width="0.28" dominant-baseline="central">A12</text>
<text transform="translate(1085.8,316.0) scale(0.86,1)" font-family="Liberation Sans" font-size="5.86" text-anchor="middle" font-weight="normal" fill="#111" stroke="#111" stroke-width="0.28" dominant-baseline="central">AD12</text>
<path d="M1078.2,334.33 Q1078.2,327.33 1082.2,327.33 L1105.8,327.33" fill="none" stroke="#0a0a0a" stroke-width="1.3"/>
<text transform="translate(1099.8,324.3) scale(0.86,1)" font-family="Liberation Sans" font-size="6.71" text-anchor="middle" font-weight="normal" fill="#111" stroke="#111" stroke-width="0.28" dominant-baseline="central">23</text>
<text transform="translate(1110.8,327.8) scale(0.86,1)" font-family="Liberation Sans" font-size="5.49" text-anchor="middle" font-weight="normal" fill="#111" stroke="#111" stroke-width="0.28" dominant-baseline="central">A11</text>
<path d="M1078.2,342.66 Q1078.2,335.66 1082.2,335.66 L1105.8,335.66" fill="none" stroke="#0a0a0a" stroke-width="1.3"/>
<text transform="translate(1099.8,332.7) scale(0.86,1)" font-family="Liberation Sans" font-size="6.71" text-anchor="middle" font-weight="normal" fill="#111" stroke="#111" stroke-width="0.28" dominant-baseline="central">21</text>
<text transform="translate(1110.8,336.2) scale(0.86,1)" font-family="Liberation Sans" font-size="5.49" text-anchor="middle" font-weight="normal" fill="#111" stroke="#111" stroke-width="0.28" dominant-baseline="central">A10</text>
<path d="M1078.2,350.99 Q1078.2,343.99 1082.2,343.99 L1105.8,343.99" fill="none" stroke="#0a0a0a" stroke-width="1.3"/>
<text transform="translate(1099.8,341.0) scale(0.86,1)" font-family="Liberation Sans" font-size="6.71" text-anchor="middle" font-weight="normal" fill="#111" stroke="#111" stroke-width="0.28" dominant-baseline="central">24</text>
<text transform="translate(1110.8,344.5) scale(0.86,1)" font-family="Liberation Sans" font-size="5.49" text-anchor="middle" font-weight="normal" fill="#111" stroke="#111" stroke-width="0.28" dominant-baseline="central">A9</text>
<path d="M1078.2,359.32 Q1078.2,352.32 1082.2,352.32 L1105.8,352.32" fill="none" stroke="#0a0a0a" stroke-width="1.3"/>
<text transform="translate(1099.8,349.3) scale(0.86,1)" font-family="Liberation Sans" font-size="6.71" text-anchor="middle" font-weight="normal" fill="#111" stroke="#111" stroke-width="0.28" dominant-baseline="central">25</text>
<text transform="translate(1110.8,352.8) scale(0.86,1)" font-family="Liberation Sans" font-size="5.49" text-anchor="middle" font-weight="normal" fill="#111" stroke="#111" stroke-width="0.28" dominant-baseline="central">A8</text>
<path d="M1078.2,367.65 Q1078.2,360.65 1082.2,360.65 L1105.8,360.65" fill="none" stroke="#0a0a0a" stroke-width="1.3"/>
<text transform="translate(1099.8,357.6) scale(0.86,1)" font-family="Liberation Sans" font-size="6.71" text-anchor="middle" font-weight="normal" fill="#111" stroke="#111" stroke-width="0.28" dominant-baseline="central">3</text>
<text transform="translate(1110.8,361.1) scale(0.86,1)" font-family="Liberation Sans" font-size="5.49" text-anchor="middle" font-weight="normal" fill="#111" stroke="#111" stroke-width="0.28" dominant-baseline="central">A7</text>
<path d="M1078.2,375.98 Q1078.2,368.98 1082.2,368.98 L1105.8,368.98" fill="none" stroke="#0a0a0a" stroke-width="1.3"/>
<text transform="translate(1099.8,366.0) scale(0.86,1)" font-family="Liberation Sans" font-size="6.71" text-anchor="middle" font-weight="normal" fill="#111" stroke="#111" stroke-width="0.28" dominant-baseline="central">4</text>
<text transform="translate(1110.8,369.5) scale(0.86,1)" font-family="Liberation Sans" font-size="5.49" text-anchor="middle" font-weight="normal" fill="#111" stroke="#111" stroke-width="0.28" dominant-baseline="central">A6</text>
<path d="M1078.2,384.31 Q1078.2,377.31 1082.2,377.31 L1105.8,377.31" fill="none" stroke="#0a0a0a" stroke-width="1.3"/>
<text transform="translate(1099.8,374.3) scale(0.86,1)" font-family="Liberation Sans" font-size="6.71" text-anchor="middle" font-weight="normal" fill="#111" stroke="#111" stroke-width="0.28" dominant-baseline="central">5</text>
<text transform="translate(1110.8,377.8) scale(0.86,1)" font-family="Liberation Sans" font-size="5.49" text-anchor="middle" font-weight="normal" fill="#111" stroke="#111" stroke-width="0.28" dominant-baseline="central">A5</text>
<path d="M1078.2,392.64 Q1078.2,385.64 1082.2,385.64 L1105.8,385.64" fill="none" stroke="#0a0a0a" stroke-width="1.3"/>
<text transform="translate(1099.8,382.6) scale(0.86,1)" font-family="Liberation Sans" font-size="6.71" text-anchor="middle" font-weight="normal" fill="#111" stroke="#111" stroke-width="0.28" dominant-baseline="central">6</text>
<text transform="translate(1110.8,386.1) scale(0.86,1)" font-family="Liberation Sans" font-size="5.49" text-anchor="middle" font-weight="normal" fill="#111" stroke="#111" stroke-width="0.28" dominant-baseline="central">A4</text>
<path d="M1078.2,400.97 Q1078.2,393.97 1082.2,393.97 L1105.8,393.97" fill="none" stroke="#0a0a0a" stroke-width="1.3"/>
<text transform="translate(1099.8,391.0) scale(0.86,1)" font-family="Liberation Sans" font-size="6.71" text-anchor="middle" font-weight="normal" fill="#111" stroke="#111" stroke-width="0.28" dominant-baseline="central">7</text>
<text transform="translate(1110.8,394.5) scale(0.86,1)" font-family="Liberation Sans" font-size="5.49" text-anchor="middle" font-weight="normal" fill="#111" stroke="#111" stroke-width="0.28" dominant-baseline="central">A3</text>
<path d="M1078.2,409.3 Q1078.2,402.3 1082.2,402.3 L1105.8,402.3" fill="none" stroke="#0a0a0a" stroke-width="1.3"/>
<text transform="translate(1099.8,399.3) scale(0.86,1)" font-family="Liberation Sans" font-size="6.71" text-anchor="middle" font-weight="normal" fill="#111" stroke="#111" stroke-width="0.28" dominant-baseline="central">8</text>
<text transform="translate(1110.8,402.8) scale(0.86,1)" font-family="Liberation Sans" font-size="5.49" text-anchor="middle" font-weight="normal" fill="#111" stroke="#111" stroke-width="0.28" dominant-baseline="central">A2</text>
<path d="M1078.2,417.63 Q1078.2,410.63 1082.2,410.63 L1105.8,410.63" fill="none" stroke="#0a0a0a" stroke-width="1.3"/>
<text transform="translate(1099.8,407.6) scale(0.86,1)" font-family="Liberation Sans" font-size="6.71" text-anchor="middle" font-weight="normal" fill="#111" stroke="#111" stroke-width="0.28" dominant-baseline="central">9</text>
<text transform="translate(1110.8,411.1) scale(0.86,1)" font-family="Liberation Sans" font-size="5.49" text-anchor="middle" font-weight="normal" fill="#111" stroke="#111" stroke-width="0.28" dominant-baseline="central">A1</text>
<path d="M1078.2,425.96000000000004 Q1078.2,418.96000000000004 1082.2,418.96000000000004 L1105.8,418.96000000000004" fill="none" stroke="#0a0a0a" stroke-width="1.3"/>
<text transform="translate(1099.8,416.0) scale(0.86,1)" font-family="Liberation Sans" font-size="6.71" text-anchor="middle" font-weight="normal" fill="#111" stroke="#111" stroke-width="0.28" dominant-baseline="central">10</text>
<text transform="translate(1110.8,419.5) scale(0.86,1)" font-family="Liberation Sans" font-size="5.49" text-anchor="middle" font-weight="normal" fill="#111" stroke="#111" stroke-width="0.28" dominant-baseline="central">AØ</text>
<text transform="translate(1085.8,416.0) scale(0.86,1)" font-family="Liberation Sans" font-size="5.86" text-anchor="middle" font-weight="normal" fill="#111" stroke="#111" stroke-width="0.28" dominant-baseline="central">ADØ</text>
<path d="M1078.2,318.2 L1078.2,437 Q1078.2,441.2 1082.2,441.2" fill="none" stroke="#0a0a0a" stroke-width="2.2"/>
<path d="M1146.4,368.4 L1167.1,368.4 Q1171.1,368.4 1171.1,373.4" fill="none" stroke="#0a0a0a" stroke-width="1.3"/>
<text transform="translate(1140.4,368.4) scale(0.86,1)" font-family="Liberation Sans" font-size="6.71" text-anchor="middle" font-weight="normal" fill="#111" stroke="#111" stroke-width="0.28" dominant-baseline="central">D7</text>
<text transform="translate(1150.4,365.4) scale(0.86,1)" font-family="Liberation Sans" font-size="5.49" text-anchor="middle" font-weight="normal" fill="#111" stroke="#111" stroke-width="0.28" dominant-baseline="central">19</text>
<path d="M1146.4,376.54999999999995 L1167.1,376.54999999999995 Q1171.1,376.54999999999995 1171.1,381.54999999999995" fill="none" stroke="#0a0a0a" stroke-width="1.3"/>
<text transform="translate(1140.4,376.5) scale(0.86,1)" font-family="Liberation Sans" font-size="6.71" text-anchor="middle" font-weight="normal" fill="#111" stroke="#111" stroke-width="0.28" dominant-baseline="central">D6</text>
<text transform="translate(1150.4,373.5) scale(0.86,1)" font-family="Liberation Sans" font-size="5.49" text-anchor="middle" font-weight="normal" fill="#111" stroke="#111" stroke-width="0.28" dominant-baseline="central">17</text>
<path d="M1146.4,384.7 L1167.1,384.7 Q1171.1,384.7 1171.1,389.7" fill="none" stroke="#0a0a0a" stroke-width="1.3"/>
<text transform="translate(1140.4,384.7) scale(0.86,1)" font-family="Liberation Sans" font-size="6.71" text-anchor="middle" font-weight="normal" fill="#111" stroke="#111" stroke-width="0.28" dominant-baseline="central">D5</text>
<text transform="translate(1150.4,381.7) scale(0.86,1)" font-family="Liberation Sans" font-size="5.49" text-anchor="middle" font-weight="normal" fill="#111" stroke="#111" stroke-width="0.28" dominant-baseline="central">16</text>
<path d="M1146.4,392.84999999999997 L1167.1,392.84999999999997 Q1171.1,392.84999999999997 1171.1,397.84999999999997" fill="none" stroke="#0a0a0a" stroke-width="1.3"/>
<text transform="translate(1140.4,392.8) scale(0.86,1)" font-family="Liberation Sans" font-size="6.71" text-anchor="middle" font-weight="normal" fill="#111" stroke="#111" stroke-width="0.28" dominant-baseline="central">D4</text>
<text transform="translate(1150.4,389.8) scale(0.86,1)" font-family="Liberation Sans" font-size="5.49" text-anchor="middle" font-weight="normal" fill="#111" stroke="#111" stroke-width="0.28" dominant-baseline="central">15</text>
<path d="M1146.4,401.0 L1167.1,401.0 Q1171.1,401.0 1171.1,406.0" fill="none" stroke="#0a0a0a" stroke-width="1.3"/>
<text transform="translate(1140.4,401.0) scale(0.86,1)" font-family="Liberation Sans" font-size="6.71" text-anchor="middle" font-weight="normal" fill="#111" stroke="#111" stroke-width="0.28" dominant-baseline="central">D3</text>
<text transform="translate(1150.4,398.0) scale(0.86,1)" font-family="Liberation Sans" font-size="5.49" text-anchor="middle" font-weight="normal" fill="#111" stroke="#111" stroke-width="0.28" dominant-baseline="central">14</text>
<path d="M1146.4,409.15 L1167.1,409.15 Q1171.1,409.15 1171.1,414.15" fill="none" stroke="#0a0a0a" stroke-width="1.3"/>
<text transform="translate(1140.4,409.1) scale(0.86,1)" font-family="Liberation Sans" font-size="6.71" text-anchor="middle" font-weight="normal" fill="#111" stroke="#111" stroke-width="0.28" dominant-baseline="central">D2</text>
<text transform="translate(1150.4,406.1) scale(0.86,1)" font-family="Liberation Sans" font-size="5.49" text-anchor="middle" font-weight="normal" fill="#111" stroke="#111" stroke-width="0.28" dominant-baseline="central">13</text>
<path d="M1146.4,417.29999999999995 L1167.1,417.29999999999995 Q1171.1,417.29999999999995 1171.1,422.29999999999995" fill="none" stroke="#0a0a0a" stroke-width="1.3"/>
<text transform="translate(1140.4,417.3) scale(0.86,1)" font-family="Liberation Sans" font-size="6.71" text-anchor="middle" font-weight="normal" fill="#111" stroke="#111" stroke-width="0.28" dominant-baseline="central">D1</text>
<text transform="translate(1150.4,414.3) scale(0.86,1)" font-family="Liberation Sans" font-size="5.49" text-anchor="middle" font-weight="normal" fill="#111" stroke="#111" stroke-width="0.28" dominant-baseline="central">12</text>
<path d="M1146.4,425.45 L1167.1,425.45 Q1171.1,425.45 1171.1,430.45" fill="none" stroke="#0a0a0a" stroke-width="1.3"/>
<text transform="translate(1140.4,425.4) scale(0.86,1)" font-family="Liberation Sans" font-size="6.71" text-anchor="middle" font-weight="normal" fill="#111" stroke="#111" stroke-width="0.28" dominant-baseline="central">DØ</text>
<text transform="translate(1150.4,422.4) scale(0.86,1)" font-family="Liberation Sans" font-size="5.49" text-anchor="middle" font-weight="normal" fill="#111" stroke="#111" stroke-width="0.28" dominant-baseline="central">11</text>
<text transform="translate(1163.4,365.2) scale(0.86,1)" font-family="Liberation Sans" font-size="6.1" text-anchor="middle" font-weight="normal" fill="#111" stroke="#111" stroke-width="0.28" dominant-baseline="central">DØ7</text>
<text transform="translate(1163.4,422.2) scale(0.86,1)" font-family="Liberation Sans" font-size="6.1" text-anchor="middle" font-weight="normal" fill="#111" stroke="#111" stroke-width="0.28" dominant-baseline="central">DØØ</text>
<path d="M1171.1,369.2 L1171.1,446 Q1171.1,450.3 1167.1,450.3" fill="none" stroke="#0a0a0a" stroke-width="2.2"/>
<rect x="1228.2" y="313.8" width="40.8" height="121.7" fill="none" stroke="#0a0a0a" stroke-width="1.3"/>
<text x="1247.6" y="351.8" font-family="Liberation Sans" font-size="10" text-anchor="middle" font-weight="normal" fill="#111" stroke="#111" stroke-width="0.28" dominant-baseline="central">2H</text>
<text x="1286.0" y="314.3" font-family="Liberation Sans" font-size="8" text-anchor="middle" font-weight="normal" font-style="italic" fill="#111" stroke="#111" stroke-width="0.28" dominant-baseline="central">2764</text>
<circle cx="1236.5" cy="312.0" r="1.7" fill="white" stroke="#0a0a0a" stroke-width="1.1"/>
<circle cx="1257.1" cy="312.0" r="1.7" fill="white" stroke="#0a0a0a" stroke-width="1.1"/>
<text transform="translate(1242.5,307.8) scale(0.86,1)" font-family="Liberation Sans" font-size="6.1" text-anchor="middle" font-weight="normal" fill="#111" stroke="#111" stroke-width="0.28" dominant-baseline="central">22</text>
<text transform="translate(1263.1,307.8) scale(0.86,1)" font-family="Liberation Sans" font-size="6.1" text-anchor="middle" font-weight="normal" fill="#111" stroke="#111" stroke-width="0.28" dominant-baseline="central">20</text>
<text transform="translate(1258.1,318.8) scale(0.86,1)" font-family="Liberation Sans" font-size="5.12" text-anchor="middle" font-weight="normal" fill="#111" stroke="#111" stroke-width="0.28" dominant-baseline="central">CE</text>
<path d="M1199,325.6 Q1199,318.6 1203,318.6 L1228.2,318.6" fill="none" stroke="#0a0a0a" stroke-width="1.3"/>
<text transform="translate(1222.2,315.6) scale(0.86,1)" font-family="Liberation Sans" font-size="6.71" text-anchor="middle" font-weight="normal" fill="#111" stroke="#111" stroke-width="0.28" dominant-baseline="central">2</text>
<text transform="translate(1233.2,319.1) scale(0.86,1)" font-family="Liberation Sans" font-size="5.49" text-anchor="middle" font-weight="normal" fill="#111" stroke="#111" stroke-width="0.28" dominant-baseline="central">A12</text>
<text transform="translate(1208.2,315.6) scale(0.86,1)" font-family="Liberation Sans" font-size="5.86" text-anchor="middle" font-weight="normal" fill="#111" stroke="#111" stroke-width="0.28" dominant-baseline="central">AD12</text>
<path d="M1199,333.93 Q1199,326.93 1203,326.93 L1228.2,326.93" fill="none" stroke="#0a0a0a" stroke-width="1.3"/>
<text transform="translate(1222.2,323.9) scale(0.86,1)" font-family="Liberation Sans" font-size="6.71" text-anchor="middle" font-weight="normal" fill="#111" stroke="#111" stroke-width="0.28" dominant-baseline="central">23</text>
<text transform="translate(1233.2,327.4) scale(0.86,1)" font-family="Liberation Sans" font-size="5.49" text-anchor="middle" font-weight="normal" fill="#111" stroke="#111" stroke-width="0.28" dominant-baseline="central">A11</text>
<path d="M1199,342.26000000000005 Q1199,335.26000000000005 1203,335.26000000000005 L1228.2,335.26000000000005" fill="none" stroke="#0a0a0a" stroke-width="1.3"/>
<text transform="translate(1222.2,332.3) scale(0.86,1)" font-family="Liberation Sans" font-size="6.71" text-anchor="middle" font-weight="normal" fill="#111" stroke="#111" stroke-width="0.28" dominant-baseline="central">21</text>
<text transform="translate(1233.2,335.8) scale(0.86,1)" font-family="Liberation Sans" font-size="5.49" text-anchor="middle" font-weight="normal" fill="#111" stroke="#111" stroke-width="0.28" dominant-baseline="central">A10</text>
<path d="M1199,350.59000000000003 Q1199,343.59000000000003 1203,343.59000000000003 L1228.2,343.59000000000003" fill="none" stroke="#0a0a0a" stroke-width="1.3"/>
<text transform="translate(1222.2,340.6) scale(0.86,1)" font-family="Liberation Sans" font-size="6.71" text-anchor="middle" font-weight="normal" fill="#111" stroke="#111" stroke-width="0.28" dominant-baseline="central">24</text>
<text transform="translate(1233.2,344.1) scale(0.86,1)" font-family="Liberation Sans" font-size="5.49" text-anchor="middle" font-weight="normal" fill="#111" stroke="#111" stroke-width="0.28" dominant-baseline="central">A9</text>
<path d="M1199,358.92 Q1199,351.92 1203,351.92 L1228.2,351.92" fill="none" stroke="#0a0a0a" stroke-width="1.3"/>
<text transform="translate(1222.2,348.9) scale(0.86,1)" font-family="Liberation Sans" font-size="6.71" text-anchor="middle" font-weight="normal" fill="#111" stroke="#111" stroke-width="0.28" dominant-baseline="central">25</text>
<text transform="translate(1233.2,352.4) scale(0.86,1)" font-family="Liberation Sans" font-size="5.49" text-anchor="middle" font-weight="normal" fill="#111" stroke="#111" stroke-width="0.28" dominant-baseline="central">A8</text>
<path d="M1199,367.25 Q1199,360.25 1203,360.25 L1228.2,360.25" fill="none" stroke="#0a0a0a" stroke-width="1.3"/>
<text transform="translate(1222.2,357.2) scale(0.86,1)" font-family="Liberation Sans" font-size="6.71" text-anchor="middle" font-weight="normal" fill="#111" stroke="#111" stroke-width="0.28" dominant-baseline="central">3</text>
<text transform="translate(1233.2,360.8) scale(0.86,1)" font-family="Liberation Sans" font-size="5.49" text-anchor="middle" font-weight="normal" fill="#111" stroke="#111" stroke-width="0.28" dominant-baseline="central">A7</text>
<path d="M1199,375.58000000000004 Q1199,368.58000000000004 1203,368.58000000000004 L1228.2,368.58000000000004" fill="none" stroke="#0a0a0a" stroke-width="1.3"/>
<text transform="translate(1222.2,365.6) scale(0.86,1)" font-family="Liberation Sans" font-size="6.71" text-anchor="middle" font-weight="normal" fill="#111" stroke="#111" stroke-width="0.28" dominant-baseline="central">4</text>
<text transform="translate(1233.2,369.1) scale(0.86,1)" font-family="Liberation Sans" font-size="5.49" text-anchor="middle" font-weight="normal" fill="#111" stroke="#111" stroke-width="0.28" dominant-baseline="central">A6</text>
<path d="M1199,383.91 Q1199,376.91 1203,376.91 L1228.2,376.91" fill="none" stroke="#0a0a0a" stroke-width="1.3"/>
<text transform="translate(1222.2,373.9) scale(0.86,1)" font-family="Liberation Sans" font-size="6.71" text-anchor="middle" font-weight="normal" fill="#111" stroke="#111" stroke-width="0.28" dominant-baseline="central">5</text>
<text transform="translate(1233.2,377.4) scale(0.86,1)" font-family="Liberation Sans" font-size="5.49" text-anchor="middle" font-weight="normal" fill="#111" stroke="#111" stroke-width="0.28" dominant-baseline="central">A5</text>
<path d="M1199,392.24 Q1199,385.24 1203,385.24 L1228.2,385.24" fill="none" stroke="#0a0a0a" stroke-width="1.3"/>
<text transform="translate(1222.2,382.2) scale(0.86,1)" font-family="Liberation Sans" font-size="6.71" text-anchor="middle" font-weight="normal" fill="#111" stroke="#111" stroke-width="0.28" dominant-baseline="central">6</text>
<text transform="translate(1233.2,385.7) scale(0.86,1)" font-family="Liberation Sans" font-size="5.49" text-anchor="middle" font-weight="normal" fill="#111" stroke="#111" stroke-width="0.28" dominant-baseline="central">A4</text>
<path d="M1199,400.57000000000005 Q1199,393.57000000000005 1203,393.57000000000005 L1228.2,393.57000000000005" fill="none" stroke="#0a0a0a" stroke-width="1.3"/>
<text transform="translate(1222.2,390.6) scale(0.86,1)" font-family="Liberation Sans" font-size="6.71" text-anchor="middle" font-weight="normal" fill="#111" stroke="#111" stroke-width="0.28" dominant-baseline="central">7</text>
<text transform="translate(1233.2,394.1) scale(0.86,1)" font-family="Liberation Sans" font-size="5.49" text-anchor="middle" font-weight="normal" fill="#111" stroke="#111" stroke-width="0.28" dominant-baseline="central">A3</text>
<path d="M1199,408.90000000000003 Q1199,401.90000000000003 1203,401.90000000000003 L1228.2,401.90000000000003" fill="none" stroke="#0a0a0a" stroke-width="1.3"/>
<text transform="translate(1222.2,398.9) scale(0.86,1)" font-family="Liberation Sans" font-size="6.71" text-anchor="middle" font-weight="normal" fill="#111" stroke="#111" stroke-width="0.28" dominant-baseline="central">8</text>
<text transform="translate(1233.2,402.4) scale(0.86,1)" font-family="Liberation Sans" font-size="5.49" text-anchor="middle" font-weight="normal" fill="#111" stroke="#111" stroke-width="0.28" dominant-baseline="central">A2</text>
<path d="M1199,417.23 Q1199,410.23 1203,410.23 L1228.2,410.23" fill="none" stroke="#0a0a0a" stroke-width="1.3"/>
<text transform="translate(1222.2,407.2) scale(0.86,1)" font-family="Liberation Sans" font-size="6.71" text-anchor="middle" font-weight="normal" fill="#111" stroke="#111" stroke-width="0.28" dominant-baseline="central">9</text>
<text transform="translate(1233.2,410.7) scale(0.86,1)" font-family="Liberation Sans" font-size="5.49" text-anchor="middle" font-weight="normal" fill="#111" stroke="#111" stroke-width="0.28" dominant-baseline="central">A1</text>
<path d="M1199,425.56000000000006 Q1199,418.56000000000006 1203,418.56000000000006 L1228.2,418.56000000000006" fill="none" stroke="#0a0a0a" stroke-width="1.3"/>
<text transform="translate(1222.2,415.6) scale(0.86,1)" font-family="Liberation Sans" font-size="6.71" text-anchor="middle" font-weight="normal" fill="#111" stroke="#111" stroke-width="0.28" dominant-baseline="central">10</text>
<text transform="translate(1233.2,419.1) scale(0.86,1)" font-family="Liberation Sans" font-size="5.49" text-anchor="middle" font-weight="normal" fill="#111" stroke="#111" stroke-width="0.28" dominant-baseline="central">AØ</text>
<text transform="translate(1208.2,415.6) scale(0.86,1)" font-family="Liberation Sans" font-size="5.86" text-anchor="middle" font-weight="normal" fill="#111" stroke="#111" stroke-width="0.28" dominant-baseline="central">ADØ</text>
<path d="M1199,317.8 L1199,437 Q1199,441.2 1203,441.2" fill="none" stroke="#0a0a0a" stroke-width="2.2"/>
<path d="M1269,368.0 L1289.8,368.0 Q1293.8,368.0 1293.8,373.0" fill="none" stroke="#0a0a0a" stroke-width="1.3"/>
<text transform="translate(1263.0,368.0) scale(0.86,1)" font-family="Liberation Sans" font-size="6.71" text-anchor="middle" font-weight="normal" fill="#111" stroke="#111" stroke-width="0.28" dominant-baseline="central">D7</text>
<text transform="translate(1273.0,365.0) scale(0.86,1)" font-family="Liberation Sans" font-size="5.49" text-anchor="middle" font-weight="normal" fill="#111" stroke="#111" stroke-width="0.28" dominant-baseline="central">19</text>
<path d="M1269,376.15 L1289.8,376.15 Q1293.8,376.15 1293.8,381.15" fill="none" stroke="#0a0a0a" stroke-width="1.3"/>
<text transform="translate(1263.0,376.1) scale(0.86,1)" font-family="Liberation Sans" font-size="6.71" text-anchor="middle" font-weight="normal" fill="#111" stroke="#111" stroke-width="0.28" dominant-baseline="central">D6</text>
<text transform="translate(1273.0,373.1) scale(0.86,1)" font-family="Liberation Sans" font-size="5.49" text-anchor="middle" font-weight="normal" fill="#111" stroke="#111" stroke-width="0.28" dominant-baseline="central">17</text>
<path d="M1269,384.3 L1289.8,384.3 Q1293.8,384.3 1293.8,389.3" fill="none" stroke="#0a0a0a" stroke-width="1.3"/>
<text transform="translate(1263.0,384.3) scale(0.86,1)" font-family="Liberation Sans" font-size="6.71" text-anchor="middle" font-weight="normal" fill="#111" stroke="#111" stroke-width="0.28" dominant-baseline="central">D5</text>
<text transform="translate(1273.0,381.3) scale(0.86,1)" font-family="Liberation Sans" font-size="5.49" text-anchor="middle" font-weight="normal" fill="#111" stroke="#111" stroke-width="0.28" dominant-baseline="central">16</text>
<path d="M1269,392.45 L1289.8,392.45 Q1293.8,392.45 1293.8,397.45" fill="none" stroke="#0a0a0a" stroke-width="1.3"/>
<text transform="translate(1263.0,392.4) scale(0.86,1)" font-family="Liberation Sans" font-size="6.71" text-anchor="middle" font-weight="normal" fill="#111" stroke="#111" stroke-width="0.28" dominant-baseline="central">D4</text>
<text transform="translate(1273.0,389.4) scale(0.86,1)" font-family="Liberation Sans" font-size="5.49" text-anchor="middle" font-weight="normal" fill="#111" stroke="#111" stroke-width="0.28" dominant-baseline="central">15</text>
<path d="M1269,400.6 L1289.8,400.6 Q1293.8,400.6 1293.8,405.6" fill="none" stroke="#0a0a0a" stroke-width="1.3"/>
<text transform="translate(1263.0,400.6) scale(0.86,1)" font-family="Liberation Sans" font-size="6.71" text-anchor="middle" font-weight="normal" fill="#111" stroke="#111" stroke-width="0.28" dominant-baseline="central">D3</text>
<text transform="translate(1273.0,397.6) scale(0.86,1)" font-family="Liberation Sans" font-size="5.49" text-anchor="middle" font-weight="normal" fill="#111" stroke="#111" stroke-width="0.28" dominant-baseline="central">14</text>
<path d="M1269,408.75 L1289.8,408.75 Q1293.8,408.75 1293.8,413.75" fill="none" stroke="#0a0a0a" stroke-width="1.3"/>
<text transform="translate(1263.0,408.8) scale(0.86,1)" font-family="Liberation Sans" font-size="6.71" text-anchor="middle" font-weight="normal" fill="#111" stroke="#111" stroke-width="0.28" dominant-baseline="central">D2</text>
<text transform="translate(1273.0,405.8) scale(0.86,1)" font-family="Liberation Sans" font-size="5.49" text-anchor="middle" font-weight="normal" fill="#111" stroke="#111" stroke-width="0.28" dominant-baseline="central">13</text>
<path d="M1269,416.9 L1289.8,416.9 Q1293.8,416.9 1293.8,421.9" fill="none" stroke="#0a0a0a" stroke-width="1.3"/>
<text transform="translate(1263.0,416.9) scale(0.86,1)" font-family="Liberation Sans" font-size="6.71" text-anchor="middle" font-weight="normal" fill="#111" stroke="#111" stroke-width="0.28" dominant-baseline="central">D1</text>
<text transform="translate(1273.0,413.9) scale(0.86,1)" font-family="Liberation Sans" font-size="5.49" text-anchor="middle" font-weight="normal" fill="#111" stroke="#111" stroke-width="0.28" dominant-baseline="central">12</text>
<path d="M1269,425.05 L1289.8,425.05 Q1293.8,425.05 1293.8,430.05" fill="none" stroke="#0a0a0a" stroke-width="1.3"/>
<text transform="translate(1263.0,425.1) scale(0.86,1)" font-family="Liberation Sans" font-size="6.71" text-anchor="middle" font-weight="normal" fill="#111" stroke="#111" stroke-width="0.28" dominant-baseline="central">DØ</text>
<text transform="translate(1273.0,422.1) scale(0.86,1)" font-family="Liberation Sans" font-size="5.49" text-anchor="middle" font-weight="normal" fill="#111" stroke="#111" stroke-width="0.28" dominant-baseline="central">11</text>
<text transform="translate(1286.0,364.8) scale(0.86,1)" font-family="Liberation Sans" font-size="6.1" text-anchor="middle" font-weight="normal" fill="#111" stroke="#111" stroke-width="0.28" dominant-baseline="central">DØ7</text>
<text transform="translate(1286.0,421.8) scale(0.86,1)" font-family="Liberation Sans" font-size="6.1" text-anchor="middle" font-weight="normal" fill="#111" stroke="#111" stroke-width="0.28" dominant-baseline="central">DØØ</text>
<path d="M1293.8,368.8 L1293.8,446 Q1293.8,450.3 1289.8,450.3" fill="none" stroke="#0a0a0a" stroke-width="2.2"/>
<path d="M1293.8,446 Q1293.8,450.3 1289.8,450.3 L906,450.3 Q902,450.3 902,454.3 L902,563 Q902,566.4 905,566.4" fill="none" stroke="#0a0a0a" stroke-width="2.2"/>
<rect x="939.3" y="458.7" width="21.2" height="50.6" fill="none" stroke="#0a0a0a" stroke-width="1.3"/>
<text transform="translate(948.5,455.0) scale(0.86,1)" font-family="Liberation Sans" font-size="6.71" text-anchor="middle" font-weight="normal" fill="#111" stroke="#111" stroke-width="0.28" dominant-baseline="central">LS245</text>
<text transform="translate(950.0,484.0) scale(0.86,1)" font-family="Liberation Sans" font-size="8.54" text-anchor="middle" font-weight="normal" fill="#111" stroke="#111" stroke-width="0.28" dominant-baseline="central">D</text>
<text transform="translate(949.0,492.0) scale(0.86,1)" font-family="Liberation Sans" font-size="6.1" text-anchor="middle" font-weight="normal" fill="#111" stroke="#111" stroke-width="0.28" dominant-baseline="central">m</text>
<path d="M902,467.7 Q902,462.7 906,462.7 L939.3,462.7" fill="none" stroke="#0a0a0a" stroke-width="1.3"/>
<text transform="translate(917.0,460.2) scale(0.86,1)" font-family="Liberation Sans" font-size="5.61" text-anchor="middle" font-weight="normal" fill="#111" stroke="#111" stroke-width="0.28" dominant-baseline="central">DØ7</text>
<text transform="translate(935.5,460.2) scale(0.86,1)" font-family="Liberation Sans" font-size="5.49" text-anchor="middle" font-weight="normal" fill="#111" stroke="#111" stroke-width="0.28" dominant-baseline="central">2</text>
<path d="M960.5,462.7 L987.8,462.7 Q991.8,462.7 991.8,466.7" fill="none" stroke="#0a0a0a" stroke-width="1.3"/>
<text transform="translate(964.0,460.2) scale(0.86,1)" font-family="Liberation Sans" font-size="5.49" text-anchor="middle" font-weight="normal" fill="#111" stroke="#111" stroke-width="0.28" dominant-baseline="central">18</text>
<text transform="translate(943.0,462.7) scale(0.86,1)" font-family="Liberation Sans" font-size="4.03" text-anchor="middle" font-weight="normal" fill="#111" stroke="#111" stroke-width="0.28" dominant-baseline="central">A7</text>
<text transform="translate(956.5,462.7) scale(0.86,1)" font-family="Liberation Sans" font-size="4.03" text-anchor="middle" font-weight="normal" fill="#111" stroke="#111" stroke-width="0.28" dominant-baseline="central">B7</text>
<path d="M902,473.6 Q902,468.6 906,468.6 L939.3,468.6" fill="none" stroke="#0a0a0a" stroke-width="1.3"/>
<text transform="translate(917.0,466.1) scale(0.86,1)" font-family="Liberation Sans" font-size="5.61" text-anchor="middle" font-weight="normal" fill="#111" stroke="#111" stroke-width="0.28" dominant-baseline="central">DØ6</text>
<text transform="translate(935.5,466.1) scale(0.86,1)" font-family="Liberation Sans" font-size="5.49" text-anchor="middle" font-weight="normal" fill="#111" stroke="#111" stroke-width="0.28" dominant-baseline="central">3</text>
<path d="M960.5,468.6 L987.8,468.6 Q991.8,468.6 991.8,472.6" fill="none" stroke="#0a0a0a" stroke-width="1.3"/>
<text transform="translate(964.0,466.1) scale(0.86,1)" font-family="Liberation Sans" font-size="5.49" text-anchor="middle" font-weight="normal" fill="#111" stroke="#111" stroke-width="0.28" dominant-baseline="central">17</text>
<text transform="translate(943.0,468.6) scale(0.86,1)" font-family="Liberation Sans" font-size="4.03" text-anchor="middle" font-weight="normal" fill="#111" stroke="#111" stroke-width="0.28" dominant-baseline="central">A6</text>
<text transform="translate(956.5,468.6) scale(0.86,1)" font-family="Liberation Sans" font-size="4.03" text-anchor="middle" font-weight="normal" fill="#111" stroke="#111" stroke-width="0.28" dominant-baseline="central">B6</text>
<path d="M902,479.5 Q902,474.5 906,474.5 L939.3,474.5" fill="none" stroke="#0a0a0a" stroke-width="1.3"/>
<text transform="translate(917.0,472.0) scale(0.86,1)" font-family="Liberation Sans" font-size="5.61" text-anchor="middle" font-weight="normal" fill="#111" stroke="#111" stroke-width="0.28" dominant-baseline="central">DØ5</text>
<text transform="translate(935.5,472.0) scale(0.86,1)" font-family="Liberation Sans" font-size="5.49" text-anchor="middle" font-weight="normal" fill="#111" stroke="#111" stroke-width="0.28" dominant-baseline="central">4</text>
<path d="M960.5,474.5 L987.8,474.5 Q991.8,474.5 991.8,478.5" fill="none" stroke="#0a0a0a" stroke-width="1.3"/>
<text transform="translate(964.0,472.0) scale(0.86,1)" font-family="Liberation Sans" font-size="5.49" text-anchor="middle" font-weight="normal" fill="#111" stroke="#111" stroke-width="0.28" dominant-baseline="central">16</text>
<text transform="translate(943.0,474.5) scale(0.86,1)" font-family="Liberation Sans" font-size="4.03" text-anchor="middle" font-weight="normal" fill="#111" stroke="#111" stroke-width="0.28" dominant-baseline="central">A5</text>
<text transform="translate(956.5,474.5) scale(0.86,1)" font-family="Liberation Sans" font-size="4.03" text-anchor="middle" font-weight="normal" fill="#111" stroke="#111" stroke-width="0.28" dominant-baseline="central">B5</text>
<path d="M902,485.5 Q902,480.5 906,480.5 L939.3,480.5" fill="none" stroke="#0a0a0a" stroke-width="1.3"/>
<text transform="translate(917.0,478.0) scale(0.86,1)" font-family="Liberation Sans" font-size="5.61" text-anchor="middle" font-weight="normal" fill="#111" stroke="#111" stroke-width="0.28" dominant-baseline="central">DØ4</text>
<text transform="translate(935.5,478.0) scale(0.86,1)" font-family="Liberation Sans" font-size="5.49" text-anchor="middle" font-weight="normal" fill="#111" stroke="#111" stroke-width="0.28" dominant-baseline="central">5</text>
<path d="M960.5,480.5 L987.8,480.5 Q991.8,480.5 991.8,484.5" fill="none" stroke="#0a0a0a" stroke-width="1.3"/>
<text transform="translate(964.0,478.0) scale(0.86,1)" font-family="Liberation Sans" font-size="5.49" text-anchor="middle" font-weight="normal" fill="#111" stroke="#111" stroke-width="0.28" dominant-baseline="central">15</text>
<text transform="translate(943.0,480.5) scale(0.86,1)" font-family="Liberation Sans" font-size="4.03" text-anchor="middle" font-weight="normal" fill="#111" stroke="#111" stroke-width="0.28" dominant-baseline="central">A4</text>
<text transform="translate(956.5,480.5) scale(0.86,1)" font-family="Liberation Sans" font-size="4.03" text-anchor="middle" font-weight="normal" fill="#111" stroke="#111" stroke-width="0.28" dominant-baseline="central">B4</text>
<path d="M902,491.5 Q902,486.5 906,486.5 L939.3,486.5" fill="none" stroke="#0a0a0a" stroke-width="1.3"/>
<text transform="translate(917.0,484.0) scale(0.86,1)" font-family="Liberation Sans" font-size="5.61" text-anchor="middle" font-weight="normal" fill="#111" stroke="#111" stroke-width="0.28" dominant-baseline="central">DØ3</text>
<text transform="translate(935.5,484.0) scale(0.86,1)" font-family="Liberation Sans" font-size="5.49" text-anchor="middle" font-weight="normal" fill="#111" stroke="#111" stroke-width="0.28" dominant-baseline="central">6</text>
<path d="M960.5,486.5 L987.8,486.5 Q991.8,486.5 991.8,490.5" fill="none" stroke="#0a0a0a" stroke-width="1.3"/>
<text transform="translate(964.0,484.0) scale(0.86,1)" font-family="Liberation Sans" font-size="5.49" text-anchor="middle" font-weight="normal" fill="#111" stroke="#111" stroke-width="0.28" dominant-baseline="central">14</text>
<text transform="translate(943.0,486.5) scale(0.86,1)" font-family="Liberation Sans" font-size="4.03" text-anchor="middle" font-weight="normal" fill="#111" stroke="#111" stroke-width="0.28" dominant-baseline="central">A3</text>
<text transform="translate(956.5,486.5) scale(0.86,1)" font-family="Liberation Sans" font-size="4.03" text-anchor="middle" font-weight="normal" fill="#111" stroke="#111" stroke-width="0.28" dominant-baseline="central">B3</text>
<path d="M902,497.2 Q902,492.2 906,492.2 L939.3,492.2" fill="none" stroke="#0a0a0a" stroke-width="1.3"/>
<text transform="translate(917.0,489.7) scale(0.86,1)" font-family="Liberation Sans" font-size="5.61" text-anchor="middle" font-weight="normal" fill="#111" stroke="#111" stroke-width="0.28" dominant-baseline="central">DØ2</text>
<text transform="translate(935.5,489.7) scale(0.86,1)" font-family="Liberation Sans" font-size="5.49" text-anchor="middle" font-weight="normal" fill="#111" stroke="#111" stroke-width="0.28" dominant-baseline="central">7</text>
<path d="M960.5,492.2 L987.8,492.2 Q991.8,492.2 991.8,496.2" fill="none" stroke="#0a0a0a" stroke-width="1.3"/>
<text transform="translate(964.0,489.7) scale(0.86,1)" font-family="Liberation Sans" font-size="5.49" text-anchor="middle" font-weight="normal" fill="#111" stroke="#111" stroke-width="0.28" dominant-baseline="central">13</text>
<text transform="translate(943.0,492.2) scale(0.86,1)" font-family="Liberation Sans" font-size="4.03" text-anchor="middle" font-weight="normal" fill="#111" stroke="#111" stroke-width="0.28" dominant-baseline="central">A2</text>
<text transform="translate(956.5,492.2) scale(0.86,1)" font-family="Liberation Sans" font-size="4.03" text-anchor="middle" font-weight="normal" fill="#111" stroke="#111" stroke-width="0.28" dominant-baseline="central">B2</text>
<path d="M902,502.8 Q902,497.8 906,497.8 L939.3,497.8" fill="none" stroke="#0a0a0a" stroke-width="1.3"/>
<text transform="translate(917.0,495.3) scale(0.86,1)" font-family="Liberation Sans" font-size="5.61" text-anchor="middle" font-weight="normal" fill="#111" stroke="#111" stroke-width="0.28" dominant-baseline="central">DØ1</text>
<text transform="translate(935.5,495.3) scale(0.86,1)" font-family="Liberation Sans" font-size="5.49" text-anchor="middle" font-weight="normal" fill="#111" stroke="#111" stroke-width="0.28" dominant-baseline="central">8</text>
<path d="M960.5,497.8 L987.8,497.8 Q991.8,497.8 991.8,501.8" fill="none" stroke="#0a0a0a" stroke-width="1.3"/>
<text transform="translate(964.0,495.3) scale(0.86,1)" font-family="Liberation Sans" font-size="5.49" text-anchor="middle" font-weight="normal" fill="#111" stroke="#111" stroke-width="0.28" dominant-baseline="central">12</text>
<text transform="translate(943.0,497.8) scale(0.86,1)" font-family="Liberation Sans" font-size="4.03" text-anchor="middle" font-weight="normal" fill="#111" stroke="#111" stroke-width="0.28" dominant-baseline="central">A1</text>
<text transform="translate(956.5,497.8) scale(0.86,1)" font-family="Liberation Sans" font-size="4.03" text-anchor="middle" font-weight="normal" fill="#111" stroke="#111" stroke-width="0.28" dominant-baseline="central">B1</text>
<path d="M902,508.5 Q902,503.5 906,503.5 L939.3,503.5" fill="none" stroke="#0a0a0a" stroke-width="1.3"/>
<text transform="translate(917.0,501.0) scale(0.86,1)" font-family="Liberation Sans" font-size="5.61" text-anchor="middle" font-weight="normal" fill="#111" stroke="#111" stroke-width="0.28" dominant-baseline="central">DØØ</text>
<text transform="translate(935.5,501.0) scale(0.86,1)" font-family="Liberation Sans" font-size="5.49" text-anchor="middle" font-weight="normal" fill="#111" stroke="#111" stroke-width="0.28" dominant-baseline="central">9</text>
<path d="M960.5,503.5 L987.8,503.5 Q991.8,503.5 991.8,507.5" fill="none" stroke="#0a0a0a" stroke-width="1.3"/>
<text transform="translate(964.0,501.0) scale(0.86,1)" font-family="Liberation Sans" font-size="5.49" text-anchor="middle" font-weight="normal" fill="#111" stroke="#111" stroke-width="0.28" dominant-baseline="central">11</text>
<text transform="translate(943.0,503.5) scale(0.86,1)" font-family="Liberation Sans" font-size="4.03" text-anchor="middle" font-weight="normal" fill="#111" stroke="#111" stroke-width="0.28" dominant-baseline="central">A0</text>
<text transform="translate(956.5,503.5) scale(0.86,1)" font-family="Liberation Sans" font-size="4.03" text-anchor="middle" font-weight="normal" fill="#111" stroke="#111" stroke-width="0.28" dominant-baseline="central">B0</text>
<text transform="translate(979.0,460.0) scale(0.86,1)" font-family="Liberation Sans" font-size="6.1" text-anchor="middle" font-weight="normal" fill="#111" stroke="#111" stroke-width="0.28" dominant-baseline="central">DØ7</text>
<text transform="translate(980.0,503.0) scale(0.86,1)" font-family="Liberation Sans" font-size="6.1" text-anchor="middle" font-weight="normal" fill="#111" stroke="#111" stroke-width="0.28" dominant-baseline="central">DØØ</text>
<path d="M991.8,508 L991.8,464 L1345,464" fill="none" stroke="#0a0a0a" stroke-width="2.2"/>
<path d="M1350,464 L1344,461.3 L1344,466.7 Z" fill="#0a0a0a" stroke="#0a0a0a" stroke-width="0.8"/>
<text transform="translate(1374.0,464.5) scale(0.86,1)" font-family="Liberation Sans" font-size="7.69" text-anchor="middle" font-weight="normal" font-style="italic" fill="#111" stroke="#111" stroke-width="0.28" dominant-baseline="central">DØØ~DØ7</text>
<text transform="translate(1428.5,465.0) scale(0.86,1)" font-family="Liberation Sans" font-size="7.56" text-anchor="middle" font-weight="normal" font-style="italic" fill="#111" stroke="#111" stroke-width="0.28" dominant-baseline="central">SHTS  2,3,4</text>
<polyline points="951.9,509.3 951.9,515.8 1134.2,516.8 1134.2,695.0" fill="none" stroke="#0a0a0a" stroke-width="1.3"/>
<path d="M1134.2,700 L1131.95,695 L1136.45,695 Z" fill="#0a0a0a" stroke="#0a0a0a" stroke-width="0.8"/>
<text transform="translate(948.5,513.5) scale(0.86,1)" font-family="Liberation Sans" font-size="5.49" text-anchor="middle" font-weight="normal" fill="#111" stroke="#111" stroke-width="0.28" dominant-baseline="central">1</text>
<text transform="translate(1134.0,707.0) scale(0.86,1)" font-family="Liberation Sans" font-size="6.71" text-anchor="middle" font-weight="normal" fill="#111" stroke="#111" stroke-width="0.28" dominant-baseline="central">IC 4P</text>
<text transform="translate(1133.0,714.5) scale(0.86,1)" font-family="Liberation Sans" font-size="5.12" text-anchor="middle" font-weight="normal" fill="#111" stroke="#111" stroke-width="0.28" dominant-baseline="central">PIN 4,5</text>
<text transform="translate(1133.0,722.0) scale(0.86,1)" font-family="Liberation Sans" font-size="6.1" text-anchor="middle" font-weight="normal" fill="#111" stroke="#111" stroke-width="0.28" dominant-baseline="central">(SHT 3)</text>
<rect x="984.6" y="520.3" width="20.4" height="49.9" fill="none" stroke="#0a0a0a" stroke-width="1.3"/>
<text transform="translate(1010.0,506.0) scale(0.86,1)" font-family="Liberation Sans" font-size="9.15" text-anchor="middle" font-weight="normal" font-style="italic" fill="#111" stroke="#111" stroke-width="0.28" dominant-baseline="central">3F</text>
<text transform="translate(1010.0,513.0) scale(0.86,1)" font-family="Liberation Sans" font-size="6.71" text-anchor="middle" font-weight="normal" fill="#111" stroke="#111" stroke-width="0.28" dominant-baseline="central">LS374</text>
<path d="M902,518.4 Q902,523.4 906,523.4 L984.6,523.4" fill="none" stroke="#0a0a0a" stroke-width="1.3"/>
<text transform="translate(925.0,520.9) scale(0.86,1)" font-family="Liberation Sans" font-size="5.61" text-anchor="middle" font-weight="normal" fill="#111" stroke="#111" stroke-width="0.28" dominant-baseline="central">DØ7</text>
<text transform="translate(981.0,521.4) scale(0.86,1)" font-family="Liberation Sans" font-size="5.25" text-anchor="middle" font-weight="normal" fill="#111" stroke="#111" stroke-width="0.28" dominant-baseline="central">3</text>
<path d="M1005,523.4 L1049,523.4 Q1053.1,523.4 1053.1,519.4" fill="none" stroke="#0a0a0a" stroke-width="1.3"/>
<text transform="translate(1009.0,521.4) scale(0.86,1)" font-family="Liberation Sans" font-size="5.25" text-anchor="middle" font-weight="normal" fill="#111" stroke="#111" stroke-width="0.28" dominant-baseline="central">2</text>
<text transform="translate(988.5,523.9) scale(0.86,1)" font-family="Liberation Sans" font-size="3.9" text-anchor="middle" font-weight="normal" fill="#111" stroke="#111" stroke-width="0.28" dominant-baseline="central">D0</text>
<text transform="translate(1001.0,523.9) scale(0.86,1)" font-family="Liberation Sans" font-size="3.9" text-anchor="middle" font-weight="normal" fill="#111" stroke="#111" stroke-width="0.28" dominant-baseline="central">Q0</text>
<path d="M902,524.6 Q902,529.6 906,529.6 L984.6,529.6" fill="none" stroke="#0a0a0a" stroke-width="1.3"/>
<text transform="translate(925.0,527.1) scale(0.86,1)" font-family="Liberation Sans" font-size="5.61" text-anchor="middle" font-weight="normal" fill="#111" stroke="#111" stroke-width="0.28" dominant-baseline="central">DØ6</text>
<text transform="translate(981.0,527.6) scale(0.86,1)" font-family="Liberation Sans" font-size="5.25" text-anchor="middle" font-weight="normal" fill="#111" stroke="#111" stroke-width="0.28" dominant-baseline="central">4</text>
<path d="M1005,529.6 L1049,529.6 Q1053.1,529.6 1053.1,525.6" fill="none" stroke="#0a0a0a" stroke-width="1.3"/>
<text transform="translate(1009.0,527.6) scale(0.86,1)" font-family="Liberation Sans" font-size="5.25" text-anchor="middle" font-weight="normal" fill="#111" stroke="#111" stroke-width="0.28" dominant-baseline="central">5</text>
<text transform="translate(988.5,530.1) scale(0.86,1)" font-family="Liberation Sans" font-size="3.9" text-anchor="middle" font-weight="normal" fill="#111" stroke="#111" stroke-width="0.28" dominant-baseline="central">D1</text>
<text transform="translate(1001.0,530.1) scale(0.86,1)" font-family="Liberation Sans" font-size="3.9" text-anchor="middle" font-weight="normal" fill="#111" stroke="#111" stroke-width="0.28" dominant-baseline="central">Q1</text>
<path d="M902,530.6 Q902,535.6 906,535.6 L984.6,535.6" fill="none" stroke="#0a0a0a" stroke-width="1.3"/>
<text transform="translate(925.0,533.1) scale(0.86,1)" font-family="Liberation Sans" font-size="5.61" text-anchor="middle" font-weight="normal" fill="#111" stroke="#111" stroke-width="0.28" dominant-baseline="central">DØ5</text>
<text transform="translate(981.0,533.6) scale(0.86,1)" font-family="Liberation Sans" font-size="5.25" text-anchor="middle" font-weight="normal" fill="#111" stroke="#111" stroke-width="0.28" dominant-baseline="central">7</text>
<path d="M1005,535.6 L1049,535.6 Q1053.1,535.6 1053.1,531.6" fill="none" stroke="#0a0a0a" stroke-width="1.3"/>
<text transform="translate(1009.0,533.6) scale(0.86,1)" font-family="Liberation Sans" font-size="5.25" text-anchor="middle" font-weight="normal" fill="#111" stroke="#111" stroke-width="0.28" dominant-baseline="central">6</text>
<text transform="translate(988.5,536.1) scale(0.86,1)" font-family="Liberation Sans" font-size="3.9" text-anchor="middle" font-weight="normal" fill="#111" stroke="#111" stroke-width="0.28" dominant-baseline="central">D2</text>
<text transform="translate(1001.0,536.1) scale(0.86,1)" font-family="Liberation Sans" font-size="3.9" text-anchor="middle" font-weight="normal" fill="#111" stroke="#111" stroke-width="0.28" dominant-baseline="central">Q2</text>
<path d="M902,536.4 Q902,541.4 906,541.4 L984.6,541.4" fill="none" stroke="#0a0a0a" stroke-width="1.3"/>
<text transform="translate(925.0,538.9) scale(0.86,1)" font-family="Liberation Sans" font-size="5.61" text-anchor="middle" font-weight="normal" fill="#111" stroke="#111" stroke-width="0.28" dominant-baseline="central">DØ4</text>
<text transform="translate(981.0,539.4) scale(0.86,1)" font-family="Liberation Sans" font-size="5.25" text-anchor="middle" font-weight="normal" fill="#111" stroke="#111" stroke-width="0.28" dominant-baseline="central">8</text>
<path d="M1005,541.4 L1049,541.4 Q1053.1,541.4 1053.1,537.4" fill="none" stroke="#0a0a0a" stroke-width="1.3"/>
<text transform="translate(1009.0,539.4) scale(0.86,1)" font-family="Liberation Sans" font-size="5.25" text-anchor="middle" font-weight="normal" fill="#111" stroke="#111" stroke-width="0.28" dominant-baseline="central">9</text>
<text transform="translate(988.5,541.9) scale(0.86,1)" font-family="Liberation Sans" font-size="3.9" text-anchor="middle" font-weight="normal" fill="#111" stroke="#111" stroke-width="0.28" dominant-baseline="central">D3</text>
<text transform="translate(1001.0,541.9) scale(0.86,1)" font-family="Liberation Sans" font-size="3.9" text-anchor="middle" font-weight="normal" fill="#111" stroke="#111" stroke-width="0.28" dominant-baseline="central">Q3</text>
<path d="M902,542.4 Q902,547.4 906,547.4 L984.6,547.4" fill="none" stroke="#0a0a0a" stroke-width="1.3"/>
<text transform="translate(925.0,544.9) scale(0.86,1)" font-family="Liberation Sans" font-size="5.61" text-anchor="middle" font-weight="normal" fill="#111" stroke="#111" stroke-width="0.28" dominant-baseline="central">DØ3</text>
<text transform="translate(981.0,545.4) scale(0.86,1)" font-family="Liberation Sans" font-size="5.25" text-anchor="middle" font-weight="normal" fill="#111" stroke="#111" stroke-width="0.28" dominant-baseline="central">13</text>
<path d="M1005,547.4 L1049,547.4 Q1053.1,547.4 1053.1,543.4" fill="none" stroke="#0a0a0a" stroke-width="1.3"/>
<text transform="translate(1009.0,545.4) scale(0.86,1)" font-family="Liberation Sans" font-size="5.25" text-anchor="middle" font-weight="normal" fill="#111" stroke="#111" stroke-width="0.28" dominant-baseline="central">12</text>
<text transform="translate(988.5,547.9) scale(0.86,1)" font-family="Liberation Sans" font-size="3.9" text-anchor="middle" font-weight="normal" fill="#111" stroke="#111" stroke-width="0.28" dominant-baseline="central">D4</text>
<text transform="translate(1001.0,547.9) scale(0.86,1)" font-family="Liberation Sans" font-size="3.9" text-anchor="middle" font-weight="normal" fill="#111" stroke="#111" stroke-width="0.28" dominant-baseline="central">Q4</text>
<path d="M902,548.4 Q902,553.4 906,553.4 L984.6,553.4" fill="none" stroke="#0a0a0a" stroke-width="1.3"/>
<text transform="translate(925.0,550.9) scale(0.86,1)" font-family="Liberation Sans" font-size="5.61" text-anchor="middle" font-weight="normal" fill="#111" stroke="#111" stroke-width="0.28" dominant-baseline="central">DØ2</text>
<text transform="translate(981.0,551.4) scale(0.86,1)" font-family="Liberation Sans" font-size="5.25" text-anchor="middle" font-weight="normal" fill="#111" stroke="#111" stroke-width="0.28" dominant-baseline="central">14</text>
<path d="M1005,553.4 L1049,553.4 Q1053.1,553.4 1053.1,549.4" fill="none" stroke="#0a0a0a" stroke-width="1.3"/>
<text transform="translate(1009.0,551.4) scale(0.86,1)" font-family="Liberation Sans" font-size="5.25" text-anchor="middle" font-weight="normal" fill="#111" stroke="#111" stroke-width="0.28" dominant-baseline="central">15</text>
<text transform="translate(988.5,553.9) scale(0.86,1)" font-family="Liberation Sans" font-size="3.9" text-anchor="middle" font-weight="normal" fill="#111" stroke="#111" stroke-width="0.28" dominant-baseline="central">D5</text>
<text transform="translate(1001.0,553.9) scale(0.86,1)" font-family="Liberation Sans" font-size="3.9" text-anchor="middle" font-weight="normal" fill="#111" stroke="#111" stroke-width="0.28" dominant-baseline="central">Q5</text>
<path d="M902,554.2 Q902,559.2 906,559.2 L984.6,559.2" fill="none" stroke="#0a0a0a" stroke-width="1.3"/>
<text transform="translate(925.0,556.7) scale(0.86,1)" font-family="Liberation Sans" font-size="5.61" text-anchor="middle" font-weight="normal" fill="#111" stroke="#111" stroke-width="0.28" dominant-baseline="central">DØ1</text>
<text transform="translate(981.0,557.2) scale(0.86,1)" font-family="Liberation Sans" font-size="5.25" text-anchor="middle" font-weight="normal" fill="#111" stroke="#111" stroke-width="0.28" dominant-baseline="central">17</text>
<path d="M1005,559.2 L1049,559.2 Q1053.1,559.2 1053.1,555.2" fill="none" stroke="#0a0a0a" stroke-width="1.3"/>
<text transform="translate(1009.0,557.2) scale(0.86,1)" font-family="Liberation Sans" font-size="5.25" text-anchor="middle" font-weight="normal" fill="#111" stroke="#111" stroke-width="0.28" dominant-baseline="central">16</text>
<text transform="translate(988.5,559.7) scale(0.86,1)" font-family="Liberation Sans" font-size="3.9" text-anchor="middle" font-weight="normal" fill="#111" stroke="#111" stroke-width="0.28" dominant-baseline="central">D6</text>
<text transform="translate(1001.0,559.7) scale(0.86,1)" font-family="Liberation Sans" font-size="3.9" text-anchor="middle" font-weight="normal" fill="#111" stroke="#111" stroke-width="0.28" dominant-baseline="central">Q6</text>
<path d="M902,560.2 Q902,565.2 906,565.2 L984.6,565.2" fill="none" stroke="#0a0a0a" stroke-width="1.3"/>
<text transform="translate(925.0,562.7) scale(0.86,1)" font-family="Liberation Sans" font-size="5.61" text-anchor="middle" font-weight="normal" fill="#111" stroke="#111" stroke-width="0.28" dominant-baseline="central">DØØ</text>
<text transform="translate(981.0,563.2) scale(0.86,1)" font-family="Liberation Sans" font-size="5.25" text-anchor="middle" font-weight="normal" fill="#111" stroke="#111" stroke-width="0.28" dominant-baseline="central">18</text>
<path d="M1005,565.2 L1049,565.2 Q1053.1,565.2 1053.1,561.2" fill="none" stroke="#0a0a0a" stroke-width="1.3"/>
<text transform="translate(1009.0,563.2) scale(0.86,1)" font-family="Liberation Sans" font-size="5.25" text-anchor="middle" font-weight="normal" fill="#111" stroke="#111" stroke-width="0.28" dominant-baseline="central">19</text>
<text transform="translate(988.5,565.7) scale(0.86,1)" font-family="Liberation Sans" font-size="3.9" text-anchor="middle" font-weight="normal" fill="#111" stroke="#111" stroke-width="0.28" dominant-baseline="central">D7</text>
<text transform="translate(1001.0,565.7) scale(0.86,1)" font-family="Liberation Sans" font-size="3.9" text-anchor="middle" font-weight="normal" fill="#111" stroke="#111" stroke-width="0.28" dominant-baseline="central">Q7</text>
<text transform="translate(1035.0,520.5) scale(0.86,1)" font-family="Liberation Sans" font-size="6.1" text-anchor="middle" font-weight="normal" fill="#111" stroke="#111" stroke-width="0.28" dominant-baseline="central">DØ7</text>
<text transform="translate(1035.0,563.5) scale(0.86,1)" font-family="Liberation Sans" font-size="6.1" text-anchor="middle" font-weight="normal" fill="#111" stroke="#111" stroke-width="0.28" dominant-baseline="central">DØØ</text>
<path d="M1053.1,562 L1053.1,468 Q1053.1,463.6 1057,463.6" fill="none" stroke="#0a0a0a" stroke-width="2.2"/>
<polyline points="989.2,570.2 989.2,576.5" fill="none" stroke="#0a0a0a" stroke-width="1.3"/>
<circle cx="1000.0" cy="572.0" r="1.6" fill="white" stroke="#0a0a0a" stroke-width="1.1"/>
<text transform="translate(992.5,573.5) scale(0.86,1)" font-family="Liberation Sans" font-size="4.88" text-anchor="middle" font-weight="normal" fill="#111" stroke="#111" stroke-width="0.28" dominant-baseline="central">11</text>
<text transform="translate(1003.0,573.5) scale(0.86,1)" font-family="Liberation Sans" font-size="4.88" text-anchor="middle" font-weight="normal" fill="#111" stroke="#111" stroke-width="0.28" dominant-baseline="central">1</text>
<text transform="translate(968.0,572.5) scale(0.86,1)" font-family="Liberation Sans" font-size="6.71" text-anchor="middle" font-weight="normal" fill="#111" stroke="#111" stroke-width="0.28" dominant-baseline="central">2H</text>
<polyline points="1000.0,574.0 1000.0,576.2 1130.7,576.2 1130.7,596.7 1115.0,596.7" fill="none" stroke="#0a0a0a" stroke-width="1.3"/>
<path d="M684.2,596 Q684.2,599.7 688,599.7 L934,600.2 Q938,600.4 938,604 L938,634" fill="none" stroke="#0a0a0a" stroke-width="1.3"/>
<path d="M811.5,599.7 Q815.3,599.7 815.3,603.5 L815.3,656.9 L829.7,656.9" fill="none" stroke="#0a0a0a" stroke-width="1.3"/>
<path d="M868.3,599.9 Q872.1,599.9 872.1,603.5 L872.1,729 L877,731.6" fill="none" stroke="#0a0a0a" stroke-width="1.3"/>
<path d="M884.5,445.8 Q888.4,446 888.4,450 L888.4,616.8 L997,617.4 Q1001,617.6 1001,621.5 L1001,708.5 L1011.5,708.5" fill="none" stroke="#0a0a0a" stroke-width="1.3"/>
<polyline points="997.0,617.4 1024.7,617.4 1024.7,621.5 1059.5,621.5" fill="none" stroke="#0a0a0a" stroke-width="1.3"/>
<polyline points="929.6,617.2 929.6,640.8 948.0,641.0" fill="none" stroke="#0a0a0a" stroke-width="1.3"/>
<rect x="829.7" y="649.7" width="19.9" height="37.5" fill="none" stroke="#0a0a0a" stroke-width="1.3"/>
<text x="840.0" y="669.0" font-family="Liberation Sans" font-size="8" text-anchor="middle" font-weight="normal" fill="#111" stroke="#111" stroke-width="0.28" dominant-baseline="central">6C</text>
<text transform="translate(833.0,657.5) scale(0.86,1)" font-family="Liberation Sans" font-size="5.49" text-anchor="middle" font-weight="normal" fill="#111" stroke="#111" stroke-width="0.28" dominant-baseline="central">D</text>
<text transform="translate(846.0,657.5) scale(0.86,1)" font-family="Liberation Sans" font-size="5.49" text-anchor="middle" font-weight="normal" fill="#111" stroke="#111" stroke-width="0.28" dominant-baseline="central">Q</text>
<text transform="translate(833.5,681.5) scale(0.86,1)" font-family="Liberation Sans" font-size="4.88" text-anchor="middle" font-weight="normal" fill="#111" stroke="#111" stroke-width="0.28" dominant-baseline="central">CK</text>
<text transform="translate(839.5,653.5) scale(0.86,1)" font-family="Liberation Sans" font-size="4.27" text-anchor="middle" font-weight="normal" fill="#111" stroke="#111" stroke-width="0.28" dominant-baseline="central">CL</text>
<text transform="translate(839.5,684.0) scale(0.86,1)" font-family="Liberation Sans" font-size="4.27" text-anchor="middle" font-weight="normal" fill="#111" stroke="#111" stroke-width="0.28" dominant-baseline="central">P</text>
<text transform="translate(826.0,653.5) scale(0.86,1)" font-family="Liberation Sans" font-size="5.49" text-anchor="middle" font-weight="normal" fill="#111" stroke="#111" stroke-width="0.28" dominant-baseline="central">2</text>
<text transform="translate(826.0,677.5) scale(0.86,1)" font-family="Liberation Sans" font-size="5.49" text-anchor="middle" font-weight="normal" fill="#111" stroke="#111" stroke-width="0.28" dominant-baseline="central">3</text>
<text transform="translate(855.0,654.0) scale(0.86,1)" font-family="Liberation Sans" font-size="5.49" text-anchor="middle" font-weight="normal" fill="#111" stroke="#111" stroke-width="0.28" dominant-baseline="central">5</text>
<text transform="translate(843.0,639.0) scale(0.86,1)" font-family="Liberation Sans" font-size="5.49" text-anchor="middle" font-weight="normal" fill="#111" stroke="#111" stroke-width="0.28" dominant-baseline="central">1</text>
<text transform="translate(843.5,695.0) scale(0.86,1)" font-family="Liberation Sans" font-size="5.49" text-anchor="middle" font-weight="normal" fill="#111" stroke="#111" stroke-width="0.28" dominant-baseline="central">4</text>
<text transform="translate(822.0,668.5) scale(0.86,1)" font-family="Liberation Sans" font-size="6.71" text-anchor="middle" font-weight="normal" fill="#111" stroke="#111" stroke-width="0.28" dominant-baseline="central">LS74</text>
<circle cx="839.7" cy="648.0" r="1.5" fill="white" stroke="#0a0a0a" stroke-width="1.1"/>
<circle cx="839.7" cy="689.0" r="1.5" fill="white" stroke="#0a0a0a" stroke-width="1.1"/>
<polyline points="839.7,646.5 839.7,637.2 921.6,637.2 921.6,698.5 883.0,698.5" fill="none" stroke="#0a0a0a" stroke-width="1.3"/>
<polyline points="849.6,656.9 860.3,656.9 860.3,629.1 913.7,629.1 913.7,647.5 948.0,647.7" fill="none" stroke="#0a0a0a" stroke-width="1.3"/>
<polyline points="762.8,689.3 776.5,689.3" fill="none" stroke="#0a0a0a" stroke-width="1.3"/>
<path d="M776.5,681.3 L792.8,689.3 L776.5,697.3 Z" fill="white" stroke="#0a0a0a" stroke-width="1.3"/>
<circle cx="794.8" cy="689.3" r="2.0" fill="white" stroke="#0a0a0a" stroke-width="1.1"/>
<text transform="translate(782.7,689.3) scale(0.86,1)" font-family="Liberation Sans" font-size="8.54" text-anchor="middle" font-weight="normal" fill="#111" stroke="#111" stroke-width="0.28" dominant-baseline="central">6B</text>
<text transform="translate(760.0,685.5) scale(0.86,1)" font-family="Liberation Sans" font-size="5.49" text-anchor="middle" font-weight="normal" fill="#111" stroke="#111" stroke-width="0.28" dominant-baseline="central">1H</text>
<text transform="translate(772.5,686.0) scale(0.86,1)" font-family="Liberation Sans" font-size="5.49" text-anchor="middle" font-weight="normal" fill="#111" stroke="#111" stroke-width="0.28" dominant-baseline="central">6</text>
<text transform="translate(799.0,685.5) scale(0.86,1)" font-family="Liberation Sans" font-size="5.49" text-anchor="middle" font-weight="normal" fill="#111" stroke="#111" stroke-width="0.28" dominant-baseline="central">7</text>
<text transform="translate(783.0,704.5) scale(0.86,1)" font-family="Liberation Sans" font-size="6.71" text-anchor="middle" font-weight="normal" fill="#111" stroke="#111" stroke-width="0.28" dominant-baseline="central">LS366</text>
<path d="M796.8,689.3 L803,689.3 Q807.8,689.3 807.8,685 Q807.8,681.2 812,681.2 L829.7,681.2" fill="none" stroke="#0a0a0a" stroke-width="1.3"/>
<path d="M803,689.3 Q807.8,689.3 807.8,694 L807.8,705.6 L929.6,705.6 L929.6,686.5 L950.7,686.5" fill="none" stroke="#0a0a0a" stroke-width="1.3"/>
<polyline points="762.8,689.3 762.8,856.0" fill="none" stroke="#0a0a0a" stroke-width="1.3"/>
<path d="M762.8,856 Q762.8,860 767,860" fill="none" stroke="#0a0a0a" stroke-width="1.3"/>
<polyline points="839.7,690.5 839.7,767.4 982.2,767.4 982.2,690.8 975.0,690.8" fill="none" stroke="#0a0a0a" stroke-width="1.3"/>
<polyline points="824.0,697.7 832.0,697.7" fill="none" stroke="#0a0a0a" stroke-width="1.3"/>
<polyline points="832.0,693.5 832.0,702.0" fill="none" stroke="#0a0a0a" stroke-width="1.3"/>
<polyline points="835.0,693.5 835.0,702.0" fill="none" stroke="#0a0a0a" stroke-width="1.3"/>
<polyline points="835.0,697.7 839.7,697.7" fill="none" stroke="#0a0a0a" stroke-width="1.3"/>
<path d="M819.6,697.7 L824,695.2 L824,700.2 Z" fill="none" stroke="#0a0a0a" stroke-width="1.0"/>
<rect x="882.2" y="649.7" width="20.6" height="37.5" fill="none" stroke="#0a0a0a" stroke-width="1.3"/>
<text x="892.0" y="669.0" font-family="Liberation Sans" font-size="8" text-anchor="middle" font-weight="normal" fill="#111" stroke="#111" stroke-width="0.28" dominant-baseline="central">6C</text>
<text transform="translate(886.0,657.5) scale(0.86,1)" font-family="Liberation Sans" font-size="5.49" text-anchor="middle" font-weight="normal" fill="#111" stroke="#111" stroke-width="0.28" dominant-baseline="central">D</text>
<text transform="translate(899.5,657.5) scale(0.86,1)" font-family="Liberation Sans" font-size="5.49" text-anchor="middle" font-weight="normal" fill="#111" stroke="#111" stroke-width="0.28" dominant-baseline="central">Q</text>
<text transform="translate(886.5,682.0) scale(0.86,1)" font-family="Liberation Sans" font-size="4.88" text-anchor="middle" font-weight="normal" fill="#111" stroke="#111" stroke-width="0.28" dominant-baseline="central">CK</text>
<text transform="translate(877.0,653.5) scale(0.86,1)" font-family="Liberation Sans" font-size="5.49" text-anchor="middle" font-weight="normal" fill="#111" stroke="#111" stroke-width="0.28" dominant-baseline="central">12</text>
<text transform="translate(906.0,653.5) scale(0.86,1)" font-family="Liberation Sans" font-size="5.49" text-anchor="middle" font-weight="normal" fill="#111" stroke="#111" stroke-width="0.28" dominant-baseline="central">9</text>
<text transform="translate(877.0,678.5) scale(0.86,1)" font-family="Liberation Sans" font-size="5.49" text-anchor="middle" font-weight="normal" fill="#111" stroke="#111" stroke-width="0.28" dominant-baseline="central">11</text>
<text transform="translate(899.0,644.0) scale(0.86,1)" font-family="Liberation Sans" font-size="5.49" text-anchor="middle" font-weight="normal" fill="#111" stroke="#111" stroke-width="0.28" dominant-baseline="central">13</text>
<text transform="translate(898.0,694.5) scale(0.86,1)" font-family="Liberation Sans" font-size="5.49" text-anchor="middle" font-weight="normal" fill="#111" stroke="#111" stroke-width="0.28" dominant-baseline="central">10</text>
<text transform="translate(876.0,694.0) scale(0.86,1)" font-family="Liberation Sans" font-size="5.49" text-anchor="middle" font-weight="normal" fill="#111" stroke="#111" stroke-width="0.28" dominant-baseline="central">+5V</text>
<polyline points="872.1,657.2 882.2,657.2" fill="none" stroke="#0a0a0a" stroke-width="1.3"/>
<circle cx="892.7" cy="648.0" r="1.5" fill="white" stroke="#0a0a0a" stroke-width="1.1"/>
<circle cx="892.7" cy="689.0" r="1.5" fill="white" stroke="#0a0a0a" stroke-width="1.1"/>
<path d="M892.7,646.5 L892.7,642 Q892.7,637.7 897,637.7" fill="none" stroke="#0a0a0a" stroke-width="1.3"/>
<polyline points="892.7,690.5 892.7,698.5" fill="none" stroke="#0a0a0a" stroke-width="1.3"/>
<polyline points="902.8,657.8 913.7,657.8 913.7,715.0 864.0,715.0 864.0,748.7" fill="none" stroke="#0a0a0a" stroke-width="1.3"/>
<polyline points="882.2,682.2 860.3,682.2 860.3,703.7 851.8,703.7 851.8,729.6" fill="none" stroke="#0a0a0a" stroke-width="1.3"/>
<path d="M811.5,721.6 L827.9,729.6 L811.5,737.6 Z" fill="white" stroke="#0a0a0a" stroke-width="1.3"/>
<circle cx="829.9" cy="729.6" r="2.0" fill="white" stroke="#0a0a0a" stroke-width="1.1"/>
<text transform="translate(817.7,729.6) scale(0.86,1)" font-family="Liberation Sans" font-size="8.54" text-anchor="middle" font-weight="normal" fill="#111" stroke="#111" stroke-width="0.28" dominant-baseline="central">6B</text>
<text transform="translate(806.0,725.5) scale(0.86,1)" font-family="Liberation Sans" font-size="5.49" text-anchor="middle" font-weight="normal" fill="#111" stroke="#111" stroke-width="0.28" dominant-baseline="central">12</text>
<text transform="translate(834.0,725.5) scale(0.86,1)" font-family="Liberation Sans" font-size="5.49" text-anchor="middle" font-weight="normal" fill="#111" stroke="#111" stroke-width="0.28" dominant-baseline="central">11</text>
<polyline points="831.9,729.6 851.8,729.6" fill="none" stroke="#0a0a0a" stroke-width="1.3"/>
<path d="M851.8,729.6 L851.8,726 Q851.8,722.5 855.5,722.5 L937.1,722.5 L937.1,694.3 L950.7,694.3" fill="none" stroke="#0a0a0a" stroke-width="1.3"/>
<polyline points="811.5,729.6 795.6,729.6 795.6,742.0 792.0,745.9" fill="none" stroke="#0a0a0a" stroke-width="1.3"/>
<path d="M763.5,750 Q763.5,745.9 768,745.9 L877,746.8" fill="none" stroke="#0a0a0a" stroke-width="1.3"/>
<text transform="translate(782.0,742.0) scale(0.86,1)" font-family="Liberation Sans" font-size="6.1" text-anchor="middle" font-weight="normal" fill="#111" stroke="#111" stroke-width="0.28" dominant-baseline="central">2H</text>
<path d="M879,729 L890.25,729 A11.25,11.25 0 0 1 890.25,751.5 L879,751.5 Z" fill="white" stroke="#0a0a0a" stroke-width="1.3"/>
<text transform="translate(888.5,740.2) scale(0.86,1)" font-family="Liberation Sans" font-size="9.15" text-anchor="middle" font-weight="normal" fill="#111" stroke="#111" stroke-width="0.28" dominant-baseline="central">7C</text>
<circle cx="877.5" cy="731.6" r="1.5" fill="white" stroke="#0a0a0a" stroke-width="1.1"/>
<circle cx="877.5" cy="739.7" r="1.5" fill="white" stroke="#0a0a0a" stroke-width="1.1"/>
<circle cx="877.5" cy="746.8" r="1.5" fill="white" stroke="#0a0a0a" stroke-width="1.1"/>
<polyline points="879.0,727.0 879.0,753.0" fill="none" stroke="#0a0a0a" stroke-width="1.3"/>
<text transform="translate(874.0,728.0) scale(0.86,1)" font-family="Liberation Sans" font-size="5.49" text-anchor="middle" font-weight="normal" fill="#111" stroke="#111" stroke-width="0.28" dominant-baseline="central">3</text>
<text transform="translate(874.0,736.5) scale(0.86,1)" font-family="Liberation Sans" font-size="5.49" text-anchor="middle" font-weight="normal" fill="#111" stroke="#111" stroke-width="0.28" dominant-baseline="central">4</text>
<text transform="translate(874.0,744.0) scale(0.86,1)" font-family="Liberation Sans" font-size="5.49" text-anchor="middle" font-weight="normal" fill="#111" stroke="#111" stroke-width="0.28" dominant-baseline="central">5</text>
<text transform="translate(907.0,736.0) scale(0.86,1)" font-family="Liberation Sans" font-size="5.49" text-anchor="middle" font-weight="normal" fill="#111" stroke="#111" stroke-width="0.28" dominant-baseline="central">6</text>
<text transform="translate(893.0,755.5) scale(0.86,1)" font-family="Liberation Sans" font-size="6.71" text-anchor="middle" font-weight="normal" fill="#111" stroke="#111" stroke-width="0.28" dominant-baseline="central">LS27</text>
<path d="M864,739.7 Q864,739.7 867,739.7 L876,739.7" fill="none" stroke="#0a0a0a" stroke-width="1.3"/>
<polyline points="864.0,748.7 864.0,750.0" fill="none" stroke="#0a0a0a" stroke-width="1.3"/>
<polyline points="860.0,750.5 868.0,750.5" fill="none" stroke="#0a0a0a" stroke-width="1.3"/>
<polyline points="860.0,752.5 868.0,752.5" fill="none" stroke="#0a0a0a" stroke-width="1.3"/>
<polyline points="864.0,753.0 864.0,757.0" fill="none" stroke="#0a0a0a" stroke-width="1.3"/>
<path d="M860.7,757 L867.3,757 L864,761.62 Z" fill="none" stroke="#0a0a0a" stroke-width="1.0"/>
<polyline points="901.5,739.0 990.3,739.0" fill="none" stroke="#0a0a0a" stroke-width="1.3"/>
<path d="M950.7,633.5 L962.9,633.5 A8.1,8.1 0 0 1 962.9,649.7 L950.7,649.7 Z" fill="white" stroke="#0a0a0a" stroke-width="1.3"/>
<text transform="translate(959.2,641.6) scale(0.86,1)" font-family="Liberation Sans" font-size="9.15" text-anchor="middle" font-weight="normal" fill="#111" stroke="#111" stroke-width="0.28" dominant-baseline="central">7C</text>
<circle cx="948.5" cy="634.0" r="1.4" fill="white" stroke="#0a0a0a" stroke-width="1.1"/>
<circle cx="948.5" cy="641.0" r="1.4" fill="white" stroke="#0a0a0a" stroke-width="1.1"/>
<circle cx="948.5" cy="647.7" r="1.4" fill="white" stroke="#0a0a0a" stroke-width="1.1"/>
<polyline points="950.3,628.0 950.3,652.0" fill="none" stroke="#0a0a0a" stroke-width="1.3"/>
<text transform="translate(943.0,630.0) scale(0.86,1)" font-family="Liberation Sans" font-size="5.49" text-anchor="middle" font-weight="normal" fill="#111" stroke="#111" stroke-width="0.28" dominant-baseline="central">13</text>
<text transform="translate(944.0,637.5) scale(0.86,1)" font-family="Liberation Sans" font-size="5.49" text-anchor="middle" font-weight="normal" fill="#111" stroke="#111" stroke-width="0.28" dominant-baseline="central">1</text>
<text transform="translate(944.0,644.5) scale(0.86,1)" font-family="Liberation Sans" font-size="5.49" text-anchor="middle" font-weight="normal" fill="#111" stroke="#111" stroke-width="0.28" dominant-baseline="central">2</text>
<text transform="translate(976.5,637.0) scale(0.86,1)" font-family="Liberation Sans" font-size="5.49" text-anchor="middle" font-weight="normal" fill="#111" stroke="#111" stroke-width="0.28" dominant-baseline="central">12</text>
<text transform="translate(958.5,657.5) scale(0.86,1)" font-family="Liberation Sans" font-size="6.71" text-anchor="middle" font-weight="normal" fill="#111" stroke="#111" stroke-width="0.28" dominant-baseline="central">LS27</text>
<polyline points="938.0,634.0 947.0,634.0" fill="none" stroke="#0a0a0a" stroke-width="1.3"/>
<polyline points="971.0,641.5 1014.5,641.5 1014.5,650.0 1038.0,650.0" fill="none" stroke="#0a0a0a" stroke-width="1.3"/>
<path d="M1095.5,588.5 Q1105.785,588.5 1114.2,596.6 Q1105.785,604.7 1095.5,604.7 Q1101.11,596.6 1095.5,588.5 Z" fill="white" stroke="#0a0a0a" stroke-width="1.3"/>
<text transform="translate(1103.4,596.6) scale(0.86,1)" font-family="Liberation Sans" font-size="9.15" text-anchor="middle" font-weight="normal" fill="#111" stroke="#111" stroke-width="0.28" dominant-baseline="central">5B</text>
<path d="M1059.5,609.2 Q1069.785,609.2 1078.2,617.2 Q1069.785,625.2 1059.5,625.2 Q1065.11,617.2 1059.5,609.2 Z" fill="white" stroke="#0a0a0a" stroke-width="1.3"/>
<text transform="translate(1067.4,617.2) scale(0.86,1)" font-family="Liberation Sans" font-size="9.15" text-anchor="middle" font-weight="normal" fill="#111" stroke="#111" stroke-width="0.28" dominant-baseline="central">5B</text>
<text transform="translate(1090.0,588.5) scale(0.86,1)" font-family="Liberation Sans" font-size="5.49" text-anchor="middle" font-weight="normal" fill="#111" stroke="#111" stroke-width="0.28" dominant-baseline="central">5</text>
<text transform="translate(1090.0,596.0) scale(0.86,1)" font-family="Liberation Sans" font-size="5.49" text-anchor="middle" font-weight="normal" fill="#111" stroke="#111" stroke-width="0.28" dominant-baseline="central">4</text>
<text transform="translate(1118.5,594.0) scale(0.86,1)" font-family="Liberation Sans" font-size="5.49" text-anchor="middle" font-weight="normal" fill="#111" stroke="#111" stroke-width="0.28" dominant-baseline="central">6</text>
<text transform="translate(1071.0,601.5) scale(0.86,1)" font-family="Liberation Sans" font-size="6.71" text-anchor="middle" font-weight="normal" fill="#111" stroke="#111" stroke-width="0.28" dominant-baseline="central">LS32</text>
<text transform="translate(1055.0,609.5) scale(0.86,1)" font-family="Liberation Sans" font-size="5.49" text-anchor="middle" font-weight="normal" fill="#111" stroke="#111" stroke-width="0.28" dominant-baseline="central">1</text>
<text transform="translate(1055.0,617.0) scale(0.86,1)" font-family="Liberation Sans" font-size="5.49" text-anchor="middle" font-weight="normal" fill="#111" stroke="#111" stroke-width="0.28" dominant-baseline="central">2</text>
<text transform="translate(1081.0,615.0) scale(0.86,1)" font-family="Liberation Sans" font-size="5.49" text-anchor="middle" font-weight="normal" fill="#111" stroke="#111" stroke-width="0.28" dominant-baseline="central">3</text>
<polyline points="991.7,716.0 991.7,592.2 1097.0,592.2" fill="none" stroke="#0a0a0a" stroke-width="1.3"/>
<polyline points="1078.2,617.2 1087.7,617.2 1087.7,597.5 1097.0,597.5" fill="none" stroke="#0a0a0a" stroke-width="1.3"/>
<polyline points="937.5,605.0 937.5,600.2 1032.5,600.2 1032.5,612.8 1061.0,612.8" fill="none" stroke="#0a0a0a" stroke-width="1.3"/>
<path d="M1039.2,642.2 Q1049.1000000000001,642.2 1057.2,649.85 Q1049.1000000000001,657.5 1039.2,657.5 Q1044.6000000000001,649.85 1039.2,642.2 Z" fill="white" stroke="#0a0a0a" stroke-width="1.3"/>
<circle cx="1059.2" cy="649.9" r="2.0" fill="white" stroke="#0a0a0a" stroke-width="1.1"/>
<text transform="translate(1046.8,649.9) scale(0.86,1)" font-family="Liberation Sans" font-size="9.15" text-anchor="middle" font-weight="normal" fill="#111" stroke="#111" stroke-width="0.28" dominant-baseline="central">7C</text>
<text transform="translate(1062.0,646.0) scale(0.86,1)" font-family="Liberation Sans" font-size="5.49" text-anchor="middle" font-weight="normal" fill="#111" stroke="#111" stroke-width="0.28" dominant-baseline="central">8</text>
<text transform="translate(1035.0,643.0) scale(0.86,1)" font-family="Liberation Sans" font-size="4.88" text-anchor="middle" font-weight="normal" fill="#111" stroke="#111" stroke-width="0.28" dominant-baseline="central">10</text>
<text transform="translate(1034.5,648.0) scale(0.86,1)" font-family="Liberation Sans" font-size="4.88" text-anchor="middle" font-weight="normal" fill="#111" stroke="#111" stroke-width="0.28" dominant-baseline="central">11</text>
<text transform="translate(1034.5,653.5) scale(0.86,1)" font-family="Liberation Sans" font-size="4.88" text-anchor="middle" font-weight="normal" fill="#111" stroke="#111" stroke-width="0.28" dominant-baseline="central">9</text>
<text transform="translate(1047.0,664.0) scale(0.86,1)" font-family="Liberation Sans" font-size="6.71" text-anchor="middle" font-weight="normal" fill="#111" stroke="#111" stroke-width="0.28" dominant-baseline="central">LS27</text>
<polyline points="1061.5,649.8 1139.3,650.0" fill="none" stroke="#0a0a0a" stroke-width="1.3"/>
<polyline points="1040.0,655.2 1024.2,655.2 1024.2,663.0" fill="none" stroke="#0a0a0a" stroke-width="1.3"/>
<path d="M1020.9000000000001,663 L1027.5,663 L1024.2,667.62 Z" fill="none" stroke="#0a0a0a" stroke-width="1.0"/>
<path d="M1041.5,627.5 L1031,633.5 L1041.5,639.5 Z" fill="white" stroke="#0a0a0a" stroke-width="1.3"/>
<circle cx="1029.0" cy="633.5" r="1.7" fill="white" stroke="#0a0a0a" stroke-width="1.1"/>
<text transform="translate(1034.5,626.5) scale(0.86,1)" font-family="Liberation Sans" font-size="6.71" text-anchor="middle" font-weight="normal" fill="#111" stroke="#111" stroke-width="0.28" dominant-baseline="central">8C</text>
<text transform="translate(1014.0,633.0) scale(0.86,1)" font-family="Liberation Sans" font-size="6.1" text-anchor="middle" font-weight="normal" fill="#111" stroke="#111" stroke-width="0.28" dominant-baseline="central">LS00</text>
<text transform="translate(1046.0,630.5) scale(0.86,1)" font-family="Liberation Sans" font-size="5.12" text-anchor="middle" font-weight="normal" fill="#111" stroke="#111" stroke-width="0.28" dominant-baseline="central">12</text>
<text transform="translate(1046.0,637.0) scale(0.86,1)" font-family="Liberation Sans" font-size="5.12" text-anchor="middle" font-weight="normal" fill="#111" stroke="#111" stroke-width="0.28" dominant-baseline="central">13</text>
<text transform="translate(1026.0,631.0) scale(0.86,1)" font-family="Liberation Sans" font-size="4.88" text-anchor="middle" font-weight="normal" fill="#111" stroke="#111" stroke-width="0.28" dominant-baseline="central">11</text>
<text transform="translate(1035.0,641.0) scale(0.86,1)" font-family="Liberation Sans" font-size="4.88" text-anchor="middle" font-weight="normal" fill="#111" stroke="#111" stroke-width="0.28" dominant-baseline="central">10</text>
<polyline points="1041.5,633.5 1099.0,633.5" fill="none" stroke="#0a0a0a" stroke-width="1.3"/>
<path d="M1104,633.5 L1099,631.25 L1099,635.75 Z" fill="#0a0a0a" stroke="#0a0a0a" stroke-width="0.8"/>
<polyline points="1027.0,633.5 1025.0,633.5 1025.0,643.2 1040.0,643.2" fill="none" stroke="#0a0a0a" stroke-width="1.3"/>
<text transform="translate(1121.0,627.0) scale(0.86,1)" font-family="Liberation Sans" font-size="6.1" text-anchor="middle" font-weight="normal" font-style="italic" fill="#111" stroke="#111" stroke-width="0.28" dominant-baseline="central">(SHT 2)</text>
<text transform="translate(1117.0,633.5) scale(0.86,1)" font-family="Liberation Sans" font-size="6.71" text-anchor="middle" font-weight="normal" fill="#111" stroke="#111" stroke-width="0.28" dominant-baseline="central">IC 8A</text>
<text transform="translate(1115.0,640.0) scale(0.86,1)" font-family="Liberation Sans" font-size="5.12" text-anchor="middle" font-weight="normal" fill="#111" stroke="#111" stroke-width="0.28" dominant-baseline="central">PIN 1C</text>
<polyline points="1097.3,633.5 1097.3,657.0" fill="none" stroke="#0a0a0a" stroke-width="1.3"/>
<circle cx="1097.3" cy="658.5" r="1.3" fill="white" stroke="#0a0a0a" stroke-width="1.1"/>
<polyline points="1097.3,666.0 1092.5,656.5" fill="none" stroke="#0a0a0a" stroke-width="1.1"/>
<polyline points="1097.3,666.0 1097.3,677.0" fill="none" stroke="#0a0a0a" stroke-width="1.3"/>
<path d="M1094.0,677 L1100.6,677 L1097.3,681.62 Z" fill="none" stroke="#0a0a0a" stroke-width="1.0"/>
<text transform="translate(1113.5,662.0) scale(0.86,1)" font-family="Liberation Sans" font-size="6.71" text-anchor="middle" font-weight="normal" fill="#111" stroke="#111" stroke-width="0.28" dominant-baseline="central">DIP</text>
<text transform="translate(1113.0,670.0) scale(0.86,1)" font-family="Liberation Sans" font-size="6.71" text-anchor="middle" font-weight="normal" fill="#111" stroke="#111" stroke-width="0.28" dominant-baseline="central">N8</text>
<text transform="translate(1085.0,673.0) scale(0.86,1)" font-family="Liberation Sans" font-size="6.71" text-anchor="middle" font-weight="normal" fill="#111" stroke="#111" stroke-width="0.28" dominant-baseline="central">WAIT</text>
<path d="M991.7,690 Q991.7,686 996,686 L1016,686" fill="none" stroke="#0a0a0a" stroke-width="1.3"/>
<path d="M1016,677.5 L1032.5,686 L1016,694.5 Z" fill="white" stroke="#0a0a0a" stroke-width="1.3"/>
<circle cx="1034.5" cy="686.0" r="2.0" fill="white" stroke="#0a0a0a" stroke-width="1.1"/>
<text transform="translate(1022.3,686.0) scale(0.86,1)" font-family="Liberation Sans" font-size="8.54" text-anchor="middle" font-weight="normal" fill="#111" stroke="#111" stroke-width="0.28" dominant-baseline="central">6B</text>
<text transform="translate(1013.5,683.0) scale(0.86,1)" font-family="Liberation Sans" font-size="5.49" text-anchor="middle" font-weight="normal" fill="#111" stroke="#111" stroke-width="0.28" dominant-baseline="central">4</text>
<text transform="translate(1039.0,683.0) scale(0.86,1)" font-family="Liberation Sans" font-size="5.49" text-anchor="middle" font-weight="normal" fill="#111" stroke="#111" stroke-width="0.28" dominant-baseline="central">13</text>
<text transform="translate(1029.0,696.5) scale(0.86,1)" font-family="Liberation Sans" font-size="6.71" text-anchor="middle" font-weight="normal" fill="#111" stroke="#111" stroke-width="0.28" dominant-baseline="central">LS366</text>
<path d="M1036.5,686 L1130,685.6 Q1134.2,685.6 1134.2,690" fill="none" stroke="#0a0a0a" stroke-width="1.3"/>
<path d="M950.7,683 L963.15,683 A7.85,7.85 0 0 1 963.15,698.7 L950.7,698.7 Z" fill="white" stroke="#0a0a0a" stroke-width="1.3"/>
<circle cx="973.0" cy="690.9" r="2.0" fill="white" stroke="#0a0a0a" stroke-width="1.1"/>
<text transform="translate(959.2,690.9) scale(0.86,1)" font-family="Liberation Sans" font-size="9.15" text-anchor="middle" font-weight="normal" fill="#111" stroke="#111" stroke-width="0.28" dominant-baseline="central">8C</text>
<text transform="translate(946.5,682.5) scale(0.86,1)" font-family="Liberation Sans" font-size="5.49" text-anchor="middle" font-weight="normal" fill="#111" stroke="#111" stroke-width="0.28" dominant-baseline="central">5</text>
<text transform="translate(946.5,692.0) scale(0.86,1)" font-family="Liberation Sans" font-size="5.49" text-anchor="middle" font-weight="normal" fill="#111" stroke="#111" stroke-width="0.28" dominant-baseline="central">4</text>
<text transform="translate(978.5,687.5) scale(0.86,1)" font-family="Liberation Sans" font-size="5.49" text-anchor="middle" font-weight="normal" fill="#111" stroke="#111" stroke-width="0.28" dominant-baseline="central">6</text>
<text transform="translate(960.0,705.0) scale(0.86,1)" font-family="Liberation Sans" font-size="6.71" text-anchor="middle" font-weight="normal" fill="#111" stroke="#111" stroke-width="0.28" dominant-baseline="central">LS00</text>
<path d="M1011.5,707 L1023.0,707 A8.0,8.0 0 0 1 1023.0,723 L1011.5,723 Z" fill="white" stroke="#0a0a0a" stroke-width="1.3"/>
<circle cx="1033.0" cy="715.0" r="2.0" fill="white" stroke="#0a0a0a" stroke-width="1.1"/>
<text transform="translate(1019.7,715.0) scale(0.86,1)" font-family="Liberation Sans" font-size="9.15" text-anchor="middle" font-weight="normal" fill="#111" stroke="#111" stroke-width="0.28" dominant-baseline="central">8C</text>
<text transform="translate(1008.0,705.5) scale(0.86,1)" font-family="Liberation Sans" font-size="5.49" text-anchor="middle" font-weight="normal" fill="#111" stroke="#111" stroke-width="0.28" dominant-baseline="central">1</text>
<text transform="translate(1008.0,714.0) scale(0.86,1)" font-family="Liberation Sans" font-size="5.49" text-anchor="middle" font-weight="normal" fill="#111" stroke="#111" stroke-width="0.28" dominant-baseline="central">2</text>
<text transform="translate(1039.0,712.0) scale(0.86,1)" font-family="Liberation Sans" font-size="5.49" text-anchor="middle" font-weight="normal" fill="#111" stroke="#111" stroke-width="0.28" dominant-baseline="central">3</text>
<text transform="translate(1021.0,729.5) scale(0.86,1)" font-family="Liberation Sans" font-size="6.71" text-anchor="middle" font-weight="normal" fill="#111" stroke="#111" stroke-width="0.28" dominant-baseline="central">LS00</text>
<polyline points="991.7,714.7 1011.5,714.7" fill="none" stroke="#0a0a0a" stroke-width="1.3"/>
<polyline points="991.7,714.7 991.7,739.0" fill="none" stroke="#0a0a0a" stroke-width="1.3"/>
<polyline points="1035.0,715.0 1087.0,714.7" fill="none" stroke="#0a0a0a" stroke-width="1.3"/>
<path d="M1092,714.7 L1087,712.45 L1087,716.95 Z" fill="#0a0a0a" stroke="#0a0a0a" stroke-width="0.8"/>
<text transform="translate(1100.0,714.5) scale(0.86,1)" font-family="Liberation Sans" font-size="7.32" text-anchor="middle" font-weight="normal" fill="#111" stroke="#111" stroke-width="0.28" dominant-baseline="central">R/W</text>
<polyline points="1104.0,709.5 1108.0,709.5" fill="none" stroke="#0a0a0a" stroke-width="0.8"/>
<polyline points="1072.8,714.7 1072.8,741.6" fill="none" stroke="#0a0a0a" stroke-width="1.3"/>
<path d="M1072.8,746.6 L1070.55,741.6 L1075.05,741.6 Z" fill="#0a0a0a" stroke="#0a0a0a" stroke-width="0.8"/>
<text transform="translate(1073.0,753.0) scale(0.86,1)" font-family="Liberation Sans" font-size="6.71" text-anchor="middle" font-weight="normal" fill="#111" stroke="#111" stroke-width="0.28" dominant-baseline="central">IC4P</text>
<text transform="translate(1073.0,761.0) scale(0.86,1)" font-family="Liberation Sans" font-size="5.49" text-anchor="middle" font-weight="normal" fill="#111" stroke="#111" stroke-width="0.28" dominant-baseline="central">PIN 8</text>
<text transform="translate(1072.5,769.5) scale(0.86,1)" font-family="Liberation Sans" font-size="6.1" text-anchor="middle" font-weight="normal" fill="#111" stroke="#111" stroke-width="0.28" dominant-baseline="central">(SHT 3)</text>
<text transform="translate(1092.0,724.0) scale(0.86,1)" font-family="Liberation Sans" font-size="6.1" text-anchor="middle" font-weight="normal" fill="#111" stroke="#111" stroke-width="0.28" dominant-baseline="central">IC 3W</text>
<text transform="translate(1098.0,730.5) scale(0.86,1)" font-family="Liberation Sans" font-size="4.88" text-anchor="middle" font-weight="normal" fill="#111" stroke="#111" stroke-width="0.28" dominant-baseline="central">PIN 1</text>
<text transform="translate(1095.5,737.5) scale(0.86,1)" font-family="Liberation Sans" font-size="6.1" text-anchor="middle" font-weight="normal" fill="#111" stroke="#111" stroke-width="0.28" dominant-baseline="central">(SHT 2)</text>
<polyline points="990.6,791.5 1146.0,791.5 1146.0,557.1" fill="none" stroke="#0a0a0a" stroke-width="1.3"/>
<polyline points="990.6,791.5 990.6,867.0" fill="none" stroke="#0a0a0a" stroke-width="1.3"/>
<polyline points="982.0,690.8 982.0,690.8" fill="none" stroke="#0a0a0a" stroke-width="1.3"/>
<polyline points="982.2,784.0 1157.8,784.0 1157.8,545.1" fill="none" stroke="#0a0a0a" stroke-width="1.3"/>
<polyline points="982.2,784.0 982.2,860.5" fill="none" stroke="#0a0a0a" stroke-width="1.3"/>
<polyline points="656.5,856.0 656.5,858.0 660.0,860.2 767.0,860.2 982.2,860.8" fill="none" stroke="#0a0a0a" stroke-width="1.3"/>
<polyline points="472.0,866.0 618.7,866.0 800.0,866.3 830.0,865.5 990.6,867.0" fill="none" stroke="#0a0a0a" stroke-width="1.3"/>
<polyline points="1157.8,548.0 1157.8,545.1 1376.0,545.7" fill="none" stroke="#0a0a0a" stroke-width="1.3"/>
<path d="M1381,545.7 L1376,543.45 L1376,547.95 Z" fill="#0a0a0a" stroke="#0a0a0a" stroke-width="0.8"/>
<text x="1401.0" y="545.0" font-family="Liberation Sans" font-size="7" text-anchor="middle" font-weight="normal" fill="#111" stroke="#111" stroke-width="0.28" dominant-baseline="central">1H~256H</text>
<text x="1401.0" y="553.5" font-family="Liberation Sans" font-size="6.6" text-anchor="middle" font-weight="normal" fill="#111" stroke="#111" stroke-width="0.28" dominant-baseline="central">1V~256V</text>
<text transform="translate(1446.0,546.0) scale(0.86,1)" font-family="Liberation Sans" font-size="7.08" text-anchor="middle" font-weight="normal" font-style="italic" fill="#111" stroke="#111" stroke-width="0.28" dominant-baseline="central">SHEETS</text>
<text transform="translate(1444.0,554.5) scale(0.86,1)" font-family="Liberation Sans" font-size="6.71" text-anchor="middle" font-weight="normal" fill="#111" stroke="#111" stroke-width="0.28" dominant-baseline="central">2,3</text>
<path d="M1313,545.5 Q1317.1,545.5 1317.1,549.5 L1317.1,578.1 L1345.2,578.1" fill="none" stroke="#0a0a0a" stroke-width="1.3"/>
<polyline points="1146.4,557.1 1285.0,557.1 1285.0,614.5 1271.0,614.5" fill="none" stroke="#0a0a0a" stroke-width="1.3"/>
<path d="M1158.3,590 Q1158.3,585.5 1163,585.5 L1171.1,585.5" fill="none" stroke="#0a0a0a" stroke-width="1.3"/>
<path d="M1171.1,577.5 L1187,585.5 L1171.1,593.5 Z" fill="white" stroke="#0a0a0a" stroke-width="1.3"/>
<circle cx="1189.0" cy="585.5" r="2.0" fill="white" stroke="#0a0a0a" stroke-width="1.1"/>
<text transform="translate(1177.1,585.5) scale(0.86,1)" font-family="Liberation Sans" font-size="8.54" text-anchor="middle" font-weight="normal" fill="#111" stroke="#111" stroke-width="0.28" dominant-baseline="central">8M</text>
<text transform="translate(1183.0,576.0) scale(0.86,1)" font-family="Liberation Sans" font-size="6.71" text-anchor="middle" font-weight="normal" fill="#111" stroke="#111" stroke-width="0.28" dominant-baseline="central">LS04</text>
<text transform="translate(1168.5,581.5) scale(0.86,1)" font-family="Liberation Sans" font-size="5.49" text-anchor="middle" font-weight="normal" fill="#111" stroke="#111" stroke-width="0.28" dominant-baseline="central">3</text>
<text transform="translate(1193.5,581.5) scale(0.86,1)" font-family="Liberation Sans" font-size="5.49" text-anchor="middle" font-weight="normal" fill="#111" stroke="#111" stroke-width="0.28" dominant-baseline="central">4</text>
<text transform="translate(1164.0,590.3) scale(0.86,1)" font-family="Liberation Sans" font-size="4.39" text-anchor="middle" font-weight="normal" fill="#111" stroke="#111" stroke-width="0.28" dominant-baseline="central">64H</text>
<polyline points="1191.0,585.5 1199.0,585.5 1199.0,589.0 1214.1,589.0" fill="none" stroke="#0a0a0a" stroke-width="1.3"/>
<polyline points="1199.0,589.0 1199.0,594.0 1214.1,594.0" fill="none" stroke="#0a0a0a" stroke-width="1.3"/>
<path d="M1158.3,606 Q1158.3,602.5 1162,602.5 L1198,602.5 L1198,598 L1214.1,598" fill="none" stroke="#0a0a0a" stroke-width="1.3"/>
<text transform="translate(1190.0,597.0) scale(0.86,1)" font-family="Liberation Sans" font-size="6.71" text-anchor="middle" font-weight="normal" fill="#111" stroke="#111" stroke-width="0.28" dominant-baseline="central">32H</text>
<path d="M1214.1,587 L1224.25,587 A6.55,6.55 0 0 1 1224.25,600.1 L1214.1,600.1 Z" fill="white" stroke="#0a0a0a" stroke-width="1.3"/>
<circle cx="1232.8" cy="593.5" r="2.0" fill="white" stroke="#0a0a0a" stroke-width="1.1"/>
<text transform="translate(1221.1,593.5) scale(0.86,1)" font-family="Liberation Sans" font-size="9.15" text-anchor="middle" font-weight="normal" fill="#111" stroke="#111" stroke-width="0.28" dominant-baseline="central">7M</text>
<text transform="translate(1211.0,585.0) scale(0.86,1)" font-family="Liberation Sans" font-size="5.12" text-anchor="middle" font-weight="normal" fill="#111" stroke="#111" stroke-width="0.28" dominant-baseline="central">1</text>
<text transform="translate(1210.5,602.5) scale(0.86,1)" font-family="Liberation Sans" font-size="5.12" text-anchor="middle" font-weight="normal" fill="#111" stroke="#111" stroke-width="0.28" dominant-baseline="central">13</text>
<text transform="translate(1237.5,590.0) scale(0.86,1)" font-family="Liberation Sans" font-size="5.49" text-anchor="middle" font-weight="normal" fill="#111" stroke="#111" stroke-width="0.28" dominant-baseline="central">12</text>
<text transform="translate(1225.5,605.5) scale(0.86,1)" font-family="Liberation Sans" font-size="6.71" text-anchor="middle" font-weight="normal" fill="#111" stroke="#111" stroke-width="0.28" dominant-baseline="central">LS10</text>
<polyline points="1235.0,593.5 1250.8,594.5" fill="none" stroke="#0a0a0a" stroke-width="1.3"/>
<rect x="1250.8" y="584.7" width="20.2" height="37.7" fill="none" stroke="#0a0a0a" stroke-width="1.3"/>
<text x="1260.5" y="604.0" font-family="Liberation Sans" font-size="8.5" text-anchor="middle" font-weight="normal" fill="#111" stroke="#111" stroke-width="0.28" dominant-baseline="central">8L</text>
<text transform="translate(1254.5,594.5) scale(0.86,1)" font-family="Liberation Sans" font-size="5.49" text-anchor="middle" font-weight="normal" fill="#111" stroke="#111" stroke-width="0.28" dominant-baseline="central">D</text>
<text transform="translate(1267.5,594.5) scale(0.86,1)" font-family="Liberation Sans" font-size="5.49" text-anchor="middle" font-weight="normal" fill="#111" stroke="#111" stroke-width="0.28" dominant-baseline="central">Q</text>
<text transform="translate(1254.0,614.8) scale(0.86,1)" font-family="Liberation Sans" font-size="5.49" text-anchor="middle" font-weight="normal" fill="#111" stroke="#111" stroke-width="0.28" dominant-baseline="central">C</text>
<text transform="translate(1267.5,614.5) scale(0.86,1)" font-family="Liberation Sans" font-size="5.49" text-anchor="middle" font-weight="normal" fill="#111" stroke="#111" stroke-width="0.28" dominant-baseline="central">Q</text>
<text transform="translate(1261.0,589.0) scale(0.86,1)" font-family="Liberation Sans" font-size="4.27" text-anchor="middle" font-weight="normal" fill="#111" stroke="#111" stroke-width="0.28" dominant-baseline="central">CL</text>
<text transform="translate(1261.0,618.5) scale(0.86,1)" font-family="Liberation Sans" font-size="4.27" text-anchor="middle" font-weight="normal" fill="#111" stroke="#111" stroke-width="0.28" dominant-baseline="central">P</text>
<text transform="translate(1248.0,591.0) scale(0.86,1)" font-family="Liberation Sans" font-size="5.12" text-anchor="middle" font-weight="normal" fill="#111" stroke="#111" stroke-width="0.28" dominant-baseline="central">12</text>
<text transform="translate(1274.5,590.5) scale(0.86,1)" font-family="Liberation Sans" font-size="5.49" text-anchor="middle" font-weight="normal" fill="#111" stroke="#111" stroke-width="0.28" dominant-baseline="central">7</text>
<text transform="translate(1246.0,611.5) scale(0.86,1)" font-family="Liberation Sans" font-size="5.12" text-anchor="middle" font-weight="normal" fill="#111" stroke="#111" stroke-width="0.28" dominant-baseline="central">11</text>
<text transform="translate(1275.0,611.0) scale(0.86,1)" font-family="Liberation Sans" font-size="5.49" text-anchor="middle" font-weight="normal" fill="#111" stroke="#111" stroke-width="0.28" dominant-baseline="central">8</text>
<text transform="translate(1267.0,581.0) scale(0.86,1)" font-family="Liberation Sans" font-size="5.49" text-anchor="middle" font-weight="normal" fill="#111" stroke="#111" stroke-width="0.28" dominant-baseline="central">13</text>
<text transform="translate(1266.0,627.0) scale(0.86,1)" font-family="Liberation Sans" font-size="5.49" text-anchor="middle" font-weight="normal" fill="#111" stroke="#111" stroke-width="0.28" dominant-baseline="central">10</text>
<circle cx="1261.1" cy="583.0" r="1.5" fill="white" stroke="#0a0a0a" stroke-width="1.1"/>
<polyline points="1261.1,571.4 1261.1,581.5" fill="none" stroke="#0a0a0a" stroke-width="1.3"/>
<polyline points="1259.0,574.0 1261.1,571.4" fill="none" stroke="#0a0a0a" stroke-width="1.3"/>
<text transform="translate(1262.0,566.5) scale(0.86,1)" font-family="Liberation Sans" font-size="6.71" text-anchor="middle" font-weight="normal" fill="#111" stroke="#111" stroke-width="0.28" dominant-baseline="central">+5V</text>
<text transform="translate(1284.0,624.0) scale(0.86,1)" font-family="Liberation Sans" font-size="7.32" text-anchor="middle" font-weight="normal" fill="#111" stroke="#111" stroke-width="0.28" dominant-baseline="central">LS74</text>
<polyline points="1271.0,594.3 1327.4,594.3 1327.4,583.1 1345.2,583.1" fill="none" stroke="#0a0a0a" stroke-width="1.3"/>
<path d="M1158.3,618 Q1158.3,614.5 1162,614.5 L1250.8,614.8" fill="none" stroke="#0a0a0a" stroke-width="1.3"/>
<text transform="translate(1167.0,610.0) scale(0.86,1)" font-family="Liberation Sans" font-size="6.71" text-anchor="middle" font-weight="normal" fill="#111" stroke="#111" stroke-width="0.28" dominant-baseline="central">16H</text>
<path d="M1158.3,642 Q1158.3,638.8 1162,638.8 L1215.7,638.8" fill="none" stroke="#0a0a0a" stroke-width="1.3"/>
<text transform="translate(1171.0,634.5) scale(0.86,1)" font-family="Liberation Sans" font-size="6.71" text-anchor="middle" font-weight="normal" fill="#111" stroke="#111" stroke-width="0.28" dominant-baseline="central">256H</text>
<path d="M1215.7,630.8 L1231.6,638.8 L1215.7,646.8 Z" fill="white" stroke="#0a0a0a" stroke-width="1.3"/>
<circle cx="1233.6" cy="638.8" r="2.0" fill="white" stroke="#0a0a0a" stroke-width="1.1"/>
<text transform="translate(1221.7,638.8) scale(0.86,1)" font-family="Liberation Sans" font-size="8.54" text-anchor="middle" font-weight="normal" fill="#111" stroke="#111" stroke-width="0.28" dominant-baseline="central">8M</text>
<text transform="translate(1226.0,627.0) scale(0.86,1)" font-family="Liberation Sans" font-size="6.71" text-anchor="middle" font-weight="normal" fill="#111" stroke="#111" stroke-width="0.28" dominant-baseline="central">LS04</text>
<text transform="translate(1210.5,635.0) scale(0.86,1)" font-family="Liberation Sans" font-size="5.49" text-anchor="middle" font-weight="normal" fill="#111" stroke="#111" stroke-width="0.28" dominant-baseline="central">13</text>
<text transform="translate(1240.0,635.0) scale(0.86,1)" font-family="Liberation Sans" font-size="5.49" text-anchor="middle" font-weight="normal" fill="#111" stroke="#111" stroke-width="0.28" dominant-baseline="central">12</text>
<polyline points="1235.6,638.8 1261.1,638.8 1261.1,624.0" fill="none" stroke="#0a0a0a" stroke-width="1.3"/>
<circle cx="1261.1" cy="623.8" r="1.5" fill="white" stroke="#0a0a0a" stroke-width="1.1"/>
<path d="M1158.3,659.1 Q1158.3,655.1 1162,655.1 L1215,655.1" fill="none" stroke="#0a0a0a" stroke-width="1.3"/>
<text transform="translate(1173.0,650.5) scale(0.86,1)" font-family="Liberation Sans" font-size="6.71" text-anchor="middle" font-weight="normal" fill="#111" stroke="#111" stroke-width="0.28" dominant-baseline="central">32V</text>
<path d="M1158.3,667.1 Q1158.3,663.1 1162,663.1 L1215,663.1" fill="none" stroke="#0a0a0a" stroke-width="1.3"/>
<text transform="translate(1173.0,658.7) scale(0.86,1)" font-family="Liberation Sans" font-size="6.71" text-anchor="middle" font-weight="normal" fill="#111" stroke="#111" stroke-width="0.28" dominant-baseline="central">64V</text>
<path d="M1158.3,677.4 Q1158.3,673.4 1162,673.4 L1215,673.4" fill="none" stroke="#0a0a0a" stroke-width="1.3"/>
<text transform="translate(1173.0,669.0) scale(0.86,1)" font-family="Liberation Sans" font-size="6.71" text-anchor="middle" font-weight="normal" fill="#111" stroke="#111" stroke-width="0.28" dominant-baseline="central">128V</text>
<polyline points="1215.0,655.1 1215.0,659.5 1229.2,659.5" fill="none" stroke="#0a0a0a" stroke-width="1.3"/>
<polyline points="1215.0,663.1 1229.2,663.5" fill="none" stroke="#0a0a0a" stroke-width="1.3"/>
<polyline points="1215.0,673.4 1215.0,668.0 1229.2,668.0" fill="none" stroke="#0a0a0a" stroke-width="1.3"/>
<path d="M1229.2,657.5 L1239.25,657.5 A5.95,5.95 0 0 1 1239.25,669.4 L1229.2,669.4 Z" fill="white" stroke="#0a0a0a" stroke-width="1.3"/>
<circle cx="1247.2" cy="663.5" r="2.0" fill="white" stroke="#0a0a0a" stroke-width="1.1"/>
<text transform="translate(1235.9,663.5) scale(0.86,1)" font-family="Liberation Sans" font-size="9.15" text-anchor="middle" font-weight="normal" fill="#111" stroke="#111" stroke-width="0.28" dominant-baseline="central">7M</text>
<text transform="translate(1226.0,655.5) scale(0.86,1)" font-family="Liberation Sans" font-size="5.12" text-anchor="middle" font-weight="normal" fill="#111" stroke="#111" stroke-width="0.28" dominant-baseline="central">3</text>
<text transform="translate(1226.0,671.5) scale(0.86,1)" font-family="Liberation Sans" font-size="5.12" text-anchor="middle" font-weight="normal" fill="#111" stroke="#111" stroke-width="0.28" dominant-baseline="central">5</text>
<text transform="translate(1251.0,660.0) scale(0.86,1)" font-family="Liberation Sans" font-size="5.49" text-anchor="middle" font-weight="normal" fill="#111" stroke="#111" stroke-width="0.28" dominant-baseline="central">6</text>
<text transform="translate(1241.0,675.5) scale(0.86,1)" font-family="Liberation Sans" font-size="6.71" text-anchor="middle" font-weight="normal" fill="#111" stroke="#111" stroke-width="0.28" dominant-baseline="central">LS10</text>
<polyline points="1249.5,663.5 1299.4,663.5" fill="none" stroke="#0a0a0a" stroke-width="1.3"/>
<path d="M1158.3,700 Q1158.3,695.8 1162,695.8 L1268.8,695.7 L1268.8,684.1 L1299.4,684.1" fill="none" stroke="#0a0a0a" stroke-width="1.3"/>
<text transform="translate(1167.5,691.5) scale(0.86,1)" font-family="Liberation Sans" font-size="6.71" text-anchor="middle" font-weight="normal" fill="#111" stroke="#111" stroke-width="0.28" dominant-baseline="central">16V</text>
<rect x="1299.4" y="655.1" width="19.9" height="37.1" fill="none" stroke="#0a0a0a" stroke-width="1.3"/>
<text x="1309.0" y="673.5" font-family="Liberation Sans" font-size="8.5" text-anchor="middle" font-weight="normal" fill="#111" stroke="#111" stroke-width="0.28" dominant-baseline="central">8L</text>
<text transform="translate(1303.0,663.5) scale(0.86,1)" font-family="Liberation Sans" font-size="5.49" text-anchor="middle" font-weight="normal" fill="#111" stroke="#111" stroke-width="0.28" dominant-baseline="central">D</text>
<text transform="translate(1316.0,663.5) scale(0.86,1)" font-family="Liberation Sans" font-size="5.49" text-anchor="middle" font-weight="normal" fill="#111" stroke="#111" stroke-width="0.28" dominant-baseline="central">Q</text>
<text transform="translate(1303.0,683.5) scale(0.86,1)" font-family="Liberation Sans" font-size="5.49" text-anchor="middle" font-weight="normal" fill="#111" stroke="#111" stroke-width="0.28" dominant-baseline="central">C</text>
<text transform="translate(1316.0,683.5) scale(0.86,1)" font-family="Liberation Sans" font-size="5.49" text-anchor="middle" font-weight="normal" fill="#111" stroke="#111" stroke-width="0.28" dominant-baseline="central">Q</text>
<text transform="translate(1309.5,659.0) scale(0.86,1)" font-family="Liberation Sans" font-size="4.27" text-anchor="middle" font-weight="normal" fill="#111" stroke="#111" stroke-width="0.28" dominant-baseline="central">P</text>
<text transform="translate(1309.5,688.5) scale(0.86,1)" font-family="Liberation Sans" font-size="4.27" text-anchor="middle" font-weight="normal" fill="#111" stroke="#111" stroke-width="0.28" dominant-baseline="central">CL</text>
<text transform="translate(1296.0,660.0) scale(0.86,1)" font-family="Liberation Sans" font-size="5.49" text-anchor="middle" font-weight="normal" fill="#111" stroke="#111" stroke-width="0.28" dominant-baseline="central">2</text>
<text transform="translate(1296.0,680.0) scale(0.86,1)" font-family="Liberation Sans" font-size="5.49" text-anchor="middle" font-weight="normal" fill="#111" stroke="#111" stroke-width="0.28" dominant-baseline="central">3</text>
<text transform="translate(1324.0,660.0) scale(0.86,1)" font-family="Liberation Sans" font-size="5.49" text-anchor="middle" font-weight="normal" fill="#111" stroke="#111" stroke-width="0.28" dominant-baseline="central">5</text>
<text transform="translate(1324.0,680.0) scale(0.86,1)" font-family="Liberation Sans" font-size="5.49" text-anchor="middle" font-weight="normal" fill="#111" stroke="#111" stroke-width="0.28" dominant-baseline="central">6</text>
<text transform="translate(1314.0,649.0) scale(0.86,1)" font-family="Liberation Sans" font-size="5.49" text-anchor="middle" font-weight="normal" fill="#111" stroke="#111" stroke-width="0.28" dominant-baseline="central">4</text>
<text transform="translate(1313.0,697.0) scale(0.86,1)" font-family="Liberation Sans" font-size="5.49" text-anchor="middle" font-weight="normal" fill="#111" stroke="#111" stroke-width="0.28" dominant-baseline="central">1</text>
<circle cx="1310.0" cy="653.3" r="1.5" fill="white" stroke="#0a0a0a" stroke-width="1.1"/>
<polyline points="1310.0,635.0 1310.0,651.8" fill="none" stroke="#0a0a0a" stroke-width="1.3"/>
<polyline points="1308.0,637.5 1310.0,635.0" fill="none" stroke="#0a0a0a" stroke-width="1.3"/>
<text transform="translate(1313.0,633.0) scale(0.86,1)" font-family="Liberation Sans" font-size="6.71" text-anchor="middle" font-weight="normal" fill="#111" stroke="#111" stroke-width="0.28" dominant-baseline="central">+5V</text>
<circle cx="1310.0" cy="694.0" r="1.5" fill="white" stroke="#0a0a0a" stroke-width="1.1"/>
<polyline points="1310.0,695.5 1310.0,710.0" fill="none" stroke="#0a0a0a" stroke-width="1.3"/>
<polyline points="1308.0,710.0 1310.0,710.0" fill="none" stroke="#0a0a0a" stroke-width="1.3"/>
<text transform="translate(1314.0,714.5) scale(0.86,1)" font-family="Liberation Sans" font-size="6.71" text-anchor="middle" font-weight="normal" fill="#111" stroke="#111" stroke-width="0.28" dominant-baseline="central">+5V</text>
<text transform="translate(1331.0,698.0) scale(0.86,1)" font-family="Liberation Sans" font-size="7.32" text-anchor="middle" font-weight="normal" fill="#111" stroke="#111" stroke-width="0.28" dominant-baseline="central">LS74</text>
<polyline points="1319.3,663.6 1376.0,663.6" fill="none" stroke="#0a0a0a" stroke-width="1.3"/>
<path d="M1381,663.6 L1376,661.35 L1376,665.85 Z" fill="#0a0a0a" stroke="#0a0a0a" stroke-width="0.8"/>
<polyline points="1319.3,683.5 1376.0,683.5" fill="none" stroke="#0a0a0a" stroke-width="1.3"/>
<path d="M1381,683.5 L1376,681.25 L1376,685.75 Z" fill="#0a0a0a" stroke="#0a0a0a" stroke-width="0.8"/>
<text x="1400.0" y="663.5" font-family="Liberation Sans" font-size="7.2" text-anchor="middle" font-weight="normal" fill="#111" stroke="#111" stroke-width="0.28" dominant-baseline="central">V BLANK</text>
<polyline points="1385.0,658.3 1414.0,658.3" fill="none" stroke="#0a0a0a" stroke-width="0.8"/>
<text x="1400.0" y="683.5" font-family="Liberation Sans" font-size="7.2" text-anchor="middle" font-weight="normal" fill="#111" stroke="#111" stroke-width="0.28" dominant-baseline="central">V BLANK</text>
<text transform="translate(1435.0,649.0) scale(0.86,1)" font-family="Liberation Sans" font-size="7.32" text-anchor="middle" font-weight="normal" fill="#111" stroke="#111" stroke-width="0.28" dominant-baseline="central">IC8A</text>
<text transform="translate(1434.0,656.0) scale(0.86,1)" font-family="Liberation Sans" font-size="5.12" text-anchor="middle" font-weight="normal" fill="#111" stroke="#111" stroke-width="0.28" dominant-baseline="central">PIN 12</text>
<text transform="translate(1466.0,653.0) scale(0.86,1)" font-family="Liberation Sans" font-size="6.71" text-anchor="middle" font-weight="normal" font-style="italic" fill="#111" stroke="#111" stroke-width="0.28" dominant-baseline="central">SHEET 2</text>
<text transform="translate(1435.0,663.0) scale(0.86,1)" font-family="Liberation Sans" font-size="7.32" text-anchor="middle" font-weight="normal" fill="#111" stroke="#111" stroke-width="0.28" dominant-baseline="central">IC6H</text>
<text transform="translate(1434.0,670.0) scale(0.86,1)" font-family="Liberation Sans" font-size="5.12" text-anchor="middle" font-weight="normal" fill="#111" stroke="#111" stroke-width="0.28" dominant-baseline="central">PIN 5</text>
<text transform="translate(1463.0,664.5) scale(0.86,1)" font-family="Liberation Sans" font-size="6.71" text-anchor="middle" font-weight="normal" font-style="italic" fill="#111" stroke="#111" stroke-width="0.28" dominant-baseline="central">SHEET 3</text>
<text transform="translate(1437.5,684.0) scale(0.86,1)" font-family="Liberation Sans" font-size="6.71" text-anchor="middle" font-weight="normal" fill="#111" stroke="#111" stroke-width="0.28" dominant-baseline="central">IC 5C</text>
<text transform="translate(1432.0,692.0) scale(0.86,1)" font-family="Liberation Sans" font-size="5.12" text-anchor="middle" font-weight="normal" fill="#111" stroke="#111" stroke-width="0.28" dominant-baseline="central">PIN 11</text>
<path d="M1345.2,576 L1354.8999999999999,576 A6.4,6.4 0 0 1 1354.8999999999999,588.8 L1345.2,588.8 Z" fill="white" stroke="#0a0a0a" stroke-width="1.3"/>
<text transform="translate(1352.0,582.4) scale(0.86,1)" font-family="Liberation Sans" font-size="9.15" text-anchor="middle" font-weight="normal" fill="#111" stroke="#111" stroke-width="0.28" dominant-baseline="central">7L</text>
<text transform="translate(1341.0,574.5) scale(0.86,1)" font-family="Liberation Sans" font-size="5.12" text-anchor="middle" font-weight="normal" fill="#111" stroke="#111" stroke-width="0.28" dominant-baseline="central">1</text>
<text transform="translate(1341.5,583.5) scale(0.86,1)" font-family="Liberation Sans" font-size="5.12" text-anchor="middle" font-weight="normal" fill="#111" stroke="#111" stroke-width="0.28" dominant-baseline="central">2</text>
<text transform="translate(1365.0,578.5) scale(0.86,1)" font-family="Liberation Sans" font-size="5.49" text-anchor="middle" font-weight="normal" fill="#111" stroke="#111" stroke-width="0.28" dominant-baseline="central">3</text>
<text transform="translate(1358.5,595.5) scale(0.86,1)" font-family="Liberation Sans" font-size="6.71" text-anchor="middle" font-weight="normal" fill="#111" stroke="#111" stroke-width="0.28" dominant-baseline="central">LS08</text>
<polyline points="1361.3,582.5 1390.0,582.5" fill="none" stroke="#0a0a0a" stroke-width="1.3"/>
<path d="M1395,582.5 L1390,580.25 L1390,584.75 Z" fill="#0a0a0a" stroke="#0a0a0a" stroke-width="0.8"/>
<text x="1419.0" y="583.5" font-family="Liberation Sans" font-size="6.6" text-anchor="middle" font-weight="normal" fill="#111" stroke="#111" stroke-width="0.28" dominant-baseline="central">COMP  SYNC</text>
<polyline points="1397.0,578.0 1441.0,578.0" fill="none" stroke="#0a0a0a" stroke-width="0.8"/>
<text transform="translate(1472.0,580.0) scale(0.86,1)" font-family="Liberation Sans" font-size="7.08" text-anchor="middle" font-weight="normal" fill="#111" stroke="#111" stroke-width="0.28" dominant-baseline="central">IC 6H   SHT3</text>
<text transform="translate(1462.0,588.0) scale(0.86,1)" font-family="Liberation Sans" font-size="5.12" text-anchor="middle" font-weight="normal" fill="#111" stroke="#111" stroke-width="0.28" dominant-baseline="central">PIN 12</text>
</svg></body></html>
